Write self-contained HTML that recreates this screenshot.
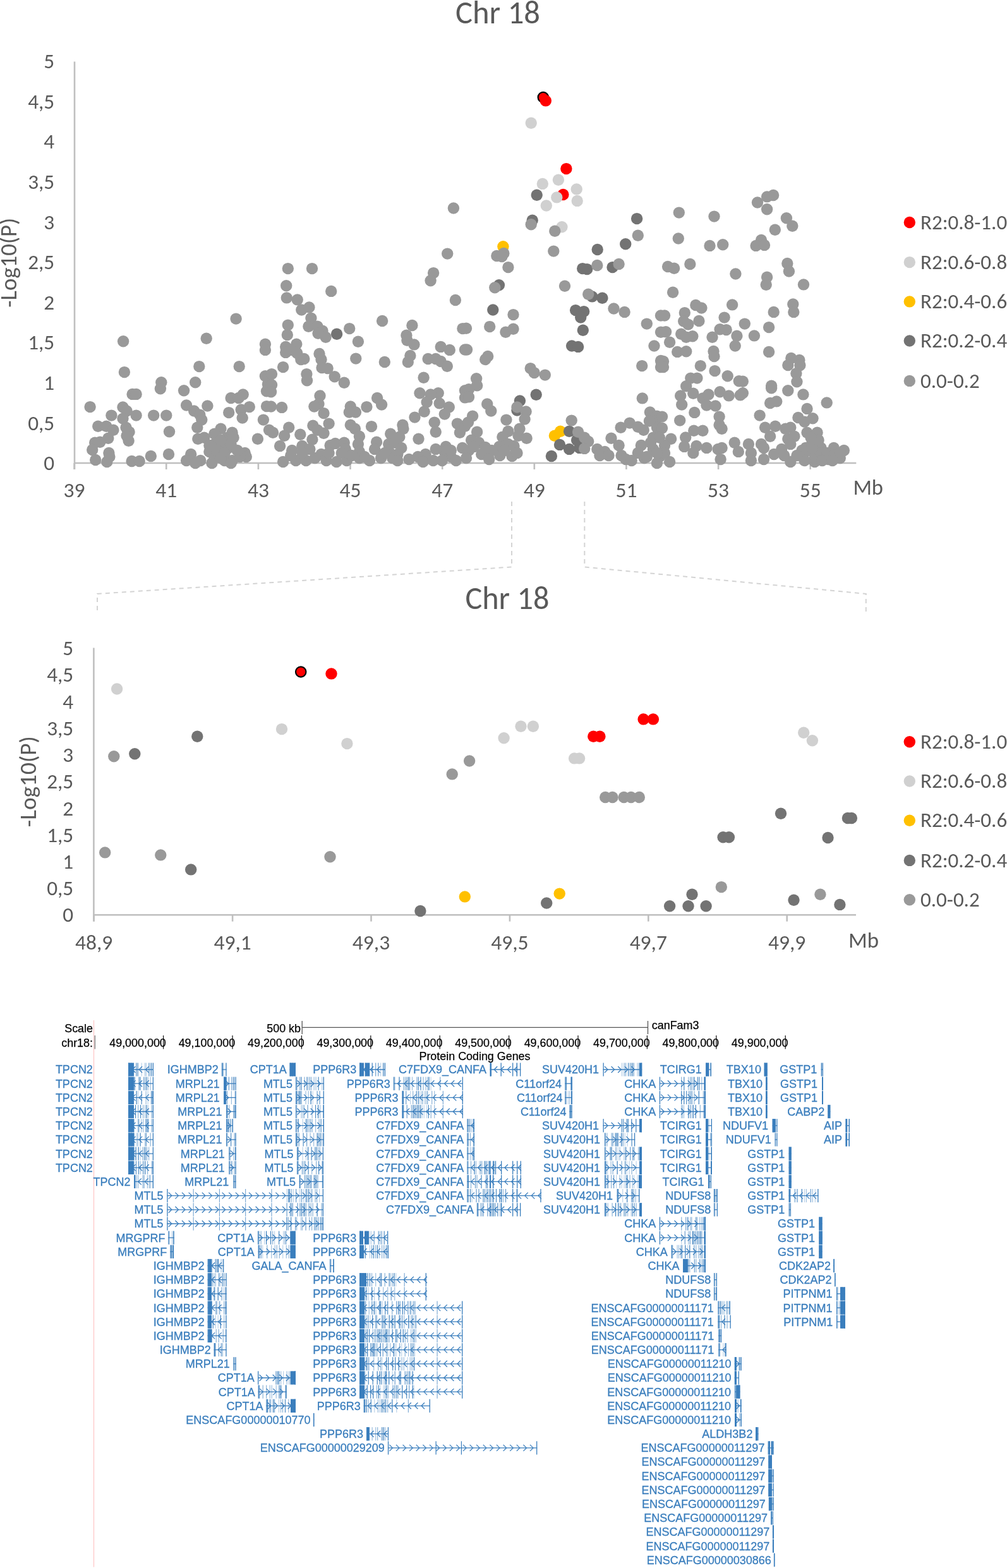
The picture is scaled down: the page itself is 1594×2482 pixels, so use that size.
<!DOCTYPE html>
<html><head><meta charset="utf-8"><title>Chr 18 association plot</title>
<style>html,body{margin:0;padding:0;background:#fff;} body{width:1594px;height:2482px;overflow:hidden;} svg{display:block;}</style>
</head><body>
<svg width="1594" height="2482" viewBox="0 0 1594 2482">
<rect width="1594" height="2482" fill="#fff"/>
<g font-family="Carlito, 'Liberation Sans', sans-serif" fill="#595959">
<text x="721" y="36.8" font-size="50.7" textLength="134" lengthAdjust="spacingAndGlyphs">Chr 18</text>
<text x="736.4" y="963.6" font-size="50.5" textLength="133" lengthAdjust="spacingAndGlyphs">Chr 18</text>
<g stroke="#bfbfbf" stroke-width="2.6" fill="none">
<line x1="118" y1="97.5" x2="118" y2="743"/>
<line x1="118" y1="733" x2="1355.3" y2="733"/>
<line x1="117.6" y1="733" x2="117.6" y2="743"/>
<line x1="263.2" y1="733" x2="263.2" y2="743"/>
<line x1="408.9" y1="733" x2="408.9" y2="743"/>
<line x1="554.5" y1="733" x2="554.5" y2="743"/>
<line x1="700.2" y1="733" x2="700.2" y2="743"/>
<line x1="845.8" y1="733" x2="845.8" y2="743"/>
<line x1="991.4" y1="733" x2="991.4" y2="743"/>
<line x1="1137.1" y1="733" x2="1137.1" y2="743"/>
<line x1="1282.7" y1="733" x2="1282.7" y2="743"/>
</g>
<text x="86.2" y="744.2" text-anchor="end" font-size="33.3" textLength="16.88" lengthAdjust="spacingAndGlyphs">0</text>
<text x="86.2" y="680.6" text-anchor="end" font-size="33.3" textLength="42.07" lengthAdjust="spacingAndGlyphs">0,5</text>
<text x="86.2" y="617" text-anchor="end" font-size="33.3" textLength="16.88" lengthAdjust="spacingAndGlyphs">1</text>
<text x="86.2" y="553.4" text-anchor="end" font-size="33.3" textLength="42.07" lengthAdjust="spacingAndGlyphs">1,5</text>
<text x="86.2" y="489.8" text-anchor="end" font-size="33.3" textLength="16.88" lengthAdjust="spacingAndGlyphs">2</text>
<text x="86.2" y="426.2" text-anchor="end" font-size="33.3" textLength="42.07" lengthAdjust="spacingAndGlyphs">2,5</text>
<text x="86.2" y="362.6" text-anchor="end" font-size="33.3" textLength="16.88" lengthAdjust="spacingAndGlyphs">3</text>
<text x="86.2" y="299" text-anchor="end" font-size="33.3" textLength="42.07" lengthAdjust="spacingAndGlyphs">3,5</text>
<text x="86.2" y="235.4" text-anchor="end" font-size="33.3" textLength="16.88" lengthAdjust="spacingAndGlyphs">4</text>
<text x="86.2" y="171.8" text-anchor="end" font-size="33.3" textLength="42.07" lengthAdjust="spacingAndGlyphs">4,5</text>
<text x="86.2" y="108.2" text-anchor="end" font-size="33.3" textLength="16.88" lengthAdjust="spacingAndGlyphs">5</text>
<text x="117.6" y="787.4" text-anchor="middle" font-size="33.5" textLength="33.96" lengthAdjust="spacingAndGlyphs">39</text>
<text x="263.2" y="787.4" text-anchor="middle" font-size="33.5" textLength="33.96" lengthAdjust="spacingAndGlyphs">41</text>
<text x="408.9" y="787.4" text-anchor="middle" font-size="33.5" textLength="33.96" lengthAdjust="spacingAndGlyphs">43</text>
<text x="554.5" y="787.4" text-anchor="middle" font-size="33.5" textLength="33.96" lengthAdjust="spacingAndGlyphs">45</text>
<text x="700.2" y="787.4" text-anchor="middle" font-size="33.5" textLength="33.96" lengthAdjust="spacingAndGlyphs">47</text>
<text x="845.8" y="787.4" text-anchor="middle" font-size="33.5" textLength="33.96" lengthAdjust="spacingAndGlyphs">49</text>
<text x="991.4" y="787.4" text-anchor="middle" font-size="33.5" textLength="33.96" lengthAdjust="spacingAndGlyphs">51</text>
<text x="1137.1" y="787.4" text-anchor="middle" font-size="33.5" textLength="33.96" lengthAdjust="spacingAndGlyphs">53</text>
<text x="1282.7" y="787.4" text-anchor="middle" font-size="33.5" textLength="33.96" lengthAdjust="spacingAndGlyphs">55</text>
<text x="1350.4" y="783.2" font-size="35.5" textLength="47.6" lengthAdjust="spacingAndGlyphs">Mb</text>
<text transform="translate(25.5,486.8) rotate(-90)" font-size="36.5" textLength="142" lengthAdjust="spacingAndGlyphs">-Log10(P)</text>
<g stroke="#bfbfbf" stroke-width="2.6" fill="none">
<line x1="148.4" y1="1025.4" x2="148.4" y2="1458.6"/>
<line x1="148.4" y1="1448.2" x2="1355" y2="1448.2"/>
<line x1="148.7" y1="1448.2" x2="148.7" y2="1458.6"/>
<line x1="368.1" y1="1448.2" x2="368.1" y2="1458.6"/>
<line x1="587.5" y1="1448.2" x2="587.5" y2="1458.6"/>
<line x1="806.9" y1="1448.2" x2="806.9" y2="1458.6"/>
<line x1="1026.3" y1="1448.2" x2="1026.3" y2="1458.6"/>
<line x1="1245.7" y1="1448.2" x2="1245.7" y2="1458.6"/>
</g>
<text x="116.2" y="1459.4" text-anchor="end" font-size="33.3" textLength="16.88" lengthAdjust="spacingAndGlyphs">0</text>
<text x="116.2" y="1417.1" text-anchor="end" font-size="33.3" textLength="42.07" lengthAdjust="spacingAndGlyphs">0,5</text>
<text x="116.2" y="1374.9" text-anchor="end" font-size="33.3" textLength="16.88" lengthAdjust="spacingAndGlyphs">1</text>
<text x="116.2" y="1332.7" text-anchor="end" font-size="33.3" textLength="42.07" lengthAdjust="spacingAndGlyphs">1,5</text>
<text x="116.2" y="1290.5" text-anchor="end" font-size="33.3" textLength="16.88" lengthAdjust="spacingAndGlyphs">2</text>
<text x="116.2" y="1248.3" text-anchor="end" font-size="33.3" textLength="42.07" lengthAdjust="spacingAndGlyphs">2,5</text>
<text x="116.2" y="1206" text-anchor="end" font-size="33.3" textLength="16.88" lengthAdjust="spacingAndGlyphs">3</text>
<text x="116.2" y="1163.8" text-anchor="end" font-size="33.3" textLength="42.07" lengthAdjust="spacingAndGlyphs">3,5</text>
<text x="116.2" y="1121.6" text-anchor="end" font-size="33.3" textLength="16.88" lengthAdjust="spacingAndGlyphs">4</text>
<text x="116.2" y="1079.4" text-anchor="end" font-size="33.3" textLength="42.07" lengthAdjust="spacingAndGlyphs">4,5</text>
<text x="116.2" y="1037.2" text-anchor="end" font-size="33.3" textLength="16.88" lengthAdjust="spacingAndGlyphs">5</text>
<text x="148.7" y="1503.3" text-anchor="middle" font-size="33.5" textLength="59.30" lengthAdjust="spacingAndGlyphs">48,9</text>
<text x="368.1" y="1503.3" text-anchor="middle" font-size="33.5" textLength="59.30" lengthAdjust="spacingAndGlyphs">49,1</text>
<text x="587.5" y="1503.3" text-anchor="middle" font-size="33.5" textLength="59.30" lengthAdjust="spacingAndGlyphs">49,3</text>
<text x="806.9" y="1503.3" text-anchor="middle" font-size="33.5" textLength="59.30" lengthAdjust="spacingAndGlyphs">49,5</text>
<text x="1026.3" y="1503.3" text-anchor="middle" font-size="33.5" textLength="59.30" lengthAdjust="spacingAndGlyphs">49,7</text>
<text x="1245.7" y="1503.3" text-anchor="middle" font-size="33.5" textLength="59.30" lengthAdjust="spacingAndGlyphs">49,9</text>
<text x="1343" y="1499.5" font-size="35.5" textLength="48" lengthAdjust="spacingAndGlyphs">Mb</text>
<text transform="translate(56.5,1309.2) rotate(-90)" font-size="36.5" textLength="144" lengthAdjust="spacingAndGlyphs">-Log10(P)</text>
<circle cx="1439.8" cy="352.0" r="9.2" fill="#ff0000" stroke="none"/>
<text x="1457" y="362.6" font-size="33" textLength="137.15" lengthAdjust="spacingAndGlyphs">R2:0.8-1.0</text>
<circle cx="1439.8" cy="415.1" r="9.2" fill="#d0d0d0" stroke="none"/>
<text x="1457" y="425.7" font-size="33" textLength="137.15" lengthAdjust="spacingAndGlyphs">R2:0.6-0.8</text>
<circle cx="1439.8" cy="477.4" r="9.2" fill="#ffc000" stroke="none"/>
<text x="1457" y="488" font-size="33" textLength="137.15" lengthAdjust="spacingAndGlyphs">R2:0.4-0.6</text>
<circle cx="1439.8" cy="539.5" r="9.2" fill="#737373" stroke="none"/>
<text x="1457" y="550.1" font-size="33" textLength="137.15" lengthAdjust="spacingAndGlyphs">R2:0.2-0.4</text>
<circle cx="1439.8" cy="602.9" r="9.2" fill="#999999" stroke="none"/>
<text x="1457" y="613.5" font-size="33" textLength="93.67" lengthAdjust="spacingAndGlyphs">0.0-0.2</text>
<circle cx="1439.8" cy="1174.3" r="9.2" fill="#ff0000" stroke="none"/>
<text x="1457" y="1184.9" font-size="33" textLength="137.15" lengthAdjust="spacingAndGlyphs">R2:0.8-1.0</text>
<circle cx="1439.8" cy="1236.5" r="9.2" fill="#d0d0d0" stroke="none"/>
<text x="1457" y="1247.1" font-size="33" textLength="137.15" lengthAdjust="spacingAndGlyphs">R2:0.6-0.8</text>
<circle cx="1439.8" cy="1298.8" r="9.2" fill="#ffc000" stroke="none"/>
<text x="1457" y="1309.4" font-size="33" textLength="137.15" lengthAdjust="spacingAndGlyphs">R2:0.4-0.6</text>
<circle cx="1439.8" cy="1361.9" r="9.2" fill="#737373" stroke="none"/>
<text x="1457" y="1372.5" font-size="33" textLength="137.15" lengthAdjust="spacingAndGlyphs">R2:0.2-0.4</text>
<circle cx="1439.8" cy="1424.2" r="9.2" fill="#999999" stroke="none"/>
<text x="1457" y="1434.8" font-size="33" textLength="93.67" lengthAdjust="spacingAndGlyphs">0.0-0.2</text>
</g>
<g stroke="#d4d4d4" stroke-width="2" fill="none" stroke-dasharray="7 6">
<path d="M810,794 L810,897.5 L154,940 L154,972"/>
<path d="M925.3,794 L925.3,897.5 L1370.8,940 L1370.8,971"/>
</g>
<g>
<circle cx="859.8" cy="154.0" r="8.2" fill="#ff0000" stroke="#000" stroke-width="2.2"/>
<circle cx="863.8" cy="159.4" r="9.2" fill="#ff0000"/>
<circle cx="896.4" cy="267.1" r="9.2" fill="#ff0000"/>
<circle cx="891.4" cy="308.0" r="9.2" fill="#ff0000"/>
<circle cx="840.7" cy="194.7" r="9.2" fill="#d0d0d0"/>
<circle cx="858.8" cy="290.9" r="9.2" fill="#d0d0d0"/>
<circle cx="883.9" cy="284.7" r="9.2" fill="#d0d0d0"/>
<circle cx="912.7" cy="299.4" r="9.2" fill="#d0d0d0"/>
<circle cx="881.3" cy="312.4" r="9.2" fill="#d0d0d0"/>
<circle cx="864.8" cy="325.5" r="9.2" fill="#d0d0d0"/>
<circle cx="913.7" cy="317.9" r="9.2" fill="#d0d0d0"/>
<circle cx="889.4" cy="359.3" r="9.2" fill="#d0d0d0"/>
<circle cx="796.4" cy="390.3" r="9.2" fill="#ffc000"/>
<circle cx="887.0" cy="682.7" r="9.2" fill="#ffc000"/>
<circle cx="877.9" cy="689.8" r="9.2" fill="#ffc000"/>
<circle cx="533.1" cy="528.7" r="9.2" fill="#737373"/>
<circle cx="849.7" cy="308.8" r="9.2" fill="#737373"/>
<circle cx="842.7" cy="348.7" r="9.2" fill="#737373"/>
<circle cx="1008.1" cy="346.1" r="9.2" fill="#737373"/>
<circle cx="990.2" cy="386.3" r="9.2" fill="#737373"/>
<circle cx="945.7" cy="395.0" r="9.2" fill="#737373"/>
<circle cx="789.9" cy="451.2" r="9.2" fill="#737373"/>
<circle cx="780.3" cy="490.5" r="9.2" fill="#737373"/>
<circle cx="929.2" cy="426.1" r="9.2" fill="#737373"/>
<circle cx="969.5" cy="423.1" r="9.2" fill="#737373"/>
<circle cx="937.3" cy="469.4" r="9.2" fill="#737373"/>
<circle cx="953.4" cy="471.8" r="9.2" fill="#737373"/>
<circle cx="911.1" cy="491.1" r="9.2" fill="#737373"/>
<circle cx="924.2" cy="493.1" r="9.2" fill="#737373"/>
<circle cx="919.2" cy="502.6" r="9.2" fill="#737373"/>
<circle cx="922.8" cy="522.7" r="9.2" fill="#737373"/>
<circle cx="905.1" cy="547.5" r="9.2" fill="#737373"/>
<circle cx="915.1" cy="548.9" r="9.2" fill="#737373"/>
<circle cx="848.7" cy="624.8" r="9.2" fill="#737373"/>
<circle cx="822.9" cy="634.4" r="9.2" fill="#737373"/>
<circle cx="818.5" cy="649.5" r="9.2" fill="#737373"/>
<circle cx="901.1" cy="682.7" r="9.2" fill="#737373"/>
<circle cx="886.0" cy="703.9" r="9.2" fill="#737373"/>
<circle cx="901.1" cy="710.9" r="9.2" fill="#737373"/>
<circle cx="913.1" cy="696.8" r="9.2" fill="#737373"/>
<circle cx="917.2" cy="708.9" r="9.2" fill="#737373"/>
<circle cx="872.9" cy="722.0" r="9.2" fill="#737373"/>
<circle cx="922.2" cy="425.1" r="9.2" fill="#737373"/>
<circle cx="195.1" cy="540.2" r="9.2" fill="#999999"/>
<circle cx="196.9" cy="589.1" r="9.2" fill="#999999"/>
<circle cx="326.7" cy="535.8" r="9.2" fill="#999999"/>
<circle cx="373.6" cy="504.6" r="9.2" fill="#999999"/>
<circle cx="315.3" cy="580.1" r="9.2" fill="#999999"/>
<circle cx="378.7" cy="580.1" r="9.2" fill="#999999"/>
<circle cx="419.9" cy="544.8" r="9.2" fill="#999999"/>
<circle cx="419.9" cy="553.9" r="9.2" fill="#999999"/>
<circle cx="255.3" cy="605.2" r="9.2" fill="#999999"/>
<circle cx="253.9" cy="615.3" r="9.2" fill="#999999"/>
<circle cx="309.2" cy="605.2" r="9.2" fill="#999999"/>
<circle cx="291.1" cy="618.3" r="9.2" fill="#999999"/>
<circle cx="209.6" cy="623.9" r="9.2" fill="#999999"/>
<circle cx="215.6" cy="623.9" r="9.2" fill="#999999"/>
<circle cx="142.6" cy="644.1" r="9.2" fill="#999999"/>
<circle cx="194.5" cy="644.5" r="9.2" fill="#999999"/>
<circle cx="200.5" cy="650.5" r="9.2" fill="#999999"/>
<circle cx="176.4" cy="657.6" r="9.2" fill="#999999"/>
<circle cx="215.6" cy="657.6" r="9.2" fill="#999999"/>
<circle cx="194.5" cy="662.6" r="9.2" fill="#999999"/>
<circle cx="243.2" cy="657.6" r="9.2" fill="#999999"/>
<circle cx="263.3" cy="657.6" r="9.2" fill="#999999"/>
<circle cx="295.1" cy="641.5" r="9.2" fill="#999999"/>
<circle cx="307.2" cy="650.5" r="9.2" fill="#999999"/>
<circle cx="316.3" cy="656.6" r="9.2" fill="#999999"/>
<circle cx="319.3" cy="664.6" r="9.2" fill="#999999"/>
<circle cx="312.3" cy="676.7" r="9.2" fill="#999999"/>
<circle cx="328.4" cy="642.5" r="9.2" fill="#999999"/>
<circle cx="365.6" cy="630.0" r="9.2" fill="#999999"/>
<circle cx="377.7" cy="630.0" r="9.2" fill="#999999"/>
<circle cx="384.7" cy="624.4" r="9.2" fill="#999999"/>
<circle cx="362.2" cy="653.1" r="9.2" fill="#999999"/>
<circle cx="381.7" cy="648.5" r="9.2" fill="#999999"/>
<circle cx="394.8" cy="644.1" r="9.2" fill="#999999"/>
<circle cx="383.7" cy="661.6" r="9.2" fill="#999999"/>
<circle cx="419.9" cy="595.2" r="9.2" fill="#999999"/>
<circle cx="424.0" cy="608.2" r="9.2" fill="#999999"/>
<circle cx="422.0" cy="619.3" r="9.2" fill="#999999"/>
<circle cx="422.0" cy="643.1" r="9.2" fill="#999999"/>
<circle cx="416.9" cy="664.6" r="9.2" fill="#999999"/>
<circle cx="426.0" cy="680.7" r="9.2" fill="#999999"/>
<circle cx="155.2" cy="674.7" r="9.2" fill="#999999"/>
<circle cx="168.3" cy="674.7" r="9.2" fill="#999999"/>
<circle cx="179.4" cy="680.7" r="9.2" fill="#999999"/>
<circle cx="199.5" cy="676.7" r="9.2" fill="#999999"/>
<circle cx="204.6" cy="683.7" r="9.2" fill="#999999"/>
<circle cx="200.5" cy="689.8" r="9.2" fill="#999999"/>
<circle cx="203.6" cy="697.8" r="9.2" fill="#999999"/>
<circle cx="171.3" cy="693.8" r="9.2" fill="#999999"/>
<circle cx="158.3" cy="699.8" r="9.2" fill="#999999"/>
<circle cx="150.2" cy="700.8" r="9.2" fill="#999999"/>
<circle cx="146.2" cy="711.9" r="9.2" fill="#999999"/>
<circle cx="172.4" cy="716.9" r="9.2" fill="#999999"/>
<circle cx="173.4" cy="723.0" r="9.2" fill="#999999"/>
<circle cx="151.2" cy="728.0" r="9.2" fill="#999999"/>
<circle cx="169.3" cy="731.0" r="9.2" fill="#999999"/>
<circle cx="268.0" cy="683.3" r="9.2" fill="#999999"/>
<circle cx="238.8" cy="722.0" r="9.2" fill="#999999"/>
<circle cx="267.0" cy="719.0" r="9.2" fill="#999999"/>
<circle cx="208.6" cy="730.0" r="9.2" fill="#999999"/>
<circle cx="220.7" cy="730.0" r="9.2" fill="#999999"/>
<circle cx="407.9" cy="694.8" r="9.2" fill="#999999"/>
<circle cx="313.3" cy="694.8" r="9.2" fill="#999999"/>
<circle cx="323.3" cy="692.8" r="9.2" fill="#999999"/>
<circle cx="349.5" cy="678.7" r="9.2" fill="#999999"/>
<circle cx="367.6" cy="684.7" r="9.2" fill="#999999"/>
<circle cx="359.6" cy="692.8" r="9.2" fill="#999999"/>
<circle cx="339.4" cy="702.9" r="9.2" fill="#999999"/>
<circle cx="359.6" cy="698.8" r="9.2" fill="#999999"/>
<circle cx="331.4" cy="714.9" r="9.2" fill="#999999"/>
<circle cx="349.5" cy="710.9" r="9.2" fill="#999999"/>
<circle cx="361.6" cy="708.9" r="9.2" fill="#999999"/>
<circle cx="339.4" cy="725.0" r="9.2" fill="#999999"/>
<circle cx="355.5" cy="729.0" r="9.2" fill="#999999"/>
<circle cx="367.6" cy="729.0" r="9.2" fill="#999999"/>
<circle cx="387.7" cy="716.9" r="9.2" fill="#999999"/>
<circle cx="389.8" cy="723.0" r="9.2" fill="#999999"/>
<circle cx="379.7" cy="723.0" r="9.2" fill="#999999"/>
<circle cx="302.2" cy="719.0" r="9.2" fill="#999999"/>
<circle cx="295.1" cy="729.0" r="9.2" fill="#999999"/>
<circle cx="317.3" cy="729.0" r="9.2" fill="#999999"/>
<circle cx="309.2" cy="733.1" r="9.2" fill="#999999"/>
<circle cx="335.4" cy="733.1" r="9.2" fill="#999999"/>
<circle cx="365.6" cy="733.1" r="9.2" fill="#999999"/>
<circle cx="455.8" cy="425.1" r="9.2" fill="#999999"/>
<circle cx="494.0" cy="425.1" r="9.2" fill="#999999"/>
<circle cx="453.2" cy="452.2" r="9.2" fill="#999999"/>
<circle cx="524.2" cy="460.9" r="9.2" fill="#999999"/>
<circle cx="453.8" cy="471.4" r="9.2" fill="#999999"/>
<circle cx="470.7" cy="474.4" r="9.2" fill="#999999"/>
<circle cx="477.3" cy="490.5" r="9.2" fill="#999999"/>
<circle cx="489.4" cy="486.5" r="9.2" fill="#999999"/>
<circle cx="492.4" cy="503.6" r="9.2" fill="#999999"/>
<circle cx="488.4" cy="516.7" r="9.2" fill="#999999"/>
<circle cx="502.5" cy="516.7" r="9.2" fill="#999999"/>
<circle cx="510.5" cy="523.7" r="9.2" fill="#999999"/>
<circle cx="503.5" cy="527.7" r="9.2" fill="#999999"/>
<circle cx="515.6" cy="533.8" r="9.2" fill="#999999"/>
<circle cx="455.8" cy="514.6" r="9.2" fill="#999999"/>
<circle cx="454.8" cy="530.1" r="9.2" fill="#999999"/>
<circle cx="553.2" cy="520.1" r="9.2" fill="#999999"/>
<circle cx="566.9" cy="540.8" r="9.2" fill="#999999"/>
<circle cx="605.1" cy="508.0" r="9.2" fill="#999999"/>
<circle cx="652.4" cy="515.0" r="9.2" fill="#999999"/>
<circle cx="643.4" cy="530.7" r="9.2" fill="#999999"/>
<circle cx="644.4" cy="538.8" r="9.2" fill="#999999"/>
<circle cx="655.5" cy="545.4" r="9.2" fill="#999999"/>
<circle cx="649.4" cy="563.0" r="9.2" fill="#999999"/>
<circle cx="645.8" cy="573.0" r="9.2" fill="#999999"/>
<circle cx="686.1" cy="432.1" r="9.2" fill="#999999"/>
<circle cx="681.6" cy="444.2" r="9.2" fill="#999999"/>
<circle cx="720.9" cy="475.0" r="9.2" fill="#999999"/>
<circle cx="732.4" cy="520.1" r="9.2" fill="#999999"/>
<circle cx="736.0" cy="553.5" r="9.2" fill="#999999"/>
<circle cx="469.3" cy="544.8" r="9.2" fill="#999999"/>
<circle cx="452.2" cy="548.9" r="9.2" fill="#999999"/>
<circle cx="460.2" cy="553.9" r="9.2" fill="#999999"/>
<circle cx="452.2" cy="557.9" r="9.2" fill="#999999"/>
<circle cx="470.3" cy="558.9" r="9.2" fill="#999999"/>
<circle cx="476.3" cy="569.0" r="9.2" fill="#999999"/>
<circle cx="481.3" cy="568.0" r="9.2" fill="#999999"/>
<circle cx="505.5" cy="559.9" r="9.2" fill="#999999"/>
<circle cx="508.5" cy="569.0" r="9.2" fill="#999999"/>
<circle cx="509.5" cy="582.1" r="9.2" fill="#999999"/>
<circle cx="518.6" cy="583.1" r="9.2" fill="#999999"/>
<circle cx="529.7" cy="596.2" r="9.2" fill="#999999"/>
<circle cx="544.8" cy="605.8" r="9.2" fill="#999999"/>
<circle cx="563.3" cy="567.6" r="9.2" fill="#999999"/>
<circle cx="608.8" cy="573.0" r="9.2" fill="#999999"/>
<circle cx="697.7" cy="548.9" r="9.2" fill="#999999"/>
<circle cx="711.8" cy="553.9" r="9.2" fill="#999999"/>
<circle cx="677.6" cy="568.0" r="9.2" fill="#999999"/>
<circle cx="689.7" cy="568.0" r="9.2" fill="#999999"/>
<circle cx="697.7" cy="572.0" r="9.2" fill="#999999"/>
<circle cx="707.8" cy="579.7" r="9.2" fill="#999999"/>
<circle cx="670.6" cy="597.8" r="9.2" fill="#999999"/>
<circle cx="448.1" cy="581.1" r="9.2" fill="#999999"/>
<circle cx="430.0" cy="592.1" r="9.2" fill="#999999"/>
<circle cx="485.4" cy="592.1" r="9.2" fill="#999999"/>
<circle cx="486.0" cy="602.2" r="9.2" fill="#999999"/>
<circle cx="430.0" cy="609.3" r="9.2" fill="#999999"/>
<circle cx="429.0" cy="620.3" r="9.2" fill="#999999"/>
<circle cx="429.0" cy="643.5" r="9.2" fill="#999999"/>
<circle cx="446.1" cy="644.9" r="9.2" fill="#999999"/>
<circle cx="506.5" cy="626.4" r="9.2" fill="#999999"/>
<circle cx="504.5" cy="639.4" r="9.2" fill="#999999"/>
<circle cx="497.4" cy="643.5" r="9.2" fill="#999999"/>
<circle cx="512.5" cy="654.1" r="9.2" fill="#999999"/>
<circle cx="554.8" cy="643.5" r="9.2" fill="#999999"/>
<circle cx="562.9" cy="652.5" r="9.2" fill="#999999"/>
<circle cx="552.8" cy="652.5" r="9.2" fill="#999999"/>
<circle cx="580.4" cy="644.1" r="9.2" fill="#999999"/>
<circle cx="597.1" cy="630.0" r="9.2" fill="#999999"/>
<circle cx="604.1" cy="640.5" r="9.2" fill="#999999"/>
<circle cx="664.5" cy="622.3" r="9.2" fill="#999999"/>
<circle cx="693.7" cy="622.3" r="9.2" fill="#999999"/>
<circle cx="681.6" cy="624.4" r="9.2" fill="#999999"/>
<circle cx="675.6" cy="636.4" r="9.2" fill="#999999"/>
<circle cx="695.7" cy="638.4" r="9.2" fill="#999999"/>
<circle cx="710.8" cy="644.5" r="9.2" fill="#999999"/>
<circle cx="703.8" cy="655.6" r="9.2" fill="#999999"/>
<circle cx="671.6" cy="651.5" r="9.2" fill="#999999"/>
<circle cx="656.5" cy="660.6" r="9.2" fill="#999999"/>
<circle cx="637.4" cy="672.7" r="9.2" fill="#999999"/>
<circle cx="638.4" cy="678.7" r="9.2" fill="#999999"/>
<circle cx="687.7" cy="668.6" r="9.2" fill="#999999"/>
<circle cx="689.7" cy="683.7" r="9.2" fill="#999999"/>
<circle cx="662.5" cy="694.8" r="9.2" fill="#999999"/>
<circle cx="736.0" cy="618.3" r="9.2" fill="#999999"/>
<circle cx="736.0" cy="629.4" r="9.2" fill="#999999"/>
<circle cx="723.9" cy="670.6" r="9.2" fill="#999999"/>
<circle cx="727.9" cy="684.7" r="9.2" fill="#999999"/>
<circle cx="736.0" cy="674.7" r="9.2" fill="#999999"/>
<circle cx="457.2" cy="676.7" r="9.2" fill="#999999"/>
<circle cx="432.0" cy="684.7" r="9.2" fill="#999999"/>
<circle cx="450.1" cy="689.8" r="9.2" fill="#999999"/>
<circle cx="475.3" cy="687.8" r="9.2" fill="#999999"/>
<circle cx="495.4" cy="673.7" r="9.2" fill="#999999"/>
<circle cx="502.5" cy="680.7" r="9.2" fill="#999999"/>
<circle cx="512.5" cy="685.7" r="9.2" fill="#999999"/>
<circle cx="520.6" cy="670.6" r="9.2" fill="#999999"/>
<circle cx="554.8" cy="672.7" r="9.2" fill="#999999"/>
<circle cx="561.9" cy="678.7" r="9.2" fill="#999999"/>
<circle cx="568.9" cy="690.8" r="9.2" fill="#999999"/>
<circle cx="588.0" cy="675.1" r="9.2" fill="#999999"/>
<circle cx="618.2" cy="686.8" r="9.2" fill="#999999"/>
<circle cx="632.3" cy="691.8" r="9.2" fill="#999999"/>
<circle cx="443.1" cy="705.9" r="9.2" fill="#999999"/>
<circle cx="462.2" cy="712.9" r="9.2" fill="#999999"/>
<circle cx="478.3" cy="705.9" r="9.2" fill="#999999"/>
<circle cx="494.4" cy="695.8" r="9.2" fill="#999999"/>
<circle cx="490.4" cy="710.9" r="9.2" fill="#999999"/>
<circle cx="522.6" cy="704.9" r="9.2" fill="#999999"/>
<circle cx="530.7" cy="701.9" r="9.2" fill="#999999"/>
<circle cx="544.8" cy="700.8" r="9.2" fill="#999999"/>
<circle cx="546.8" cy="710.9" r="9.2" fill="#999999"/>
<circle cx="566.9" cy="702.9" r="9.2" fill="#999999"/>
<circle cx="568.9" cy="714.9" r="9.2" fill="#999999"/>
<circle cx="596.1" cy="699.8" r="9.2" fill="#999999"/>
<circle cx="593.1" cy="710.9" r="9.2" fill="#999999"/>
<circle cx="615.2" cy="702.9" r="9.2" fill="#999999"/>
<circle cx="625.3" cy="700.8" r="9.2" fill="#999999"/>
<circle cx="635.3" cy="708.9" r="9.2" fill="#999999"/>
<circle cx="615.2" cy="712.9" r="9.2" fill="#999999"/>
<circle cx="705.8" cy="706.9" r="9.2" fill="#999999"/>
<circle cx="703.8" cy="714.9" r="9.2" fill="#999999"/>
<circle cx="713.8" cy="723.0" r="9.2" fill="#999999"/>
<circle cx="732.0" cy="708.9" r="9.2" fill="#999999"/>
<circle cx="673.6" cy="719.0" r="9.2" fill="#999999"/>
<circle cx="661.5" cy="723.0" r="9.2" fill="#999999"/>
<circle cx="647.4" cy="727.0" r="9.2" fill="#999999"/>
<circle cx="448.1" cy="731.0" r="9.2" fill="#999999"/>
<circle cx="468.3" cy="729.0" r="9.2" fill="#999999"/>
<circle cx="484.4" cy="729.0" r="9.2" fill="#999999"/>
<circle cx="508.5" cy="719.0" r="9.2" fill="#999999"/>
<circle cx="516.6" cy="729.0" r="9.2" fill="#999999"/>
<circle cx="532.7" cy="731.0" r="9.2" fill="#999999"/>
<circle cx="548.8" cy="729.0" r="9.2" fill="#999999"/>
<circle cx="568.9" cy="725.0" r="9.2" fill="#999999"/>
<circle cx="585.0" cy="729.0" r="9.2" fill="#999999"/>
<circle cx="603.1" cy="725.0" r="9.2" fill="#999999"/>
<circle cx="621.2" cy="725.0" r="9.2" fill="#999999"/>
<circle cx="629.3" cy="719.0" r="9.2" fill="#999999"/>
<circle cx="699.8" cy="729.0" r="9.2" fill="#999999"/>
<circle cx="721.9" cy="729.0" r="9.2" fill="#999999"/>
<circle cx="669.6" cy="731.0" r="9.2" fill="#999999"/>
<circle cx="717.9" cy="329.5" r="9.2" fill="#999999"/>
<circle cx="708.2" cy="401.6" r="9.2" fill="#999999"/>
<circle cx="840.7" cy="355.3" r="9.2" fill="#999999"/>
<circle cx="878.3" cy="365.8" r="9.2" fill="#999999"/>
<circle cx="1009.8" cy="372.8" r="9.2" fill="#999999"/>
<circle cx="876.3" cy="397.6" r="9.2" fill="#999999"/>
<circle cx="786.3" cy="405.0" r="9.2" fill="#999999"/>
<circle cx="797.4" cy="401.0" r="9.2" fill="#999999"/>
<circle cx="794.4" cy="406.0" r="9.2" fill="#999999"/>
<circle cx="804.4" cy="423.1" r="9.2" fill="#999999"/>
<circle cx="783.3" cy="455.3" r="9.2" fill="#999999"/>
<circle cx="894.0" cy="452.8" r="9.2" fill="#999999"/>
<circle cx="931.2" cy="465.7" r="9.2" fill="#999999"/>
<circle cx="945.3" cy="420.0" r="9.2" fill="#999999"/>
<circle cx="979.6" cy="418.0" r="9.2" fill="#999999"/>
<circle cx="812.5" cy="498.1" r="9.2" fill="#999999"/>
<circle cx="775.2" cy="517.1" r="9.2" fill="#999999"/>
<circle cx="800.4" cy="525.7" r="9.2" fill="#999999"/>
<circle cx="812.5" cy="520.7" r="9.2" fill="#999999"/>
<circle cx="738.0" cy="519.7" r="9.2" fill="#999999"/>
<circle cx="739.0" cy="553.5" r="9.2" fill="#999999"/>
<circle cx="772.2" cy="564.0" r="9.2" fill="#999999"/>
<circle cx="768.2" cy="569.0" r="9.2" fill="#999999"/>
<circle cx="839.7" cy="583.1" r="9.2" fill="#999999"/>
<circle cx="845.7" cy="590.1" r="9.2" fill="#999999"/>
<circle cx="862.8" cy="593.6" r="9.2" fill="#999999"/>
<circle cx="971.5" cy="488.5" r="9.2" fill="#999999"/>
<circle cx="988.6" cy="493.9" r="9.2" fill="#999999"/>
<circle cx="1023.8" cy="512.6" r="9.2" fill="#999999"/>
<circle cx="1046.0" cy="499.5" r="9.2" fill="#999999"/>
<circle cx="1046.0" cy="525.7" r="9.2" fill="#999999"/>
<circle cx="1035.5" cy="547.5" r="9.2" fill="#999999"/>
<circle cx="1016.2" cy="579.1" r="9.2" fill="#999999"/>
<circle cx="1046.0" cy="571.0" r="9.2" fill="#999999"/>
<circle cx="1046.0" cy="581.1" r="9.2" fill="#999999"/>
<circle cx="754.1" cy="599.2" r="9.2" fill="#999999"/>
<circle cx="755.1" cy="610.3" r="9.2" fill="#999999"/>
<circle cx="742.0" cy="616.3" r="9.2" fill="#999999"/>
<circle cx="742.0" cy="628.4" r="9.2" fill="#999999"/>
<circle cx="771.2" cy="639.4" r="9.2" fill="#999999"/>
<circle cx="777.3" cy="650.5" r="9.2" fill="#999999"/>
<circle cx="818.5" cy="644.5" r="9.2" fill="#999999"/>
<circle cx="832.6" cy="651.5" r="9.2" fill="#999999"/>
<circle cx="830.6" cy="663.6" r="9.2" fill="#999999"/>
<circle cx="748.1" cy="658.6" r="9.2" fill="#999999"/>
<circle cx="741.0" cy="668.6" r="9.2" fill="#999999"/>
<circle cx="801.4" cy="664.6" r="9.2" fill="#999999"/>
<circle cx="804.4" cy="682.7" r="9.2" fill="#999999"/>
<circle cx="822.5" cy="678.7" r="9.2" fill="#999999"/>
<circle cx="820.5" cy="689.8" r="9.2" fill="#999999"/>
<circle cx="833.6" cy="693.8" r="9.2" fill="#999999"/>
<circle cx="795.4" cy="691.8" r="9.2" fill="#999999"/>
<circle cx="755.1" cy="683.7" r="9.2" fill="#999999"/>
<circle cx="746.1" cy="696.8" r="9.2" fill="#999999"/>
<circle cx="758.1" cy="700.8" r="9.2" fill="#999999"/>
<circle cx="768.2" cy="707.9" r="9.2" fill="#999999"/>
<circle cx="742.0" cy="712.9" r="9.2" fill="#999999"/>
<circle cx="762.2" cy="719.0" r="9.2" fill="#999999"/>
<circle cx="738.0" cy="725.0" r="9.2" fill="#999999"/>
<circle cx="790.3" cy="706.9" r="9.2" fill="#999999"/>
<circle cx="804.4" cy="702.9" r="9.2" fill="#999999"/>
<circle cx="813.5" cy="705.9" r="9.2" fill="#999999"/>
<circle cx="791.3" cy="721.0" r="9.2" fill="#999999"/>
<circle cx="810.5" cy="722.0" r="9.2" fill="#999999"/>
<circle cx="904.7" cy="665.6" r="9.2" fill="#999999"/>
<circle cx="915.1" cy="683.7" r="9.2" fill="#999999"/>
<circle cx="925.2" cy="692.8" r="9.2" fill="#999999"/>
<circle cx="931.2" cy="698.8" r="9.2" fill="#999999"/>
<circle cx="925.2" cy="709.9" r="9.2" fill="#999999"/>
<circle cx="945.3" cy="710.9" r="9.2" fill="#999999"/>
<circle cx="957.4" cy="714.9" r="9.2" fill="#999999"/>
<circle cx="967.5" cy="693.8" r="9.2" fill="#999999"/>
<circle cx="979.6" cy="704.9" r="9.2" fill="#999999"/>
<circle cx="949.4" cy="721.0" r="9.2" fill="#999999"/>
<circle cx="963.5" cy="721.0" r="9.2" fill="#999999"/>
<circle cx="983.6" cy="721.0" r="9.2" fill="#999999"/>
<circle cx="990.6" cy="727.0" r="9.2" fill="#999999"/>
<circle cx="1016.8" cy="630.4" r="9.2" fill="#999999"/>
<circle cx="982.6" cy="676.7" r="9.2" fill="#999999"/>
<circle cx="996.7" cy="669.6" r="9.2" fill="#999999"/>
<circle cx="1009.8" cy="675.7" r="9.2" fill="#999999"/>
<circle cx="1018.8" cy="680.7" r="9.2" fill="#999999"/>
<circle cx="1028.9" cy="652.5" r="9.2" fill="#999999"/>
<circle cx="1039.9" cy="658.6" r="9.2" fill="#999999"/>
<circle cx="1037.9" cy="666.6" r="9.2" fill="#999999"/>
<circle cx="1039.9" cy="676.7" r="9.2" fill="#999999"/>
<circle cx="1033.9" cy="692.8" r="9.2" fill="#999999"/>
<circle cx="1014.8" cy="704.9" r="9.2" fill="#999999"/>
<circle cx="1019.8" cy="725.0" r="9.2" fill="#999999"/>
<circle cx="1033.9" cy="710.9" r="9.2" fill="#999999"/>
<circle cx="1044.0" cy="723.0" r="9.2" fill="#999999"/>
<circle cx="1039.9" cy="733.1" r="9.2" fill="#999999"/>
<circle cx="1074.8" cy="336.6" r="9.2" fill="#999999"/>
<circle cx="1130.5" cy="342.6" r="9.2" fill="#999999"/>
<circle cx="1073.8" cy="377.5" r="9.2" fill="#999999"/>
<circle cx="1123.5" cy="388.9" r="9.2" fill="#999999"/>
<circle cx="1144.2" cy="387.3" r="9.2" fill="#999999"/>
<circle cx="1199.0" cy="320.5" r="9.2" fill="#999999"/>
<circle cx="1214.1" cy="311.4" r="9.2" fill="#999999"/>
<circle cx="1224.1" cy="309.0" r="9.2" fill="#999999"/>
<circle cx="1214.1" cy="331.2" r="9.2" fill="#999999"/>
<circle cx="1244.9" cy="345.2" r="9.2" fill="#999999"/>
<circle cx="1254.3" cy="357.7" r="9.2" fill="#999999"/>
<circle cx="1226.8" cy="363.8" r="9.2" fill="#999999"/>
<circle cx="1205.0" cy="379.9" r="9.2" fill="#999999"/>
<circle cx="1196.6" cy="388.9" r="9.2" fill="#999999"/>
<circle cx="1210.0" cy="387.9" r="9.2" fill="#999999"/>
<circle cx="1057.1" cy="422.0" r="9.2" fill="#999999"/>
<circle cx="1067.1" cy="424.7" r="9.2" fill="#999999"/>
<circle cx="1092.3" cy="418.0" r="9.2" fill="#999999"/>
<circle cx="1246.3" cy="417.0" r="9.2" fill="#999999"/>
<circle cx="1248.9" cy="429.5" r="9.2" fill="#999999"/>
<circle cx="1164.4" cy="433.5" r="9.2" fill="#999999"/>
<circle cx="1214.1" cy="438.8" r="9.2" fill="#999999"/>
<circle cx="1212.7" cy="450.8" r="9.2" fill="#999999"/>
<circle cx="1272.0" cy="450.4" r="9.2" fill="#999999"/>
<circle cx="1065.1" cy="462.7" r="9.2" fill="#999999"/>
<circle cx="1101.3" cy="483.0" r="9.2" fill="#999999"/>
<circle cx="1110.4" cy="487.5" r="9.2" fill="#999999"/>
<circle cx="1159.1" cy="482.4" r="9.2" fill="#999999"/>
<circle cx="1255.3" cy="481.4" r="9.2" fill="#999999"/>
<circle cx="1256.3" cy="493.9" r="9.2" fill="#999999"/>
<circle cx="1224.7" cy="493.9" r="9.2" fill="#999999"/>
<circle cx="1052.0" cy="499.5" r="9.2" fill="#999999"/>
<circle cx="1083.8" cy="495.1" r="9.2" fill="#999999"/>
<circle cx="1082.2" cy="508.6" r="9.2" fill="#999999"/>
<circle cx="1089.3" cy="513.6" r="9.2" fill="#999999"/>
<circle cx="1106.4" cy="508.0" r="9.2" fill="#999999"/>
<circle cx="1146.6" cy="502.6" r="9.2" fill="#999999"/>
<circle cx="1178.8" cy="512.6" r="9.2" fill="#999999"/>
<circle cx="1217.1" cy="518.1" r="9.2" fill="#999999"/>
<circle cx="1054.0" cy="525.3" r="9.2" fill="#999999"/>
<circle cx="1078.2" cy="528.7" r="9.2" fill="#999999"/>
<circle cx="1086.2" cy="533.8" r="9.2" fill="#999999"/>
<circle cx="1096.3" cy="532.2" r="9.2" fill="#999999"/>
<circle cx="1060.1" cy="541.8" r="9.2" fill="#999999"/>
<circle cx="1072.2" cy="556.9" r="9.2" fill="#999999"/>
<circle cx="1086.2" cy="556.3" r="9.2" fill="#999999"/>
<circle cx="1127.5" cy="533.8" r="9.2" fill="#999999"/>
<circle cx="1139.6" cy="521.3" r="9.2" fill="#999999"/>
<circle cx="1149.7" cy="522.1" r="9.2" fill="#999999"/>
<circle cx="1166.4" cy="531.8" r="9.2" fill="#999999"/>
<circle cx="1163.7" cy="547.5" r="9.2" fill="#999999"/>
<circle cx="1193.9" cy="531.4" r="9.2" fill="#999999"/>
<circle cx="1129.5" cy="555.9" r="9.2" fill="#999999"/>
<circle cx="1130.5" cy="564.0" r="9.2" fill="#999999"/>
<circle cx="1217.1" cy="556.9" r="9.2" fill="#999999"/>
<circle cx="1050.0" cy="572.0" r="9.2" fill="#999999"/>
<circle cx="1050.0" cy="581.1" r="9.2" fill="#999999"/>
<circle cx="1108.8" cy="579.1" r="9.2" fill="#999999"/>
<circle cx="1131.5" cy="587.1" r="9.2" fill="#999999"/>
<circle cx="1151.7" cy="595.2" r="9.2" fill="#999999"/>
<circle cx="1169.8" cy="603.2" r="9.2" fill="#999999"/>
<circle cx="1175.8" cy="603.8" r="9.2" fill="#999999"/>
<circle cx="1093.3" cy="598.6" r="9.2" fill="#999999"/>
<circle cx="1103.4" cy="598.6" r="9.2" fill="#999999"/>
<circle cx="1086.2" cy="611.3" r="9.2" fill="#999999"/>
<circle cx="1252.3" cy="567.0" r="9.2" fill="#999999"/>
<circle cx="1265.4" cy="570.0" r="9.2" fill="#999999"/>
<circle cx="1247.3" cy="578.1" r="9.2" fill="#999999"/>
<circle cx="1266.4" cy="578.1" r="9.2" fill="#999999"/>
<circle cx="1260.4" cy="591.1" r="9.2" fill="#999999"/>
<circle cx="1261.4" cy="604.2" r="9.2" fill="#999999"/>
<circle cx="1221.1" cy="610.7" r="9.2" fill="#999999"/>
<circle cx="1221.1" cy="614.3" r="9.2" fill="#999999"/>
<circle cx="1247.3" cy="618.3" r="9.2" fill="#999999"/>
<circle cx="1271.4" cy="624.4" r="9.2" fill="#999999"/>
<circle cx="1308.7" cy="637.4" r="9.2" fill="#999999"/>
<circle cx="1077.2" cy="626.4" r="9.2" fill="#999999"/>
<circle cx="1079.2" cy="640.5" r="9.2" fill="#999999"/>
<circle cx="1097.3" cy="622.7" r="9.2" fill="#999999"/>
<circle cx="1112.4" cy="630.4" r="9.2" fill="#999999"/>
<circle cx="1121.5" cy="624.4" r="9.2" fill="#999999"/>
<circle cx="1118.5" cy="641.5" r="9.2" fill="#999999"/>
<circle cx="1132.5" cy="642.5" r="9.2" fill="#999999"/>
<circle cx="1139.6" cy="620.3" r="9.2" fill="#999999"/>
<circle cx="1153.7" cy="626.4" r="9.2" fill="#999999"/>
<circle cx="1171.8" cy="625.4" r="9.2" fill="#999999"/>
<circle cx="1175.8" cy="622.3" r="9.2" fill="#999999"/>
<circle cx="1219.1" cy="638.0" r="9.2" fill="#999999"/>
<circle cx="1229.2" cy="635.4" r="9.2" fill="#999999"/>
<circle cx="1277.5" cy="646.9" r="9.2" fill="#999999"/>
<circle cx="1099.3" cy="652.9" r="9.2" fill="#999999"/>
<circle cx="1076.2" cy="665.6" r="9.2" fill="#999999"/>
<circle cx="1138.6" cy="659.6" r="9.2" fill="#999999"/>
<circle cx="1138.6" cy="672.7" r="9.2" fill="#999999"/>
<circle cx="1142.6" cy="678.7" r="9.2" fill="#999999"/>
<circle cx="1202.6" cy="657.6" r="9.2" fill="#999999"/>
<circle cx="1263.4" cy="661.0" r="9.2" fill="#999999"/>
<circle cx="1273.5" cy="667.6" r="9.2" fill="#999999"/>
<circle cx="1286.5" cy="662.2" r="9.2" fill="#999999"/>
<circle cx="1048.0" cy="659.6" r="9.2" fill="#999999"/>
<circle cx="1048.0" cy="677.7" r="9.2" fill="#999999"/>
<circle cx="1098.3" cy="681.7" r="9.2" fill="#999999"/>
<circle cx="1112.4" cy="681.7" r="9.2" fill="#999999"/>
<circle cx="1085.2" cy="692.4" r="9.2" fill="#999999"/>
<circle cx="1062.1" cy="694.8" r="9.2" fill="#999999"/>
<circle cx="1052.0" cy="704.9" r="9.2" fill="#999999"/>
<circle cx="1083.2" cy="706.9" r="9.2" fill="#999999"/>
<circle cx="1102.4" cy="705.9" r="9.2" fill="#999999"/>
<circle cx="1118.5" cy="708.9" r="9.2" fill="#999999"/>
<circle cx="1097.3" cy="716.9" r="9.2" fill="#999999"/>
<circle cx="1136.6" cy="710.9" r="9.2" fill="#999999"/>
<circle cx="1142.6" cy="708.9" r="9.2" fill="#999999"/>
<circle cx="1140.6" cy="727.0" r="9.2" fill="#999999"/>
<circle cx="1162.7" cy="700.8" r="9.2" fill="#999999"/>
<circle cx="1168.8" cy="714.9" r="9.2" fill="#999999"/>
<circle cx="1184.9" cy="702.9" r="9.2" fill="#999999"/>
<circle cx="1188.9" cy="716.9" r="9.2" fill="#999999"/>
<circle cx="1188.9" cy="729.0" r="9.2" fill="#999999"/>
<circle cx="1205.0" cy="702.9" r="9.2" fill="#999999"/>
<circle cx="1209.0" cy="708.9" r="9.2" fill="#999999"/>
<circle cx="1211.1" cy="676.7" r="9.2" fill="#999999"/>
<circle cx="1219.1" cy="690.8" r="9.2" fill="#999999"/>
<circle cx="1227.2" cy="674.7" r="9.2" fill="#999999"/>
<circle cx="1243.3" cy="678.7" r="9.2" fill="#999999"/>
<circle cx="1251.3" cy="676.7" r="9.2" fill="#999999"/>
<circle cx="1247.3" cy="694.8" r="9.2" fill="#999999"/>
<circle cx="1257.4" cy="690.8" r="9.2" fill="#999999"/>
<circle cx="1237.2" cy="710.9" r="9.2" fill="#999999"/>
<circle cx="1251.3" cy="702.9" r="9.2" fill="#999999"/>
<circle cx="1225.1" cy="719.0" r="9.2" fill="#999999"/>
<circle cx="1209.0" cy="727.0" r="9.2" fill="#999999"/>
<circle cx="1251.3" cy="731.0" r="9.2" fill="#999999"/>
<circle cx="1277.5" cy="684.7" r="9.2" fill="#999999"/>
<circle cx="1293.6" cy="684.7" r="9.2" fill="#999999"/>
<circle cx="1285.5" cy="700.8" r="9.2" fill="#999999"/>
<circle cx="1275.5" cy="708.9" r="9.2" fill="#999999"/>
<circle cx="1271.4" cy="723.0" r="9.2" fill="#999999"/>
<circle cx="1289.6" cy="719.0" r="9.2" fill="#999999"/>
<circle cx="1299.6" cy="708.9" r="9.2" fill="#999999"/>
<circle cx="1305.7" cy="721.0" r="9.2" fill="#999999"/>
<circle cx="1319.8" cy="708.9" r="9.2" fill="#999999"/>
<circle cx="1335.9" cy="712.9" r="9.2" fill="#999999"/>
<circle cx="1329.8" cy="725.0" r="9.2" fill="#999999"/>
<circle cx="1311.7" cy="727.0" r="9.2" fill="#999999"/>
<circle cx="1289.6" cy="731.0" r="9.2" fill="#999999"/>
<circle cx="1060.1" cy="731.0" r="9.2" fill="#999999"/>
<circle cx="1052.0" cy="716.9" r="9.2" fill="#999999"/>
<circle cx="339.4" cy="686.8" r="9.2" fill="#999999"/>
<circle cx="349.5" cy="696.8" r="9.2" fill="#999999"/>
<circle cx="343.5" cy="712.9" r="9.2" fill="#999999"/>
<circle cx="331.4" cy="704.9" r="9.2" fill="#999999"/>
<circle cx="355.5" cy="716.9" r="9.2" fill="#999999"/>
<circle cx="349.5" cy="725.0" r="9.2" fill="#999999"/>
<circle cx="365.6" cy="702.9" r="9.2" fill="#999999"/>
<circle cx="369.6" cy="692.8" r="9.2" fill="#999999"/>
<circle cx="375.7" cy="712.9" r="9.2" fill="#999999"/>
<circle cx="478.3" cy="716.9" r="9.2" fill="#999999"/>
<circle cx="498.5" cy="725.0" r="9.2" fill="#999999"/>
<circle cx="520.6" cy="716.9" r="9.2" fill="#999999"/>
<circle cx="540.7" cy="716.9" r="9.2" fill="#999999"/>
<circle cx="556.8" cy="721.0" r="9.2" fill="#999999"/>
<circle cx="609.2" cy="716.9" r="9.2" fill="#999999"/>
<circle cx="629.3" cy="729.0" r="9.2" fill="#999999"/>
<circle cx="685.7" cy="729.0" r="9.2" fill="#999999"/>
<circle cx="713.8" cy="712.9" r="9.2" fill="#999999"/>
<circle cx="689.7" cy="710.9" r="9.2" fill="#999999"/>
<circle cx="460.2" cy="721.0" r="9.2" fill="#999999"/>
<circle cx="577.0" cy="723.0" r="9.2" fill="#999999"/>
<circle cx="1027.9" cy="666.6" r="9.2" fill="#999999"/>
<circle cx="1044.0" cy="692.8" r="9.2" fill="#999999"/>
<circle cx="1029.9" cy="700.8" r="9.2" fill="#999999"/>
<circle cx="1023.8" cy="723.0" r="9.2" fill="#999999"/>
<circle cx="1039.9" cy="716.9" r="9.2" fill="#999999"/>
<circle cx="1009.8" cy="716.9" r="9.2" fill="#999999"/>
<circle cx="999.7" cy="729.0" r="9.2" fill="#999999"/>
<circle cx="750.1" cy="706.9" r="9.2" fill="#999999"/>
<circle cx="778.3" cy="712.9" r="9.2" fill="#999999"/>
<circle cx="798.4" cy="712.9" r="9.2" fill="#999999"/>
<circle cx="818.5" cy="716.9" r="9.2" fill="#999999"/>
<circle cx="774.2" cy="727.0" r="9.2" fill="#999999"/>
<circle cx="1279.5" cy="712.9" r="9.2" fill="#999999"/>
<circle cx="1289.6" cy="725.0" r="9.2" fill="#999999"/>
<circle cx="1299.6" cy="716.9" r="9.2" fill="#999999"/>
<circle cx="1309.7" cy="716.9" r="9.2" fill="#999999"/>
<circle cx="1319.8" cy="721.0" r="9.2" fill="#999999"/>
<circle cx="1285.5" cy="708.9" r="9.2" fill="#999999"/>
<circle cx="1269.4" cy="712.9" r="9.2" fill="#999999"/>
<circle cx="1295.6" cy="696.8" r="9.2" fill="#999999"/>
<circle cx="1283.5" cy="692.8" r="9.2" fill="#999999"/>
<circle cx="1329.8" cy="716.9" r="9.2" fill="#999999"/>
<circle cx="1301.6" cy="729.0" r="9.2" fill="#999999"/>
<circle cx="1317.7" cy="729.0" r="9.2" fill="#999999"/>
<circle cx="1273.5" cy="729.0" r="9.2" fill="#999999"/>
<circle cx="1241.2" cy="721.0" r="9.2" fill="#999999"/>
<circle cx="1261.4" cy="721.0" r="9.2" fill="#999999"/>
<circle cx="476.2" cy="1063.5" r="8.2" fill="#ff0000" stroke="#000" stroke-width="2.2"/>
<circle cx="524.5" cy="1066.4" r="9.2" fill="#ff0000"/>
<circle cx="939.3" cy="1165.8" r="9.2" fill="#ff0000"/>
<circle cx="949.4" cy="1165.8" r="9.2" fill="#ff0000"/>
<circle cx="1018.6" cy="1138.4" r="9.2" fill="#ff0000"/>
<circle cx="1033.9" cy="1138.4" r="9.2" fill="#ff0000"/>
<circle cx="185.1" cy="1090.5" r="9.2" fill="#d0d0d0"/>
<circle cx="446.0" cy="1154.1" r="9.2" fill="#d0d0d0"/>
<circle cx="549.4" cy="1177.1" r="9.2" fill="#d0d0d0"/>
<circle cx="797.6" cy="1168.2" r="9.2" fill="#d0d0d0"/>
<circle cx="824.5" cy="1149.7" r="9.2" fill="#d0d0d0"/>
<circle cx="843.9" cy="1149.7" r="9.2" fill="#d0d0d0"/>
<circle cx="909.1" cy="1200.4" r="9.2" fill="#d0d0d0"/>
<circle cx="917.1" cy="1200.4" r="9.2" fill="#d0d0d0"/>
<circle cx="1272.2" cy="1159.8" r="9.2" fill="#d0d0d0"/>
<circle cx="1285.9" cy="1172.2" r="9.2" fill="#d0d0d0"/>
<circle cx="735.8" cy="1419.4" r="9.2" fill="#ffc000"/>
<circle cx="885.7" cy="1414.6" r="9.2" fill="#ffc000"/>
<circle cx="213.3" cy="1193.2" r="9.2" fill="#737373"/>
<circle cx="312.3" cy="1165.8" r="9.2" fill="#737373"/>
<circle cx="302.2" cy="1376.4" r="9.2" fill="#737373"/>
<circle cx="665.4" cy="1442.0" r="9.2" fill="#737373"/>
<circle cx="1236.0" cy="1287.8" r="9.2" fill="#737373"/>
<circle cx="1144.6" cy="1325.2" r="9.2" fill="#737373"/>
<circle cx="1153.9" cy="1325.2" r="9.2" fill="#737373"/>
<circle cx="1310.5" cy="1326.0" r="9.2" fill="#737373"/>
<circle cx="1341.9" cy="1295.0" r="9.2" fill="#737373"/>
<circle cx="1347.9" cy="1295.0" r="9.2" fill="#737373"/>
<circle cx="1095.5" cy="1415.8" r="9.2" fill="#737373"/>
<circle cx="1060.1" cy="1434.3" r="9.2" fill="#737373"/>
<circle cx="1089.5" cy="1434.3" r="9.2" fill="#737373"/>
<circle cx="1117.6" cy="1434.3" r="9.2" fill="#737373"/>
<circle cx="1256.5" cy="1424.7" r="9.2" fill="#737373"/>
<circle cx="1329.4" cy="1431.9" r="9.2" fill="#737373"/>
<circle cx="865.2" cy="1429.5" r="9.2" fill="#737373"/>
<circle cx="180.3" cy="1197.2" r="9.2" fill="#999999"/>
<circle cx="166.2" cy="1349.4" r="9.2" fill="#999999"/>
<circle cx="254.3" cy="1353.4" r="9.2" fill="#999999"/>
<circle cx="522.5" cy="1356.2" r="9.2" fill="#999999"/>
<circle cx="715.7" cy="1225.4" r="9.2" fill="#999999"/>
<circle cx="743.1" cy="1204.5" r="9.2" fill="#999999"/>
<circle cx="958.2" cy="1262.0" r="9.2" fill="#999999"/>
<circle cx="969.5" cy="1262.0" r="9.2" fill="#999999"/>
<circle cx="987.6" cy="1262.0" r="9.2" fill="#999999"/>
<circle cx="998.9" cy="1262.0" r="9.2" fill="#999999"/>
<circle cx="1011.8" cy="1262.0" r="9.2" fill="#999999"/>
<circle cx="1141.8" cy="1404.1" r="9.2" fill="#999999"/>
<circle cx="1298.4" cy="1415.8" r="9.2" fill="#999999"/>
</g>
<g font-family="'Liberation Sans', Arial, Helvetica, sans-serif" font-size="17.9" fill="#000" stroke="#000" stroke-width="0.25">
<line x1="148.5" y1="1615" x2="148.5" y2="2480.5" stroke="#ffc4c4" stroke-width="1.2"/>
<text x="147" y="1634" text-anchor="end">Scale</text>
<text x="147" y="1656.6" text-anchor="end">chr18:</text>
<line x1="150.3" y1="1639" x2="150.3" y2="1660.5" stroke="#777" stroke-width="1.3"/>
<text x="476" y="1634" text-anchor="end">500 kb</text>
<g stroke="#555" stroke-width="1.3"><line x1="478.2" y1="1626.4" x2="1025.5" y2="1626.4"/><line x1="478.2" y1="1616" x2="478.2" y2="1637"/><line x1="1025.5" y1="1616" x2="1025.5" y2="1637"/></g>
<text x="1031.8" y="1629.3">canFam3</text>
<line x1="258.6" y1="1639" x2="258.6" y2="1660.5" stroke="#222" stroke-width="1.3"/>
<text x="262.8" y="1656.6" text-anchor="end">49,000,000</text>
<line x1="368" y1="1639" x2="368" y2="1660.5" stroke="#222" stroke-width="1.3"/>
<text x="372.2" y="1656.6" text-anchor="end">49,100,000</text>
<line x1="477.4" y1="1639" x2="477.4" y2="1660.5" stroke="#222" stroke-width="1.3"/>
<text x="481.6" y="1656.6" text-anchor="end">49,200,000</text>
<line x1="586.8" y1="1639" x2="586.8" y2="1660.5" stroke="#222" stroke-width="1.3"/>
<text x="591" y="1656.6" text-anchor="end">49,300,000</text>
<line x1="696.2" y1="1639" x2="696.2" y2="1660.5" stroke="#222" stroke-width="1.3"/>
<text x="700.4" y="1656.6" text-anchor="end">49,400,000</text>
<line x1="805.6" y1="1639" x2="805.6" y2="1660.5" stroke="#222" stroke-width="1.3"/>
<text x="809.8" y="1656.6" text-anchor="end">49,500,000</text>
<line x1="915" y1="1639" x2="915" y2="1660.5" stroke="#222" stroke-width="1.3"/>
<text x="919.2" y="1656.6" text-anchor="end">49,600,000</text>
<line x1="1024.4" y1="1639" x2="1024.4" y2="1660.5" stroke="#222" stroke-width="1.3"/>
<text x="1028.6" y="1656.6" text-anchor="end">49,700,000</text>
<line x1="1133.8" y1="1639" x2="1133.8" y2="1660.5" stroke="#222" stroke-width="1.3"/>
<text x="1138" y="1656.6" text-anchor="end">49,800,000</text>
<line x1="1243.2" y1="1639" x2="1243.2" y2="1660.5" stroke="#222" stroke-width="1.3"/>
<text x="1247.4" y="1656.6" text-anchor="end">49,900,000</text>
<text x="751.5" y="1678" text-anchor="middle">Protein Coding Genes</text>
</g>
<g font-family="'Liberation Sans', Arial, Helvetica, sans-serif" font-size="18.0" fill="#3a7ebd">
<text x="146.9" y="1699.4" text-anchor="end" stroke="#3a7ebd" stroke-width="0.3">TPCN2</text>
<line x1="203" y1="1693" x2="243" y2="1693" stroke="#3a7ebd" stroke-width="1.3"/><rect x="203" y="1682.4" width="1.3" height="21.2" fill="#3a7ebd"/><rect x="241.7" y="1682.4" width="1.3" height="21.2" fill="#3a7ebd"/><rect x="204.5" y="1682.4" width="1.2" height="21.2" fill="#3a7ebd" fill-opacity="0.6"/><rect x="207" y="1682.4" width="1.2" height="21.2" fill="#3a7ebd" fill-opacity="0.75"/><rect x="214" y="1682.4" width="1.2" height="21.2" fill="#3a7ebd" fill-opacity="0.35"/><rect x="216" y="1682.4" width="1.2" height="21.2" fill="#3a7ebd" fill-opacity="0.9"/><rect x="218" y="1682.4" width="1.2" height="21.2" fill="#3a7ebd" fill-opacity="0.6"/><rect x="223.5" y="1682.4" width="1.2" height="21.2" fill="#3a7ebd" fill-opacity="0.35"/><rect x="229" y="1682.4" width="1.2" height="21.2" fill="#3a7ebd" fill-opacity="0.5"/><rect x="231" y="1682.4" width="1.2" height="21.2" fill="#3a7ebd" fill-opacity="0.35"/><rect x="235" y="1682.4" width="1.2" height="21.2" fill="#3a7ebd" fill-opacity="0.75"/><rect x="237" y="1682.4" width="1.2" height="21.2" fill="#3a7ebd" fill-opacity="0.5"/><rect x="239" y="1682.4" width="1.2" height="21.2" fill="#3a7ebd" fill-opacity="0.9"/><rect x="203" y="1682.4" width="9" height="21.2" fill="#3a7ebd"/><path d="M214.5,1688 L209.5,1693 L214.5,1698" stroke="#3a7ebd" stroke-width="1.3" fill="none"/><path d="M225.1,1688 L220.1,1693 L225.1,1698" stroke="#3a7ebd" stroke-width="1.3" fill="none"/><path d="M235.7,1688 L230.7,1693 L235.7,1698" stroke="#3a7ebd" stroke-width="1.3" fill="none"/>
<text x="146.9" y="1721.6" text-anchor="end" stroke="#3a7ebd" stroke-width="0.3">TPCN2</text>
<line x1="203" y1="1715.2" x2="243" y2="1715.2" stroke="#3a7ebd" stroke-width="1.3"/><rect x="203" y="1704.6" width="1.3" height="21.2" fill="#3a7ebd"/><rect x="241.7" y="1704.6" width="1.3" height="21.2" fill="#3a7ebd"/><rect x="204.5" y="1704.6" width="1.2" height="21.2" fill="#3a7ebd" fill-opacity="0.35"/><rect x="210" y="1704.6" width="1.2" height="21.2" fill="#3a7ebd" fill-opacity="0.35"/><rect x="212.5" y="1704.6" width="1.2" height="21.2" fill="#3a7ebd" fill-opacity="1.0"/><rect x="219.5" y="1704.6" width="1.2" height="21.2" fill="#3a7ebd" fill-opacity="0.9"/><rect x="221.5" y="1704.6" width="1.2" height="21.2" fill="#3a7ebd" fill-opacity="0.9"/><rect x="227" y="1704.6" width="1.2" height="21.2" fill="#3a7ebd" fill-opacity="0.75"/><rect x="229" y="1704.6" width="1.2" height="21.2" fill="#3a7ebd" fill-opacity="0.5"/><rect x="231" y="1704.6" width="1.2" height="21.2" fill="#3a7ebd" fill-opacity="0.9"/><rect x="233.5" y="1704.6" width="1.2" height="21.2" fill="#3a7ebd" fill-opacity="0.6"/><rect x="237.5" y="1704.6" width="1.2" height="21.2" fill="#3a7ebd" fill-opacity="0.5"/><rect x="203" y="1704.6" width="9" height="21.2" fill="#3a7ebd"/><path d="M214.5,1710.2 L209.5,1715.2 L214.5,1720.2" stroke="#3a7ebd" stroke-width="1.3" fill="none"/><path d="M225.1,1710.2 L220.1,1715.2 L225.1,1720.2" stroke="#3a7ebd" stroke-width="1.3" fill="none"/><path d="M235.7,1710.2 L230.7,1715.2 L235.7,1720.2" stroke="#3a7ebd" stroke-width="1.3" fill="none"/>
<text x="146.9" y="1743.8" text-anchor="end" stroke="#3a7ebd" stroke-width="0.3">TPCN2</text>
<line x1="203" y1="1737.4" x2="243" y2="1737.4" stroke="#3a7ebd" stroke-width="1.3"/><rect x="203" y="1726.8" width="1.3" height="21.2" fill="#3a7ebd"/><rect x="241.7" y="1726.8" width="1.3" height="21.2" fill="#3a7ebd"/><rect x="204.5" y="1726.8" width="1.2" height="21.2" fill="#3a7ebd" fill-opacity="0.35"/><rect x="210" y="1726.8" width="1.2" height="21.2" fill="#3a7ebd" fill-opacity="0.6"/><rect x="215.5" y="1726.8" width="1.2" height="21.2" fill="#3a7ebd" fill-opacity="1.0"/><rect x="218" y="1726.8" width="1.2" height="21.2" fill="#3a7ebd" fill-opacity="0.35"/><rect x="223.5" y="1726.8" width="1.2" height="21.2" fill="#3a7ebd" fill-opacity="0.9"/><rect x="230.5" y="1726.8" width="1.2" height="21.2" fill="#3a7ebd" fill-opacity="0.5"/><rect x="233.5" y="1726.8" width="1.2" height="21.2" fill="#3a7ebd" fill-opacity="0.35"/><rect x="239" y="1726.8" width="1.2" height="21.2" fill="#3a7ebd" fill-opacity="1.0"/><rect x="241" y="1726.8" width="1.2" height="21.2" fill="#3a7ebd" fill-opacity="0.9"/><rect x="203" y="1726.8" width="9" height="21.2" fill="#3a7ebd"/><path d="M214.5,1732.4 L209.5,1737.4 L214.5,1742.4" stroke="#3a7ebd" stroke-width="1.3" fill="none"/><path d="M225.1,1732.4 L220.1,1737.4 L225.1,1742.4" stroke="#3a7ebd" stroke-width="1.3" fill="none"/><path d="M235.7,1732.4 L230.7,1737.4 L235.7,1742.4" stroke="#3a7ebd" stroke-width="1.3" fill="none"/>
<text x="146.9" y="1765.9" text-anchor="end" stroke="#3a7ebd" stroke-width="0.3">TPCN2</text>
<line x1="203" y1="1759.5" x2="243" y2="1759.5" stroke="#3a7ebd" stroke-width="1.3"/><rect x="203" y="1748.9" width="1.3" height="21.2" fill="#3a7ebd"/><rect x="241.7" y="1748.9" width="1.3" height="21.2" fill="#3a7ebd"/><rect x="204.5" y="1748.9" width="1.2" height="21.2" fill="#3a7ebd" fill-opacity="0.9"/><rect x="207" y="1748.9" width="1.2" height="21.2" fill="#3a7ebd" fill-opacity="0.75"/><rect x="214" y="1748.9" width="1.2" height="21.2" fill="#3a7ebd" fill-opacity="0.9"/><rect x="218" y="1748.9" width="1.2" height="21.2" fill="#3a7ebd" fill-opacity="0.6"/><rect x="222" y="1748.9" width="1.2" height="21.2" fill="#3a7ebd" fill-opacity="0.9"/><rect x="226" y="1748.9" width="1.2" height="21.2" fill="#3a7ebd" fill-opacity="0.6"/><rect x="229" y="1748.9" width="1.2" height="21.2" fill="#3a7ebd" fill-opacity="0.5"/><rect x="231.5" y="1748.9" width="1.2" height="21.2" fill="#3a7ebd" fill-opacity="1.0"/><rect x="234" y="1748.9" width="1.2" height="21.2" fill="#3a7ebd" fill-opacity="0.35"/><rect x="239.5" y="1748.9" width="1.2" height="21.2" fill="#3a7ebd" fill-opacity="0.6"/><rect x="203" y="1748.9" width="9" height="21.2" fill="#3a7ebd"/><path d="M214.5,1754.5 L209.5,1759.5 L214.5,1764.5" stroke="#3a7ebd" stroke-width="1.3" fill="none"/><path d="M225.1,1754.5 L220.1,1759.5 L225.1,1764.5" stroke="#3a7ebd" stroke-width="1.3" fill="none"/><path d="M235.7,1754.5 L230.7,1759.5 L235.7,1764.5" stroke="#3a7ebd" stroke-width="1.3" fill="none"/>
<text x="146.9" y="1788.1" text-anchor="end" stroke="#3a7ebd" stroke-width="0.3">TPCN2</text>
<line x1="203" y1="1781.7" x2="243" y2="1781.7" stroke="#3a7ebd" stroke-width="1.3"/><rect x="203" y="1771.1" width="1.3" height="21.2" fill="#3a7ebd"/><rect x="241.7" y="1771.1" width="1.3" height="21.2" fill="#3a7ebd"/><rect x="204.5" y="1771.1" width="1.2" height="21.2" fill="#3a7ebd" fill-opacity="0.75"/><rect x="207.5" y="1771.1" width="1.2" height="21.2" fill="#3a7ebd" fill-opacity="1.0"/><rect x="211.5" y="1771.1" width="1.2" height="21.2" fill="#3a7ebd" fill-opacity="0.6"/><rect x="217" y="1771.1" width="1.2" height="21.2" fill="#3a7ebd" fill-opacity="0.35"/><rect x="219" y="1771.1" width="1.2" height="21.2" fill="#3a7ebd" fill-opacity="0.9"/><rect x="223" y="1771.1" width="1.2" height="21.2" fill="#3a7ebd" fill-opacity="0.5"/><rect x="226" y="1771.1" width="1.2" height="21.2" fill="#3a7ebd" fill-opacity="0.5"/><rect x="230" y="1771.1" width="1.2" height="21.2" fill="#3a7ebd" fill-opacity="0.75"/><rect x="232" y="1771.1" width="1.2" height="21.2" fill="#3a7ebd" fill-opacity="1.0"/><rect x="234" y="1771.1" width="1.2" height="21.2" fill="#3a7ebd" fill-opacity="0.9"/><rect x="239.5" y="1771.1" width="1.2" height="21.2" fill="#3a7ebd" fill-opacity="0.6"/><rect x="203" y="1771.1" width="9" height="21.2" fill="#3a7ebd"/><path d="M214.5,1776.7 L209.5,1781.7 L214.5,1786.7" stroke="#3a7ebd" stroke-width="1.3" fill="none"/><path d="M225.1,1776.7 L220.1,1781.7 L225.1,1786.7" stroke="#3a7ebd" stroke-width="1.3" fill="none"/><path d="M235.7,1776.7 L230.7,1781.7 L235.7,1786.7" stroke="#3a7ebd" stroke-width="1.3" fill="none"/>
<text x="146.9" y="1810.3" text-anchor="end" stroke="#3a7ebd" stroke-width="0.3">TPCN2</text>
<line x1="203" y1="1803.9" x2="243" y2="1803.9" stroke="#3a7ebd" stroke-width="1.3"/><rect x="203" y="1793.3" width="1.3" height="21.2" fill="#3a7ebd"/><rect x="241.7" y="1793.3" width="1.3" height="21.2" fill="#3a7ebd"/><rect x="204.5" y="1793.3" width="1.2" height="21.2" fill="#3a7ebd" fill-opacity="1.0"/><rect x="207.5" y="1793.3" width="1.2" height="21.2" fill="#3a7ebd" fill-opacity="0.9"/><rect x="211.5" y="1793.3" width="1.2" height="21.2" fill="#3a7ebd" fill-opacity="0.9"/><rect x="215.5" y="1793.3" width="1.2" height="21.2" fill="#3a7ebd" fill-opacity="0.35"/><rect x="217.5" y="1793.3" width="1.2" height="21.2" fill="#3a7ebd" fill-opacity="0.6"/><rect x="221.5" y="1793.3" width="1.2" height="21.2" fill="#3a7ebd" fill-opacity="1.0"/><rect x="228.5" y="1793.3" width="1.2" height="21.2" fill="#3a7ebd" fill-opacity="0.35"/><rect x="230.5" y="1793.3" width="1.2" height="21.2" fill="#3a7ebd" fill-opacity="1.0"/><rect x="237.5" y="1793.3" width="1.2" height="21.2" fill="#3a7ebd" fill-opacity="0.6"/><rect x="203" y="1793.3" width="9" height="21.2" fill="#3a7ebd"/><path d="M214.5,1798.9 L209.5,1803.9 L214.5,1808.9" stroke="#3a7ebd" stroke-width="1.3" fill="none"/><path d="M225.1,1798.9 L220.1,1803.9 L225.1,1808.9" stroke="#3a7ebd" stroke-width="1.3" fill="none"/><path d="M235.7,1798.9 L230.7,1803.9 L235.7,1808.9" stroke="#3a7ebd" stroke-width="1.3" fill="none"/>
<text x="146.9" y="1832.5" text-anchor="end" stroke="#3a7ebd" stroke-width="0.3">TPCN2</text>
<line x1="203" y1="1826.1" x2="243" y2="1826.1" stroke="#3a7ebd" stroke-width="1.3"/><rect x="203" y="1815.5" width="1.3" height="21.2" fill="#3a7ebd"/><rect x="241.7" y="1815.5" width="1.3" height="21.2" fill="#3a7ebd"/><rect x="204.5" y="1815.5" width="1.2" height="21.2" fill="#3a7ebd" fill-opacity="0.9"/><rect x="211.5" y="1815.5" width="1.2" height="21.2" fill="#3a7ebd" fill-opacity="0.75"/><rect x="214.5" y="1815.5" width="1.2" height="21.2" fill="#3a7ebd" fill-opacity="1.0"/><rect x="218.5" y="1815.5" width="1.2" height="21.2" fill="#3a7ebd" fill-opacity="1.0"/><rect x="221.5" y="1815.5" width="1.2" height="21.2" fill="#3a7ebd" fill-opacity="0.35"/><rect x="225.5" y="1815.5" width="1.2" height="21.2" fill="#3a7ebd" fill-opacity="0.6"/><rect x="228" y="1815.5" width="1.2" height="21.2" fill="#3a7ebd" fill-opacity="0.9"/><rect x="230" y="1815.5" width="1.2" height="21.2" fill="#3a7ebd" fill-opacity="0.75"/><rect x="232" y="1815.5" width="1.2" height="21.2" fill="#3a7ebd" fill-opacity="0.5"/><rect x="235" y="1815.5" width="1.2" height="21.2" fill="#3a7ebd" fill-opacity="0.5"/><rect x="203" y="1815.5" width="9" height="21.2" fill="#3a7ebd"/><path d="M214.5,1821.1 L209.5,1826.1 L214.5,1831.1" stroke="#3a7ebd" stroke-width="1.3" fill="none"/><path d="M225.1,1821.1 L220.1,1826.1 L225.1,1831.1" stroke="#3a7ebd" stroke-width="1.3" fill="none"/><path d="M235.7,1821.1 L230.7,1826.1 L235.7,1831.1" stroke="#3a7ebd" stroke-width="1.3" fill="none"/>
<text x="146.9" y="1854.7" text-anchor="end" stroke="#3a7ebd" stroke-width="0.3">TPCN2</text>
<line x1="203" y1="1848.3" x2="243" y2="1848.3" stroke="#3a7ebd" stroke-width="1.3"/><rect x="203" y="1837.7" width="1.3" height="21.2" fill="#3a7ebd"/><rect x="241.7" y="1837.7" width="1.3" height="21.2" fill="#3a7ebd"/><rect x="204.5" y="1837.7" width="1.2" height="21.2" fill="#3a7ebd" fill-opacity="0.5"/><rect x="208.5" y="1837.7" width="1.2" height="21.2" fill="#3a7ebd" fill-opacity="0.75"/><rect x="212.5" y="1837.7" width="1.2" height="21.2" fill="#3a7ebd" fill-opacity="0.35"/><rect x="215" y="1837.7" width="1.2" height="21.2" fill="#3a7ebd" fill-opacity="0.75"/><rect x="219" y="1837.7" width="1.2" height="21.2" fill="#3a7ebd" fill-opacity="0.9"/><rect x="222" y="1837.7" width="1.2" height="21.2" fill="#3a7ebd" fill-opacity="0.5"/><rect x="226" y="1837.7" width="1.2" height="21.2" fill="#3a7ebd" fill-opacity="0.9"/><rect x="229" y="1837.7" width="1.2" height="21.2" fill="#3a7ebd" fill-opacity="1.0"/><rect x="233" y="1837.7" width="1.2" height="21.2" fill="#3a7ebd" fill-opacity="0.6"/><rect x="240" y="1837.7" width="1.2" height="21.2" fill="#3a7ebd" fill-opacity="0.75"/><rect x="203" y="1837.7" width="9" height="21.2" fill="#3a7ebd"/><path d="M214.5,1843.3 L209.5,1848.3 L214.5,1853.3" stroke="#3a7ebd" stroke-width="1.3" fill="none"/><path d="M225.1,1843.3 L220.1,1848.3 L225.1,1853.3" stroke="#3a7ebd" stroke-width="1.3" fill="none"/><path d="M235.7,1843.3 L230.7,1848.3 L235.7,1853.3" stroke="#3a7ebd" stroke-width="1.3" fill="none"/>
<text x="206.6" y="1876.8" text-anchor="end" stroke="#3a7ebd" stroke-width="0.3">TPCN2</text>
<line x1="212.3" y1="1870.4" x2="243" y2="1870.4" stroke="#3a7ebd" stroke-width="1.3"/><rect x="212.3" y="1859.8" width="1.3" height="21.2" fill="#3a7ebd"/><rect x="241.7" y="1859.8" width="1.3" height="21.2" fill="#3a7ebd"/><rect x="213.8" y="1859.8" width="1.2" height="21.2" fill="#3a7ebd" fill-opacity="0.5"/><rect x="215.8" y="1859.8" width="1.2" height="21.2" fill="#3a7ebd" fill-opacity="0.5"/><rect x="218.3" y="1859.8" width="1.2" height="21.2" fill="#3a7ebd" fill-opacity="0.5"/><rect x="225.3" y="1859.8" width="1.2" height="21.2" fill="#3a7ebd" fill-opacity="0.5"/><rect x="227.3" y="1859.8" width="1.2" height="21.2" fill="#3a7ebd" fill-opacity="0.75"/><rect x="232.8" y="1859.8" width="1.2" height="21.2" fill="#3a7ebd" fill-opacity="0.5"/><rect x="235.8" y="1859.8" width="1.2" height="21.2" fill="#3a7ebd" fill-opacity="0.6"/><rect x="237.8" y="1859.8" width="1.2" height="21.2" fill="#3a7ebd" fill-opacity="0.5"/><rect x="241.8" y="1859.8" width="1.2" height="21.2" fill="#3a7ebd" fill-opacity="0.9"/><rect x="212.3" y="1859.8" width="1.7" height="21.2" fill="#3a7ebd"/><path d="M223.8,1865.4 L218.8,1870.4 L223.8,1875.4" stroke="#3a7ebd" stroke-width="1.3" fill="none"/><path d="M234.4,1865.4 L229.4,1870.4 L234.4,1875.4" stroke="#3a7ebd" stroke-width="1.3" fill="none"/>
<text x="345.7" y="1699.4" text-anchor="end" stroke="#3a7ebd" stroke-width="0.3">IGHMBP2</text>
<line x1="350.9" y1="1693" x2="358.6" y2="1693" stroke="#3a7ebd" stroke-width="1.3"/><rect x="350.9" y="1682.4" width="1.3" height="21.2" fill="#3a7ebd"/><rect x="357.3" y="1682.4" width="1.3" height="21.2" fill="#3a7ebd"/><rect x="352.4" y="1682.4" width="1.2" height="21.2" fill="#3a7ebd" fill-opacity="0.9"/>
<text x="453.7" y="1699.4" text-anchor="end" stroke="#3a7ebd" stroke-width="0.3">CPT1A</text>
<line x1="458.6" y1="1693" x2="468" y2="1693" stroke="#3a7ebd" stroke-width="1.3"/><rect x="458.6" y="1682.4" width="1.3" height="21.2" fill="#3a7ebd"/><rect x="466.7" y="1682.4" width="1.3" height="21.2" fill="#3a7ebd"/><rect x="460.1" y="1682.4" width="1.2" height="21.2" fill="#3a7ebd" fill-opacity="0.6"/><rect x="462.6" y="1682.4" width="1.2" height="21.2" fill="#3a7ebd" fill-opacity="1.0"/><rect x="458.6" y="1682.4" width="9.4" height="21.2" fill="#3a7ebd"/>
<text x="564.3" y="1699.4" text-anchor="end" stroke="#3a7ebd" stroke-width="0.3">PPP6R3</text>
<line x1="569.1" y1="1693" x2="610" y2="1693" stroke="#3a7ebd" stroke-width="1.3"/><rect x="569.1" y="1682.4" width="1.3" height="21.2" fill="#3a7ebd"/><rect x="608.7" y="1682.4" width="1.3" height="21.2" fill="#3a7ebd"/><rect x="570.6" y="1682.4" width="1.2" height="21.2" fill="#3a7ebd" fill-opacity="0.9"/><rect x="577.6" y="1682.4" width="1.2" height="21.2" fill="#3a7ebd" fill-opacity="1.0"/><rect x="584.6" y="1682.4" width="1.2" height="21.2" fill="#3a7ebd" fill-opacity="0.35"/><rect x="588.6" y="1682.4" width="1.2" height="21.2" fill="#3a7ebd" fill-opacity="1.0"/><rect x="594.1" y="1682.4" width="1.2" height="21.2" fill="#3a7ebd" fill-opacity="0.75"/><rect x="598.1" y="1682.4" width="1.2" height="21.2" fill="#3a7ebd" fill-opacity="0.75"/><rect x="602.1" y="1682.4" width="1.2" height="21.2" fill="#3a7ebd" fill-opacity="0.35"/><rect x="606.1" y="1682.4" width="1.2" height="21.2" fill="#3a7ebd" fill-opacity="1.0"/><rect x="569.1" y="1682.4" width="6.9" height="21.2" fill="#3a7ebd"/><rect x="578" y="1682.4" width="7" height="21.2" fill="#3a7ebd"/><path d="M580.6,1688 L575.6,1693 L580.6,1698" stroke="#3a7ebd" stroke-width="1.3" fill="none"/><path d="M591.2,1688 L586.2,1693 L591.2,1698" stroke="#3a7ebd" stroke-width="1.3" fill="none"/><path d="M601.8,1688 L596.8,1693 L601.8,1698" stroke="#3a7ebd" stroke-width="1.3" fill="none"/>
<text x="770" y="1699.4" text-anchor="end" stroke="#3a7ebd" stroke-width="0.3">C7FDX9_CANFA</text>
<line x1="775.7" y1="1693" x2="824.3" y2="1693" stroke="#3a7ebd" stroke-width="1.3"/><rect x="775.7" y="1682.4" width="1.3" height="21.2" fill="#3a7ebd"/><rect x="823" y="1682.4" width="1.3" height="21.2" fill="#3a7ebd"/><rect x="775.7" y="1682.4" width="2.3" height="21.2" fill="#3a7ebd"/><rect x="792.5" y="1682.4" width="1.3" height="21.2" fill="#3a7ebd"/><rect x="811" y="1682.4" width="1.3" height="21.2" fill="#3a7ebd"/><rect x="817.5" y="1682.4" width="1.5" height="21.2" fill="#3a7ebd"/><path d="M787.2,1688 L782.2,1693 L787.2,1698" stroke="#3a7ebd" stroke-width="1.3" fill="none"/><path d="M797.8,1688 L792.8,1693 L797.8,1698" stroke="#3a7ebd" stroke-width="1.3" fill="none"/><path d="M808.4,1688 L803.4,1693 L808.4,1698" stroke="#3a7ebd" stroke-width="1.3" fill="none"/><path d="M819,1688 L814,1693 L819,1698" stroke="#3a7ebd" stroke-width="1.3" fill="none"/>
<text x="948" y="1699.4" text-anchor="end" stroke="#3a7ebd" stroke-width="0.3">SUV420H1</text>
<line x1="954.5" y1="1693" x2="1016.2" y2="1693" stroke="#3a7ebd" stroke-width="1.3"/><rect x="954.5" y="1682.4" width="1.3" height="21.2" fill="#3a7ebd"/><rect x="1014.9" y="1682.4" width="1.3" height="21.2" fill="#3a7ebd"/><rect x="983.8" y="1682.4" width="1.2" height="21.2" fill="#3a7ebd" fill-opacity="0.35"/><rect x="986.3" y="1682.4" width="1.2" height="21.2" fill="#3a7ebd" fill-opacity="0.35"/><rect x="988.8" y="1682.4" width="1.2" height="21.2" fill="#3a7ebd" fill-opacity="0.75"/><rect x="991.3" y="1682.4" width="1.2" height="21.2" fill="#3a7ebd" fill-opacity="0.35"/><rect x="994.3" y="1682.4" width="1.2" height="21.2" fill="#3a7ebd" fill-opacity="0.9"/><rect x="996.3" y="1682.4" width="1.2" height="21.2" fill="#3a7ebd" fill-opacity="0.35"/><rect x="998.3" y="1682.4" width="1.2" height="21.2" fill="#3a7ebd" fill-opacity="0.9"/><rect x="1000.8" y="1682.4" width="1.2" height="21.2" fill="#3a7ebd" fill-opacity="0.9"/><rect x="1002.8" y="1682.4" width="1.2" height="21.2" fill="#3a7ebd" fill-opacity="0.6"/><rect x="1008.3" y="1682.4" width="1.2" height="21.2" fill="#3a7ebd" fill-opacity="0.35"/><rect x="1010.3" y="1682.4" width="1.2" height="21.2" fill="#3a7ebd" fill-opacity="0.5"/><rect x="1012" y="1682.4" width="4.2" height="21.2" fill="#3a7ebd"/><path d="M957,1688 L962,1693 L957,1698" stroke="#3a7ebd" stroke-width="1.3" fill="none"/><path d="M967.6,1688 L972.6,1693 L967.6,1698" stroke="#3a7ebd" stroke-width="1.3" fill="none"/><path d="M978.2,1688 L983.2,1693 L978.2,1698" stroke="#3a7ebd" stroke-width="1.3" fill="none"/><path d="M988.8,1688 L993.8,1693 L988.8,1698" stroke="#3a7ebd" stroke-width="1.3" fill="none"/><path d="M999.4,1688 L1004.4,1693 L999.4,1698" stroke="#3a7ebd" stroke-width="1.3" fill="none"/>
<text x="1110.7" y="1699.4" text-anchor="end" stroke="#3a7ebd" stroke-width="0.3">TCIRG1</text>
<line x1="1117.2" y1="1693" x2="1126" y2="1693" stroke="#3a7ebd" stroke-width="1.3"/><rect x="1117.2" y="1682.4" width="1.3" height="21.2" fill="#3a7ebd"/><rect x="1124.7" y="1682.4" width="1.3" height="21.2" fill="#3a7ebd"/><rect x="1118.7" y="1682.4" width="1.2" height="21.2" fill="#3a7ebd" fill-opacity="0.75"/><rect x="1121.2" y="1682.4" width="1.2" height="21.2" fill="#3a7ebd" fill-opacity="1.0"/><rect x="1124.2" y="1682.4" width="1.2" height="21.2" fill="#3a7ebd" fill-opacity="0.6"/><rect x="1117.2" y="1682.4" width="4.8" height="21.2" fill="#3a7ebd"/>
<text x="1204.9" y="1699.4" text-anchor="end" stroke="#3a7ebd" stroke-width="0.3">TBX10</text>
<line x1="1209.7" y1="1693" x2="1214.6" y2="1693" stroke="#3a7ebd" stroke-width="1.3"/><rect x="1209.7" y="1682.4" width="1.3" height="21.2" fill="#3a7ebd"/><rect x="1213.3" y="1682.4" width="1.3" height="21.2" fill="#3a7ebd"/><rect x="1211.2" y="1682.4" width="1.2" height="21.2" fill="#3a7ebd" fill-opacity="0.6"/><rect x="1209.7" y="1682.4" width="4.9" height="21.2" fill="#3a7ebd"/>
<text x="1293.2" y="1699.4" text-anchor="end" stroke="#3a7ebd" stroke-width="0.3">GSTP1</text>
<line x1="1299.7" y1="1693" x2="1303" y2="1693" stroke="#3a7ebd" stroke-width="1.3"/><rect x="1299.7" y="1682.4" width="1.3" height="21.2" fill="#3a7ebd"/><rect x="1301.7" y="1682.4" width="1.3" height="21.2" fill="#3a7ebd"/>
<text x="347.7" y="1721.6" text-anchor="end" stroke="#3a7ebd" stroke-width="0.3">MRPL21</text>
<line x1="354.3" y1="1715.2" x2="373.7" y2="1715.2" stroke="#3a7ebd" stroke-width="1.3"/><rect x="354.3" y="1704.6" width="1.3" height="21.2" fill="#3a7ebd"/><rect x="372.4" y="1704.6" width="1.3" height="21.2" fill="#3a7ebd"/><rect x="355.8" y="1704.6" width="1.2" height="21.2" fill="#3a7ebd" fill-opacity="0.35"/><rect x="357.8" y="1704.6" width="1.2" height="21.2" fill="#3a7ebd" fill-opacity="0.75"/><rect x="361.8" y="1704.6" width="1.2" height="21.2" fill="#3a7ebd" fill-opacity="0.75"/><rect x="365.8" y="1704.6" width="1.2" height="21.2" fill="#3a7ebd" fill-opacity="0.6"/><rect x="367.8" y="1704.6" width="1.2" height="21.2" fill="#3a7ebd" fill-opacity="0.5"/><rect x="369.8" y="1704.6" width="1.2" height="21.2" fill="#3a7ebd" fill-opacity="1.0"/><rect x="354.3" y="1704.6" width="3.7" height="21.2" fill="#3a7ebd"/><path d="M356.8,1710.2 L361.8,1715.2 L356.8,1720.2" stroke="#3a7ebd" stroke-width="1.3" fill="none"/>
<text x="347.7" y="1743.8" text-anchor="end" stroke="#3a7ebd" stroke-width="0.3">MRPL21</text>
<line x1="354.3" y1="1737.4" x2="373.7" y2="1737.4" stroke="#3a7ebd" stroke-width="1.3"/><rect x="354.3" y="1726.8" width="1.3" height="21.2" fill="#3a7ebd"/><rect x="372.4" y="1726.8" width="1.3" height="21.2" fill="#3a7ebd"/><rect x="355.8" y="1726.8" width="1.2" height="21.2" fill="#3a7ebd" fill-opacity="1.0"/><rect x="358.8" y="1726.8" width="1.2" height="21.2" fill="#3a7ebd" fill-opacity="0.75"/><rect x="365.8" y="1726.8" width="1.2" height="21.2" fill="#3a7ebd" fill-opacity="0.5"/><rect x="371.3" y="1726.8" width="1.2" height="21.2" fill="#3a7ebd" fill-opacity="0.35"/><rect x="354.3" y="1726.8" width="3.7" height="21.2" fill="#3a7ebd"/><path d="M356.8,1732.4 L361.8,1737.4 L356.8,1742.4" stroke="#3a7ebd" stroke-width="1.3" fill="none"/>
<text x="351.4" y="1765.9" text-anchor="end" stroke="#3a7ebd" stroke-width="0.3">MRPL21</text>
<line x1="358" y1="1759.5" x2="373.7" y2="1759.5" stroke="#3a7ebd" stroke-width="1.3"/><rect x="358" y="1748.9" width="1.3" height="21.2" fill="#3a7ebd"/><rect x="372.4" y="1748.9" width="1.3" height="21.2" fill="#3a7ebd"/><rect x="359.5" y="1748.9" width="1.2" height="21.2" fill="#3a7ebd" fill-opacity="0.9"/><rect x="362.5" y="1748.9" width="1.2" height="21.2" fill="#3a7ebd" fill-opacity="0.5"/><rect x="369.5" y="1748.9" width="1.2" height="21.2" fill="#3a7ebd" fill-opacity="0.9"/><rect x="371.5" y="1748.9" width="1.2" height="21.2" fill="#3a7ebd" fill-opacity="0.9"/><path d="M360.5,1754.5 L365.5,1759.5 L360.5,1764.5" stroke="#3a7ebd" stroke-width="1.3" fill="none"/>
<text x="351.4" y="1788.1" text-anchor="end" stroke="#3a7ebd" stroke-width="0.3">MRPL21</text>
<line x1="358" y1="1781.7" x2="369" y2="1781.7" stroke="#3a7ebd" stroke-width="1.3"/><rect x="358" y="1771.1" width="1.3" height="21.2" fill="#3a7ebd"/><rect x="367.7" y="1771.1" width="1.3" height="21.2" fill="#3a7ebd"/><rect x="359.5" y="1771.1" width="1.2" height="21.2" fill="#3a7ebd" fill-opacity="1.0"/><rect x="361.5" y="1771.1" width="1.2" height="21.2" fill="#3a7ebd" fill-opacity="1.0"/><rect x="364.5" y="1771.1" width="1.2" height="21.2" fill="#3a7ebd" fill-opacity="0.9"/><rect x="367.5" y="1771.1" width="1.2" height="21.2" fill="#3a7ebd" fill-opacity="0.5"/><path d="M360.5,1776.7 L365.5,1781.7 L360.5,1786.7" stroke="#3a7ebd" stroke-width="1.3" fill="none"/>
<text x="351.4" y="1810.3" text-anchor="end" stroke="#3a7ebd" stroke-width="0.3">MRPL21</text>
<line x1="358" y1="1803.9" x2="373.7" y2="1803.9" stroke="#3a7ebd" stroke-width="1.3"/><rect x="358" y="1793.3" width="1.3" height="21.2" fill="#3a7ebd"/><rect x="372.4" y="1793.3" width="1.3" height="21.2" fill="#3a7ebd"/><rect x="359.5" y="1793.3" width="1.2" height="21.2" fill="#3a7ebd" fill-opacity="0.5"/><rect x="365" y="1793.3" width="1.2" height="21.2" fill="#3a7ebd" fill-opacity="0.9"/><rect x="370.5" y="1793.3" width="1.2" height="21.2" fill="#3a7ebd" fill-opacity="0.6"/><path d="M360.5,1798.9 L365.5,1803.9 L360.5,1808.9" stroke="#3a7ebd" stroke-width="1.3" fill="none"/>
<text x="355.7" y="1832.5" text-anchor="end" stroke="#3a7ebd" stroke-width="0.3">MRPL21</text>
<line x1="362.3" y1="1826.1" x2="373.7" y2="1826.1" stroke="#3a7ebd" stroke-width="1.3"/><rect x="362.3" y="1815.5" width="1.3" height="21.2" fill="#3a7ebd"/><rect x="372.4" y="1815.5" width="1.3" height="21.2" fill="#3a7ebd"/><rect x="363.8" y="1815.5" width="1.2" height="21.2" fill="#3a7ebd" fill-opacity="0.5"/><rect x="369.3" y="1815.5" width="1.2" height="21.2" fill="#3a7ebd" fill-opacity="0.5"/><rect x="371.8" y="1815.5" width="1.2" height="21.2" fill="#3a7ebd" fill-opacity="0.75"/><path d="M364.8,1821.1 L369.8,1826.1 L364.8,1831.1" stroke="#3a7ebd" stroke-width="1.3" fill="none"/>
<text x="355.7" y="1854.7" text-anchor="end" stroke="#3a7ebd" stroke-width="0.3">MRPL21</text>
<line x1="362.3" y1="1848.3" x2="373.7" y2="1848.3" stroke="#3a7ebd" stroke-width="1.3"/><rect x="362.3" y="1837.7" width="1.3" height="21.2" fill="#3a7ebd"/><rect x="372.4" y="1837.7" width="1.3" height="21.2" fill="#3a7ebd"/><rect x="363.8" y="1837.7" width="1.2" height="21.2" fill="#3a7ebd" fill-opacity="0.5"/><rect x="366.3" y="1837.7" width="1.2" height="21.2" fill="#3a7ebd" fill-opacity="0.9"/><rect x="370.3" y="1837.7" width="1.2" height="21.2" fill="#3a7ebd" fill-opacity="0.6"/><path d="M364.8,1843.3 L369.8,1848.3 L364.8,1853.3" stroke="#3a7ebd" stroke-width="1.3" fill="none"/>
<text x="362.3" y="1876.8" text-anchor="end" stroke="#3a7ebd" stroke-width="0.3">MRPL21</text>
<line x1="369.4" y1="1870.4" x2="373.5" y2="1870.4" stroke="#3a7ebd" stroke-width="1.3"/><rect x="369.4" y="1859.8" width="1.3" height="21.2" fill="#3a7ebd"/><rect x="372.2" y="1859.8" width="1.3" height="21.2" fill="#3a7ebd"/><rect x="370.9" y="1859.8" width="1.2" height="21.2" fill="#3a7ebd" fill-opacity="0.35"/>
<text x="462.9" y="1721.6" text-anchor="end" stroke="#3a7ebd" stroke-width="0.3">MTL5</text>
<line x1="468" y1="1715.2" x2="512.9" y2="1715.2" stroke="#3a7ebd" stroke-width="1.3"/><rect x="468" y="1704.6" width="1.3" height="21.2" fill="#3a7ebd"/><rect x="511.6" y="1704.6" width="1.3" height="21.2" fill="#3a7ebd"/><rect x="469.5" y="1704.6" width="1.2" height="21.2" fill="#3a7ebd" fill-opacity="0.6"/><rect x="473.5" y="1704.6" width="1.2" height="21.2" fill="#3a7ebd" fill-opacity="0.6"/><rect x="476" y="1704.6" width="1.2" height="21.2" fill="#3a7ebd" fill-opacity="1.0"/><rect x="481.5" y="1704.6" width="1.2" height="21.2" fill="#3a7ebd" fill-opacity="0.6"/><rect x="485.5" y="1704.6" width="1.2" height="21.2" fill="#3a7ebd" fill-opacity="1.0"/><rect x="488.5" y="1704.6" width="1.2" height="21.2" fill="#3a7ebd" fill-opacity="0.6"/><rect x="490.5" y="1704.6" width="1.2" height="21.2" fill="#3a7ebd" fill-opacity="0.5"/><rect x="492.5" y="1704.6" width="1.2" height="21.2" fill="#3a7ebd" fill-opacity="0.5"/><rect x="496.5" y="1704.6" width="1.2" height="21.2" fill="#3a7ebd" fill-opacity="0.5"/><rect x="499.5" y="1704.6" width="1.2" height="21.2" fill="#3a7ebd" fill-opacity="0.5"/><rect x="503.5" y="1704.6" width="1.2" height="21.2" fill="#3a7ebd" fill-opacity="0.9"/><rect x="509" y="1704.6" width="1.2" height="21.2" fill="#3a7ebd" fill-opacity="0.35"/><path d="M470.5,1710.2 L475.5,1715.2 L470.5,1720.2" stroke="#3a7ebd" stroke-width="1.3" fill="none"/><path d="M481.1,1710.2 L486.1,1715.2 L481.1,1720.2" stroke="#3a7ebd" stroke-width="1.3" fill="none"/><path d="M491.7,1710.2 L496.7,1715.2 L491.7,1720.2" stroke="#3a7ebd" stroke-width="1.3" fill="none"/><path d="M502.3,1710.2 L507.3,1715.2 L502.3,1720.2" stroke="#3a7ebd" stroke-width="1.3" fill="none"/>
<text x="462.9" y="1743.8" text-anchor="end" stroke="#3a7ebd" stroke-width="0.3">MTL5</text>
<line x1="468" y1="1737.4" x2="512.9" y2="1737.4" stroke="#3a7ebd" stroke-width="1.3"/><rect x="468" y="1726.8" width="1.3" height="21.2" fill="#3a7ebd"/><rect x="511.6" y="1726.8" width="1.3" height="21.2" fill="#3a7ebd"/><rect x="469.5" y="1726.8" width="1.2" height="21.2" fill="#3a7ebd" fill-opacity="1.0"/><rect x="472.5" y="1726.8" width="1.2" height="21.2" fill="#3a7ebd" fill-opacity="1.0"/><rect x="474.5" y="1726.8" width="1.2" height="21.2" fill="#3a7ebd" fill-opacity="1.0"/><rect x="476.5" y="1726.8" width="1.2" height="21.2" fill="#3a7ebd" fill-opacity="0.75"/><rect x="483.5" y="1726.8" width="1.2" height="21.2" fill="#3a7ebd" fill-opacity="0.5"/><rect x="487.5" y="1726.8" width="1.2" height="21.2" fill="#3a7ebd" fill-opacity="0.5"/><rect x="491.5" y="1726.8" width="1.2" height="21.2" fill="#3a7ebd" fill-opacity="1.0"/><rect x="494.5" y="1726.8" width="1.2" height="21.2" fill="#3a7ebd" fill-opacity="0.35"/><rect x="501.5" y="1726.8" width="1.2" height="21.2" fill="#3a7ebd" fill-opacity="0.75"/><rect x="505.5" y="1726.8" width="1.2" height="21.2" fill="#3a7ebd" fill-opacity="0.75"/><path d="M470.5,1732.4 L475.5,1737.4 L470.5,1742.4" stroke="#3a7ebd" stroke-width="1.3" fill="none"/><path d="M481.1,1732.4 L486.1,1737.4 L481.1,1742.4" stroke="#3a7ebd" stroke-width="1.3" fill="none"/><path d="M491.7,1732.4 L496.7,1737.4 L491.7,1742.4" stroke="#3a7ebd" stroke-width="1.3" fill="none"/><path d="M502.3,1732.4 L507.3,1737.4 L502.3,1742.4" stroke="#3a7ebd" stroke-width="1.3" fill="none"/>
<text x="462.9" y="1765.9" text-anchor="end" stroke="#3a7ebd" stroke-width="0.3">MTL5</text>
<line x1="468" y1="1759.5" x2="512.9" y2="1759.5" stroke="#3a7ebd" stroke-width="1.3"/><rect x="468" y="1748.9" width="1.3" height="21.2" fill="#3a7ebd"/><rect x="511.6" y="1748.9" width="1.3" height="21.2" fill="#3a7ebd"/><rect x="469.5" y="1748.9" width="1.2" height="21.2" fill="#3a7ebd" fill-opacity="0.35"/><rect x="476.5" y="1748.9" width="1.2" height="21.2" fill="#3a7ebd" fill-opacity="0.5"/><rect x="479" y="1748.9" width="1.2" height="21.2" fill="#3a7ebd" fill-opacity="0.5"/><rect x="481" y="1748.9" width="1.2" height="21.2" fill="#3a7ebd" fill-opacity="0.5"/><rect x="486.5" y="1748.9" width="1.2" height="21.2" fill="#3a7ebd" fill-opacity="0.75"/><rect x="493.5" y="1748.9" width="1.2" height="21.2" fill="#3a7ebd" fill-opacity="0.5"/><rect x="499" y="1748.9" width="1.2" height="21.2" fill="#3a7ebd" fill-opacity="0.9"/><rect x="503" y="1748.9" width="1.2" height="21.2" fill="#3a7ebd" fill-opacity="1.0"/><rect x="506" y="1748.9" width="1.2" height="21.2" fill="#3a7ebd" fill-opacity="0.5"/><rect x="511.5" y="1748.9" width="1.2" height="21.2" fill="#3a7ebd" fill-opacity="0.9"/><path d="M470.5,1754.5 L475.5,1759.5 L470.5,1764.5" stroke="#3a7ebd" stroke-width="1.3" fill="none"/><path d="M481.1,1754.5 L486.1,1759.5 L481.1,1764.5" stroke="#3a7ebd" stroke-width="1.3" fill="none"/><path d="M491.7,1754.5 L496.7,1759.5 L491.7,1764.5" stroke="#3a7ebd" stroke-width="1.3" fill="none"/><path d="M502.3,1754.5 L507.3,1759.5 L502.3,1764.5" stroke="#3a7ebd" stroke-width="1.3" fill="none"/>
<text x="462.9" y="1788.1" text-anchor="end" stroke="#3a7ebd" stroke-width="0.3">MTL5</text>
<line x1="468" y1="1781.7" x2="512.9" y2="1781.7" stroke="#3a7ebd" stroke-width="1.3"/><rect x="468" y="1771.1" width="1.3" height="21.2" fill="#3a7ebd"/><rect x="511.6" y="1771.1" width="1.3" height="21.2" fill="#3a7ebd"/><rect x="469.5" y="1771.1" width="1.2" height="21.2" fill="#3a7ebd" fill-opacity="0.35"/><rect x="471.5" y="1771.1" width="1.2" height="21.2" fill="#3a7ebd" fill-opacity="1.0"/><rect x="478.5" y="1771.1" width="1.2" height="21.2" fill="#3a7ebd" fill-opacity="0.35"/><rect x="484" y="1771.1" width="1.2" height="21.2" fill="#3a7ebd" fill-opacity="1.0"/><rect x="486.5" y="1771.1" width="1.2" height="21.2" fill="#3a7ebd" fill-opacity="0.75"/><rect x="489" y="1771.1" width="1.2" height="21.2" fill="#3a7ebd" fill-opacity="0.5"/><rect x="491" y="1771.1" width="1.2" height="21.2" fill="#3a7ebd" fill-opacity="0.6"/><rect x="493.5" y="1771.1" width="1.2" height="21.2" fill="#3a7ebd" fill-opacity="0.6"/><rect x="499" y="1771.1" width="1.2" height="21.2" fill="#3a7ebd" fill-opacity="0.5"/><rect x="504.5" y="1771.1" width="1.2" height="21.2" fill="#3a7ebd" fill-opacity="0.6"/><rect x="507.5" y="1771.1" width="1.2" height="21.2" fill="#3a7ebd" fill-opacity="0.9"/><rect x="511.5" y="1771.1" width="1.2" height="21.2" fill="#3a7ebd" fill-opacity="0.5"/><path d="M470.5,1776.7 L475.5,1781.7 L470.5,1786.7" stroke="#3a7ebd" stroke-width="1.3" fill="none"/><path d="M481.1,1776.7 L486.1,1781.7 L481.1,1786.7" stroke="#3a7ebd" stroke-width="1.3" fill="none"/><path d="M491.7,1776.7 L496.7,1781.7 L491.7,1786.7" stroke="#3a7ebd" stroke-width="1.3" fill="none"/><path d="M502.3,1776.7 L507.3,1781.7 L502.3,1786.7" stroke="#3a7ebd" stroke-width="1.3" fill="none"/>
<text x="462.9" y="1810.3" text-anchor="end" stroke="#3a7ebd" stroke-width="0.3">MTL5</text>
<line x1="468" y1="1803.9" x2="512.9" y2="1803.9" stroke="#3a7ebd" stroke-width="1.3"/><rect x="468" y="1793.3" width="1.3" height="21.2" fill="#3a7ebd"/><rect x="511.6" y="1793.3" width="1.3" height="21.2" fill="#3a7ebd"/><rect x="469.5" y="1793.3" width="1.2" height="21.2" fill="#3a7ebd" fill-opacity="1.0"/><rect x="472.5" y="1793.3" width="1.2" height="21.2" fill="#3a7ebd" fill-opacity="0.75"/><rect x="479.5" y="1793.3" width="1.2" height="21.2" fill="#3a7ebd" fill-opacity="0.9"/><rect x="485" y="1793.3" width="1.2" height="21.2" fill="#3a7ebd" fill-opacity="0.75"/><rect x="490.5" y="1793.3" width="1.2" height="21.2" fill="#3a7ebd" fill-opacity="0.5"/><rect x="496" y="1793.3" width="1.2" height="21.2" fill="#3a7ebd" fill-opacity="0.5"/><rect x="501.5" y="1793.3" width="1.2" height="21.2" fill="#3a7ebd" fill-opacity="0.9"/><rect x="503.5" y="1793.3" width="1.2" height="21.2" fill="#3a7ebd" fill-opacity="0.75"/><rect x="506" y="1793.3" width="1.2" height="21.2" fill="#3a7ebd" fill-opacity="0.9"/><rect x="508" y="1793.3" width="1.2" height="21.2" fill="#3a7ebd" fill-opacity="0.5"/><rect x="510.5" y="1793.3" width="1.2" height="21.2" fill="#3a7ebd" fill-opacity="0.5"/><path d="M470.5,1798.9 L475.5,1803.9 L470.5,1808.9" stroke="#3a7ebd" stroke-width="1.3" fill="none"/><path d="M481.1,1798.9 L486.1,1803.9 L481.1,1808.9" stroke="#3a7ebd" stroke-width="1.3" fill="none"/><path d="M491.7,1798.9 L496.7,1803.9 L491.7,1808.9" stroke="#3a7ebd" stroke-width="1.3" fill="none"/><path d="M502.3,1798.9 L507.3,1803.9 L502.3,1808.9" stroke="#3a7ebd" stroke-width="1.3" fill="none"/>
<text x="464.5" y="1832.5" text-anchor="end" stroke="#3a7ebd" stroke-width="0.3">MTL5</text>
<line x1="470" y1="1826.1" x2="512" y2="1826.1" stroke="#3a7ebd" stroke-width="1.3"/><rect x="470" y="1815.5" width="1.3" height="21.2" fill="#3a7ebd"/><rect x="510.7" y="1815.5" width="1.3" height="21.2" fill="#3a7ebd"/><rect x="471.5" y="1815.5" width="1.2" height="21.2" fill="#3a7ebd" fill-opacity="0.9"/><rect x="478.5" y="1815.5" width="1.2" height="21.2" fill="#3a7ebd" fill-opacity="0.35"/><rect x="484" y="1815.5" width="1.2" height="21.2" fill="#3a7ebd" fill-opacity="0.35"/><rect x="487" y="1815.5" width="1.2" height="21.2" fill="#3a7ebd" fill-opacity="1.0"/><rect x="492.5" y="1815.5" width="1.2" height="21.2" fill="#3a7ebd" fill-opacity="0.9"/><rect x="498" y="1815.5" width="1.2" height="21.2" fill="#3a7ebd" fill-opacity="0.75"/><rect x="500" y="1815.5" width="1.2" height="21.2" fill="#3a7ebd" fill-opacity="0.9"/><rect x="502" y="1815.5" width="1.2" height="21.2" fill="#3a7ebd" fill-opacity="0.5"/><rect x="504.5" y="1815.5" width="1.2" height="21.2" fill="#3a7ebd" fill-opacity="0.6"/><rect x="506.5" y="1815.5" width="1.2" height="21.2" fill="#3a7ebd" fill-opacity="0.35"/><path d="M472.5,1821.1 L477.5,1826.1 L472.5,1831.1" stroke="#3a7ebd" stroke-width="1.3" fill="none"/><path d="M483.1,1821.1 L488.1,1826.1 L483.1,1831.1" stroke="#3a7ebd" stroke-width="1.3" fill="none"/><path d="M493.7,1821.1 L498.7,1826.1 L493.7,1831.1" stroke="#3a7ebd" stroke-width="1.3" fill="none"/><path d="M504.3,1821.1 L509.3,1826.1 L504.3,1831.1" stroke="#3a7ebd" stroke-width="1.3" fill="none"/>
<text x="464.5" y="1854.7" text-anchor="end" stroke="#3a7ebd" stroke-width="0.3">MTL5</text>
<line x1="470" y1="1848.3" x2="512" y2="1848.3" stroke="#3a7ebd" stroke-width="1.3"/><rect x="470" y="1837.7" width="1.3" height="21.2" fill="#3a7ebd"/><rect x="510.7" y="1837.7" width="1.3" height="21.2" fill="#3a7ebd"/><rect x="471.5" y="1837.7" width="1.2" height="21.2" fill="#3a7ebd" fill-opacity="0.75"/><rect x="477" y="1837.7" width="1.2" height="21.2" fill="#3a7ebd" fill-opacity="0.35"/><rect x="479" y="1837.7" width="1.2" height="21.2" fill="#3a7ebd" fill-opacity="0.75"/><rect x="482" y="1837.7" width="1.2" height="21.2" fill="#3a7ebd" fill-opacity="0.9"/><rect x="487.5" y="1837.7" width="1.2" height="21.2" fill="#3a7ebd" fill-opacity="0.9"/><rect x="493" y="1837.7" width="1.2" height="21.2" fill="#3a7ebd" fill-opacity="0.5"/><rect x="500" y="1837.7" width="1.2" height="21.2" fill="#3a7ebd" fill-opacity="0.6"/><rect x="504" y="1837.7" width="1.2" height="21.2" fill="#3a7ebd" fill-opacity="0.9"/><rect x="509.5" y="1837.7" width="1.2" height="21.2" fill="#3a7ebd" fill-opacity="0.75"/><path d="M472.5,1843.3 L477.5,1848.3 L472.5,1853.3" stroke="#3a7ebd" stroke-width="1.3" fill="none"/><path d="M483.1,1843.3 L488.1,1848.3 L483.1,1853.3" stroke="#3a7ebd" stroke-width="1.3" fill="none"/><path d="M493.7,1843.3 L498.7,1848.3 L493.7,1853.3" stroke="#3a7ebd" stroke-width="1.3" fill="none"/><path d="M504.3,1843.3 L509.3,1848.3 L504.3,1853.3" stroke="#3a7ebd" stroke-width="1.3" fill="none"/>
<text x="468" y="1876.8" text-anchor="end" stroke="#3a7ebd" stroke-width="0.3">MTL5</text>
<line x1="473.7" y1="1870.4" x2="512" y2="1870.4" stroke="#3a7ebd" stroke-width="1.3"/><rect x="473.7" y="1859.8" width="1.3" height="21.2" fill="#3a7ebd"/><rect x="510.7" y="1859.8" width="1.3" height="21.2" fill="#3a7ebd"/><rect x="475.2" y="1859.8" width="1.2" height="21.2" fill="#3a7ebd" fill-opacity="0.5"/><rect x="482.2" y="1859.8" width="1.2" height="21.2" fill="#3a7ebd" fill-opacity="0.9"/><rect x="485.2" y="1859.8" width="1.2" height="21.2" fill="#3a7ebd" fill-opacity="0.9"/><rect x="487.7" y="1859.8" width="1.2" height="21.2" fill="#3a7ebd" fill-opacity="0.75"/><rect x="490.2" y="1859.8" width="1.2" height="21.2" fill="#3a7ebd" fill-opacity="0.75"/><rect x="492.2" y="1859.8" width="1.2" height="21.2" fill="#3a7ebd" fill-opacity="0.75"/><rect x="496.2" y="1859.8" width="1.2" height="21.2" fill="#3a7ebd" fill-opacity="0.6"/><rect x="498.2" y="1859.8" width="1.2" height="21.2" fill="#3a7ebd" fill-opacity="1.0"/><rect x="500.7" y="1859.8" width="1.2" height="21.2" fill="#3a7ebd" fill-opacity="0.75"/><rect x="502.7" y="1859.8" width="1.2" height="21.2" fill="#3a7ebd" fill-opacity="0.5"/><rect x="509.7" y="1859.8" width="1.2" height="21.2" fill="#3a7ebd" fill-opacity="0.6"/><path d="M476.2,1865.4 L481.2,1870.4 L476.2,1875.4" stroke="#3a7ebd" stroke-width="1.3" fill="none"/><path d="M486.8,1865.4 L491.8,1870.4 L486.8,1875.4" stroke="#3a7ebd" stroke-width="1.3" fill="none"/><path d="M497.4,1865.4 L502.4,1870.4 L497.4,1875.4" stroke="#3a7ebd" stroke-width="1.3" fill="none"/>
<text x="617.7" y="1721.6" text-anchor="end" stroke="#3a7ebd" stroke-width="0.3">PPP6R3</text>
<line x1="622.9" y1="1715.2" x2="732.9" y2="1715.2" stroke="#3a7ebd" stroke-width="1.3"/><rect x="622.9" y="1704.6" width="1.3" height="21.2" fill="#3a7ebd"/><rect x="731.6" y="1704.6" width="1.3" height="21.2" fill="#3a7ebd"/><rect x="624.4" y="1704.6" width="1.2" height="21.2" fill="#3a7ebd" fill-opacity="0.5"/><rect x="631.4" y="1704.6" width="1.2" height="21.2" fill="#3a7ebd" fill-opacity="1.0"/><rect x="638.4" y="1704.6" width="1.2" height="21.2" fill="#3a7ebd" fill-opacity="0.6"/><rect x="640.9" y="1704.6" width="1.2" height="21.2" fill="#3a7ebd" fill-opacity="0.6"/><rect x="643.4" y="1704.6" width="1.2" height="21.2" fill="#3a7ebd" fill-opacity="0.75"/><rect x="645.9" y="1704.6" width="1.2" height="21.2" fill="#3a7ebd" fill-opacity="1.0"/><rect x="647.9" y="1704.6" width="1.2" height="21.2" fill="#3a7ebd" fill-opacity="0.75"/><rect x="651.9" y="1704.6" width="1.2" height="21.2" fill="#3a7ebd" fill-opacity="0.5"/><rect x="658.9" y="1704.6" width="1.2" height="21.2" fill="#3a7ebd" fill-opacity="0.5"/><rect x="661.4" y="1704.6" width="1.2" height="21.2" fill="#3a7ebd" fill-opacity="1.0"/><rect x="665.4" y="1704.6" width="1.2" height="21.2" fill="#3a7ebd" fill-opacity="0.9"/><rect x="669.4" y="1704.6" width="1.2" height="21.2" fill="#3a7ebd" fill-opacity="0.6"/><rect x="673.4" y="1704.6" width="1.2" height="21.2" fill="#3a7ebd" fill-opacity="0.5"/><rect x="676.4" y="1704.6" width="1.2" height="21.2" fill="#3a7ebd" fill-opacity="0.6"/><rect x="678.4" y="1704.6" width="1.2" height="21.2" fill="#3a7ebd" fill-opacity="1.0"/><rect x="681.4" y="1704.6" width="1.2" height="21.2" fill="#3a7ebd" fill-opacity="0.35"/><rect x="696.2" y="1704.6" width="1.1" height="21.2" fill="#3a7ebd" fill-opacity="0.7"/><path d="M634.4,1710.2 L629.4,1715.2 L634.4,1720.2" stroke="#3a7ebd" stroke-width="1.3" fill="none"/><path d="M645,1710.2 L640,1715.2 L645,1720.2" stroke="#3a7ebd" stroke-width="1.3" fill="none"/><path d="M655.6,1710.2 L650.6,1715.2 L655.6,1720.2" stroke="#3a7ebd" stroke-width="1.3" fill="none"/><path d="M666.2,1710.2 L661.2,1715.2 L666.2,1720.2" stroke="#3a7ebd" stroke-width="1.3" fill="none"/><path d="M676.8,1710.2 L671.8,1715.2 L676.8,1720.2" stroke="#3a7ebd" stroke-width="1.3" fill="none"/><path d="M687.4,1710.2 L682.4,1715.2 L687.4,1720.2" stroke="#3a7ebd" stroke-width="1.3" fill="none"/><path d="M698,1710.2 L693,1715.2 L698,1720.2" stroke="#3a7ebd" stroke-width="1.3" fill="none"/><path d="M708.6,1710.2 L703.6,1715.2 L708.6,1720.2" stroke="#3a7ebd" stroke-width="1.3" fill="none"/><path d="M719.2,1710.2 L714.2,1715.2 L719.2,1720.2" stroke="#3a7ebd" stroke-width="1.3" fill="none"/><path d="M729.8,1710.2 L724.8,1715.2 L729.8,1720.2" stroke="#3a7ebd" stroke-width="1.3" fill="none"/>
<text x="630.6" y="1743.8" text-anchor="end" stroke="#3a7ebd" stroke-width="0.3">PPP6R3</text>
<line x1="636.6" y1="1737.4" x2="732.9" y2="1737.4" stroke="#3a7ebd" stroke-width="1.3"/><rect x="636.6" y="1726.8" width="1.3" height="21.2" fill="#3a7ebd"/><rect x="731.6" y="1726.8" width="1.3" height="21.2" fill="#3a7ebd"/><rect x="638.1" y="1726.8" width="1.2" height="21.2" fill="#3a7ebd" fill-opacity="0.9"/><rect x="642.1" y="1726.8" width="1.2" height="21.2" fill="#3a7ebd" fill-opacity="0.75"/><rect x="649.1" y="1726.8" width="1.2" height="21.2" fill="#3a7ebd" fill-opacity="0.35"/><rect x="653.1" y="1726.8" width="1.2" height="21.2" fill="#3a7ebd" fill-opacity="0.6"/><rect x="658.6" y="1726.8" width="1.2" height="21.2" fill="#3a7ebd" fill-opacity="0.9"/><rect x="661.6" y="1726.8" width="1.2" height="21.2" fill="#3a7ebd" fill-opacity="0.9"/><rect x="663.6" y="1726.8" width="1.2" height="21.2" fill="#3a7ebd" fill-opacity="0.35"/><rect x="666.1" y="1726.8" width="1.2" height="21.2" fill="#3a7ebd" fill-opacity="0.35"/><rect x="668.1" y="1726.8" width="1.2" height="21.2" fill="#3a7ebd" fill-opacity="0.6"/><rect x="671.1" y="1726.8" width="1.2" height="21.2" fill="#3a7ebd" fill-opacity="0.35"/><rect x="673.6" y="1726.8" width="1.2" height="21.2" fill="#3a7ebd" fill-opacity="0.6"/><rect x="676.1" y="1726.8" width="1.2" height="21.2" fill="#3a7ebd" fill-opacity="0.75"/><rect x="683.1" y="1726.8" width="1.2" height="21.2" fill="#3a7ebd" fill-opacity="0.6"/><rect x="687.1" y="1726.8" width="1.2" height="21.2" fill="#3a7ebd" fill-opacity="0.5"/><rect x="700.8" y="1726.8" width="1.1" height="21.2" fill="#3a7ebd" fill-opacity="0.7"/><rect x="636.6" y="1726.8" width="1.4" height="21.2" fill="#3a7ebd"/><path d="M648.1,1732.4 L643.1,1737.4 L648.1,1742.4" stroke="#3a7ebd" stroke-width="1.3" fill="none"/><path d="M658.7,1732.4 L653.7,1737.4 L658.7,1742.4" stroke="#3a7ebd" stroke-width="1.3" fill="none"/><path d="M669.3,1732.4 L664.3,1737.4 L669.3,1742.4" stroke="#3a7ebd" stroke-width="1.3" fill="none"/><path d="M679.9,1732.4 L674.9,1737.4 L679.9,1742.4" stroke="#3a7ebd" stroke-width="1.3" fill="none"/><path d="M690.5,1732.4 L685.5,1737.4 L690.5,1742.4" stroke="#3a7ebd" stroke-width="1.3" fill="none"/><path d="M701.1,1732.4 L696.1,1737.4 L701.1,1742.4" stroke="#3a7ebd" stroke-width="1.3" fill="none"/><path d="M711.7,1732.4 L706.7,1737.4 L711.7,1742.4" stroke="#3a7ebd" stroke-width="1.3" fill="none"/><path d="M722.3,1732.4 L717.3,1737.4 L722.3,1742.4" stroke="#3a7ebd" stroke-width="1.3" fill="none"/><path d="M732.9,1732.4 L727.9,1737.4 L732.9,1742.4" stroke="#3a7ebd" stroke-width="1.3" fill="none"/>
<text x="630.6" y="1765.9" text-anchor="end" stroke="#3a7ebd" stroke-width="0.3">PPP6R3</text>
<line x1="636.6" y1="1759.5" x2="732.9" y2="1759.5" stroke="#3a7ebd" stroke-width="1.3"/><rect x="636.6" y="1748.9" width="1.3" height="21.2" fill="#3a7ebd"/><rect x="731.6" y="1748.9" width="1.3" height="21.2" fill="#3a7ebd"/><rect x="638.1" y="1748.9" width="1.2" height="21.2" fill="#3a7ebd" fill-opacity="0.9"/><rect x="643.6" y="1748.9" width="1.2" height="21.2" fill="#3a7ebd" fill-opacity="0.75"/><rect x="650.6" y="1748.9" width="1.2" height="21.2" fill="#3a7ebd" fill-opacity="0.6"/><rect x="652.6" y="1748.9" width="1.2" height="21.2" fill="#3a7ebd" fill-opacity="0.6"/><rect x="654.6" y="1748.9" width="1.2" height="21.2" fill="#3a7ebd" fill-opacity="1.0"/><rect x="657.1" y="1748.9" width="1.2" height="21.2" fill="#3a7ebd" fill-opacity="0.75"/><rect x="659.1" y="1748.9" width="1.2" height="21.2" fill="#3a7ebd" fill-opacity="0.6"/><rect x="661.1" y="1748.9" width="1.2" height="21.2" fill="#3a7ebd" fill-opacity="1.0"/><rect x="663.1" y="1748.9" width="1.2" height="21.2" fill="#3a7ebd" fill-opacity="0.6"/><rect x="665.1" y="1748.9" width="1.2" height="21.2" fill="#3a7ebd" fill-opacity="0.9"/><rect x="667.6" y="1748.9" width="1.2" height="21.2" fill="#3a7ebd" fill-opacity="0.35"/><rect x="670.6" y="1748.9" width="1.2" height="21.2" fill="#3a7ebd" fill-opacity="0.35"/><rect x="674.6" y="1748.9" width="1.2" height="21.2" fill="#3a7ebd" fill-opacity="0.35"/><rect x="677.6" y="1748.9" width="1.2" height="21.2" fill="#3a7ebd" fill-opacity="0.9"/><rect x="681.6" y="1748.9" width="1.2" height="21.2" fill="#3a7ebd" fill-opacity="0.6"/><rect x="687.1" y="1748.9" width="1.2" height="21.2" fill="#3a7ebd" fill-opacity="0.5"/><rect x="700.8" y="1748.9" width="1.1" height="21.2" fill="#3a7ebd" fill-opacity="0.7"/><rect x="636.6" y="1748.9" width="1.4" height="21.2" fill="#3a7ebd"/><path d="M648.1,1754.5 L643.1,1759.5 L648.1,1764.5" stroke="#3a7ebd" stroke-width="1.3" fill="none"/><path d="M658.7,1754.5 L653.7,1759.5 L658.7,1764.5" stroke="#3a7ebd" stroke-width="1.3" fill="none"/><path d="M669.3,1754.5 L664.3,1759.5 L669.3,1764.5" stroke="#3a7ebd" stroke-width="1.3" fill="none"/><path d="M679.9,1754.5 L674.9,1759.5 L679.9,1764.5" stroke="#3a7ebd" stroke-width="1.3" fill="none"/><path d="M690.5,1754.5 L685.5,1759.5 L690.5,1764.5" stroke="#3a7ebd" stroke-width="1.3" fill="none"/><path d="M701.1,1754.5 L696.1,1759.5 L701.1,1764.5" stroke="#3a7ebd" stroke-width="1.3" fill="none"/><path d="M711.7,1754.5 L706.7,1759.5 L711.7,1764.5" stroke="#3a7ebd" stroke-width="1.3" fill="none"/><path d="M722.3,1754.5 L717.3,1759.5 L722.3,1764.5" stroke="#3a7ebd" stroke-width="1.3" fill="none"/><path d="M732.9,1754.5 L727.9,1759.5 L732.9,1764.5" stroke="#3a7ebd" stroke-width="1.3" fill="none"/>
<text x="889" y="1721.6" text-anchor="end" stroke="#3a7ebd" stroke-width="0.3">C11orf24</text>
<line x1="894.3" y1="1715.2" x2="905.7" y2="1715.2" stroke="#3a7ebd" stroke-width="1.3"/><rect x="894.3" y="1704.6" width="1.3" height="21.2" fill="#3a7ebd"/><rect x="904.4" y="1704.6" width="1.3" height="21.2" fill="#3a7ebd"/><rect x="895.8" y="1704.6" width="1.2" height="21.2" fill="#3a7ebd" fill-opacity="0.9"/><rect x="902.8" y="1704.6" width="1.2" height="21.2" fill="#3a7ebd" fill-opacity="0.5"/><rect x="904" y="1704.6" width="1.7" height="21.2" fill="#3a7ebd"/>
<text x="890.6" y="1743.8" text-anchor="end" stroke="#3a7ebd" stroke-width="0.3">C11orf24</text>
<line x1="894.3" y1="1737.4" x2="905.7" y2="1737.4" stroke="#3a7ebd" stroke-width="1.3"/><rect x="894.3" y="1726.8" width="1.3" height="21.2" fill="#3a7ebd"/><rect x="904.4" y="1726.8" width="1.3" height="21.2" fill="#3a7ebd"/><rect x="895.8" y="1726.8" width="1.2" height="21.2" fill="#3a7ebd" fill-opacity="0.5"/><rect x="898.8" y="1726.8" width="1.2" height="21.2" fill="#3a7ebd" fill-opacity="0.35"/><rect x="901.3" y="1726.8" width="1.2" height="21.2" fill="#3a7ebd" fill-opacity="0.5"/><rect x="904.3" y="1726.8" width="1.2" height="21.2" fill="#3a7ebd" fill-opacity="1.0"/><rect x="904" y="1726.8" width="1.7" height="21.2" fill="#3a7ebd"/>
<text x="896.6" y="1765.9" text-anchor="end" stroke="#3a7ebd" stroke-width="0.3">C11orf24</text>
<line x1="901.4" y1="1759.5" x2="905.7" y2="1759.5" stroke="#3a7ebd" stroke-width="1.3"/><rect x="901.4" y="1748.9" width="1.3" height="21.2" fill="#3a7ebd"/><rect x="904.4" y="1748.9" width="1.3" height="21.2" fill="#3a7ebd"/><rect x="902.9" y="1748.9" width="1.2" height="21.2" fill="#3a7ebd" fill-opacity="0.9"/>
<text x="1038.3" y="1721.6" text-anchor="end" stroke="#3a7ebd" stroke-width="0.3">CHKA</text>
<line x1="1043.8" y1="1715.2" x2="1116.9" y2="1715.2" stroke="#3a7ebd" stroke-width="1.3"/><rect x="1043.8" y="1704.6" width="1.3" height="21.2" fill="#3a7ebd"/><rect x="1115.6" y="1704.6" width="1.3" height="21.2" fill="#3a7ebd"/><rect x="1078.2" y="1704.6" width="1.2" height="21.2" fill="#3a7ebd" fill-opacity="0.6"/><rect x="1082.2" y="1704.6" width="1.2" height="21.2" fill="#3a7ebd" fill-opacity="0.9"/><rect x="1089.2" y="1704.6" width="1.2" height="21.2" fill="#3a7ebd" fill-opacity="0.5"/><rect x="1092.2" y="1704.6" width="1.2" height="21.2" fill="#3a7ebd" fill-opacity="0.6"/><rect x="1094.2" y="1704.6" width="1.2" height="21.2" fill="#3a7ebd" fill-opacity="0.6"/><rect x="1096.2" y="1704.6" width="1.2" height="21.2" fill="#3a7ebd" fill-opacity="0.35"/><rect x="1098.2" y="1704.6" width="1.2" height="21.2" fill="#3a7ebd" fill-opacity="1.0"/><rect x="1103.7" y="1704.6" width="1.2" height="21.2" fill="#3a7ebd" fill-opacity="0.9"/><rect x="1106.2" y="1704.6" width="1.2" height="21.2" fill="#3a7ebd" fill-opacity="0.9"/><rect x="1110.2" y="1704.6" width="1.2" height="21.2" fill="#3a7ebd" fill-opacity="0.5"/><rect x="1114.2" y="1704.6" width="1.2" height="21.2" fill="#3a7ebd" fill-opacity="0.35"/><rect x="1114.5" y="1704.6" width="2.4" height="21.2" fill="#3a7ebd"/><path d="M1046.3,1710.2 L1051.3,1715.2 L1046.3,1720.2" stroke="#3a7ebd" stroke-width="1.3" fill="none"/><path d="M1056.9,1710.2 L1061.9,1715.2 L1056.9,1720.2" stroke="#3a7ebd" stroke-width="1.3" fill="none"/><path d="M1067.5,1710.2 L1072.5,1715.2 L1067.5,1720.2" stroke="#3a7ebd" stroke-width="1.3" fill="none"/><path d="M1078.1,1710.2 L1083.1,1715.2 L1078.1,1720.2" stroke="#3a7ebd" stroke-width="1.3" fill="none"/><path d="M1088.7,1710.2 L1093.7,1715.2 L1088.7,1720.2" stroke="#3a7ebd" stroke-width="1.3" fill="none"/><path d="M1099.3,1710.2 L1104.3,1715.2 L1099.3,1720.2" stroke="#3a7ebd" stroke-width="1.3" fill="none"/>
<text x="1207" y="1721.6" text-anchor="end" stroke="#3a7ebd" stroke-width="0.3">TBX10</text>
<line x1="1212" y1="1715.2" x2="1214.5" y2="1715.2" stroke="#3a7ebd" stroke-width="1.3"/><rect x="1212" y="1704.6" width="1.3" height="21.2" fill="#3a7ebd"/><rect x="1213.2" y="1704.6" width="1.3" height="21.2" fill="#3a7ebd"/><rect x="1212" y="1704.6" width="2.5" height="21.2" fill="#3a7ebd"/>
<text x="1038.3" y="1743.8" text-anchor="end" stroke="#3a7ebd" stroke-width="0.3">CHKA</text>
<line x1="1043.8" y1="1737.4" x2="1116.9" y2="1737.4" stroke="#3a7ebd" stroke-width="1.3"/><rect x="1043.8" y="1726.8" width="1.3" height="21.2" fill="#3a7ebd"/><rect x="1115.6" y="1726.8" width="1.3" height="21.2" fill="#3a7ebd"/><rect x="1078.2" y="1726.8" width="1.2" height="21.2" fill="#3a7ebd" fill-opacity="1.0"/><rect x="1082.2" y="1726.8" width="1.2" height="21.2" fill="#3a7ebd" fill-opacity="1.0"/><rect x="1086.2" y="1726.8" width="1.2" height="21.2" fill="#3a7ebd" fill-opacity="0.9"/><rect x="1090.2" y="1726.8" width="1.2" height="21.2" fill="#3a7ebd" fill-opacity="0.9"/><rect x="1093.2" y="1726.8" width="1.2" height="21.2" fill="#3a7ebd" fill-opacity="1.0"/><rect x="1095.7" y="1726.8" width="1.2" height="21.2" fill="#3a7ebd" fill-opacity="0.5"/><rect x="1098.7" y="1726.8" width="1.2" height="21.2" fill="#3a7ebd" fill-opacity="0.5"/><rect x="1105.7" y="1726.8" width="1.2" height="21.2" fill="#3a7ebd" fill-opacity="1.0"/><rect x="1112.7" y="1726.8" width="1.2" height="21.2" fill="#3a7ebd" fill-opacity="0.5"/><rect x="1114.5" y="1726.8" width="2.4" height="21.2" fill="#3a7ebd"/><path d="M1046.3,1732.4 L1051.3,1737.4 L1046.3,1742.4" stroke="#3a7ebd" stroke-width="1.3" fill="none"/><path d="M1056.9,1732.4 L1061.9,1737.4 L1056.9,1742.4" stroke="#3a7ebd" stroke-width="1.3" fill="none"/><path d="M1067.5,1732.4 L1072.5,1737.4 L1067.5,1742.4" stroke="#3a7ebd" stroke-width="1.3" fill="none"/><path d="M1078.1,1732.4 L1083.1,1737.4 L1078.1,1742.4" stroke="#3a7ebd" stroke-width="1.3" fill="none"/><path d="M1088.7,1732.4 L1093.7,1737.4 L1088.7,1742.4" stroke="#3a7ebd" stroke-width="1.3" fill="none"/><path d="M1099.3,1732.4 L1104.3,1737.4 L1099.3,1742.4" stroke="#3a7ebd" stroke-width="1.3" fill="none"/>
<text x="1207" y="1743.8" text-anchor="end" stroke="#3a7ebd" stroke-width="0.3">TBX10</text>
<line x1="1212" y1="1737.4" x2="1214.5" y2="1737.4" stroke="#3a7ebd" stroke-width="1.3"/><rect x="1212" y="1726.8" width="1.3" height="21.2" fill="#3a7ebd"/><rect x="1213.2" y="1726.8" width="1.3" height="21.2" fill="#3a7ebd"/><rect x="1212" y="1726.8" width="2.5" height="21.2" fill="#3a7ebd"/>
<text x="1038.3" y="1765.9" text-anchor="end" stroke="#3a7ebd" stroke-width="0.3">CHKA</text>
<line x1="1043.8" y1="1759.5" x2="1116.9" y2="1759.5" stroke="#3a7ebd" stroke-width="1.3"/><rect x="1043.8" y="1748.9" width="1.3" height="21.2" fill="#3a7ebd"/><rect x="1115.6" y="1748.9" width="1.3" height="21.2" fill="#3a7ebd"/><rect x="1078.2" y="1748.9" width="1.2" height="21.2" fill="#3a7ebd" fill-opacity="0.6"/><rect x="1080.2" y="1748.9" width="1.2" height="21.2" fill="#3a7ebd" fill-opacity="0.5"/><rect x="1082.2" y="1748.9" width="1.2" height="21.2" fill="#3a7ebd" fill-opacity="0.35"/><rect x="1089.2" y="1748.9" width="1.2" height="21.2" fill="#3a7ebd" fill-opacity="1.0"/><rect x="1092.2" y="1748.9" width="1.2" height="21.2" fill="#3a7ebd" fill-opacity="0.75"/><rect x="1094.7" y="1748.9" width="1.2" height="21.2" fill="#3a7ebd" fill-opacity="0.35"/><rect x="1096.7" y="1748.9" width="1.2" height="21.2" fill="#3a7ebd" fill-opacity="1.0"/><rect x="1100.7" y="1748.9" width="1.2" height="21.2" fill="#3a7ebd" fill-opacity="0.9"/><rect x="1107.7" y="1748.9" width="1.2" height="21.2" fill="#3a7ebd" fill-opacity="0.6"/><rect x="1113.2" y="1748.9" width="1.2" height="21.2" fill="#3a7ebd" fill-opacity="0.5"/><rect x="1114.5" y="1748.9" width="2.4" height="21.2" fill="#3a7ebd"/><path d="M1046.3,1754.5 L1051.3,1759.5 L1046.3,1764.5" stroke="#3a7ebd" stroke-width="1.3" fill="none"/><path d="M1056.9,1754.5 L1061.9,1759.5 L1056.9,1764.5" stroke="#3a7ebd" stroke-width="1.3" fill="none"/><path d="M1067.5,1754.5 L1072.5,1759.5 L1067.5,1764.5" stroke="#3a7ebd" stroke-width="1.3" fill="none"/><path d="M1078.1,1754.5 L1083.1,1759.5 L1078.1,1764.5" stroke="#3a7ebd" stroke-width="1.3" fill="none"/><path d="M1088.7,1754.5 L1093.7,1759.5 L1088.7,1764.5" stroke="#3a7ebd" stroke-width="1.3" fill="none"/><path d="M1099.3,1754.5 L1104.3,1759.5 L1099.3,1764.5" stroke="#3a7ebd" stroke-width="1.3" fill="none"/>
<text x="1207" y="1765.9" text-anchor="end" stroke="#3a7ebd" stroke-width="0.3">TBX10</text>
<line x1="1212" y1="1759.5" x2="1214.5" y2="1759.5" stroke="#3a7ebd" stroke-width="1.3"/><rect x="1212" y="1748.9" width="1.3" height="21.2" fill="#3a7ebd"/><rect x="1213.2" y="1748.9" width="1.3" height="21.2" fill="#3a7ebd"/><rect x="1212" y="1748.9" width="2.5" height="21.2" fill="#3a7ebd"/>
<text x="1294" y="1721.6" text-anchor="end" stroke="#3a7ebd" stroke-width="0.3">GSTP1</text>
<line x1="1301" y1="1715.2" x2="1303" y2="1715.2" stroke="#3a7ebd" stroke-width="1.3"/><rect x="1301" y="1704.6" width="1.3" height="21.2" fill="#3a7ebd"/><rect x="1301.7" y="1704.6" width="1.3" height="21.2" fill="#3a7ebd"/>
<text x="1294" y="1743.8" text-anchor="end" stroke="#3a7ebd" stroke-width="0.3">GSTP1</text>
<line x1="1301" y1="1737.4" x2="1303" y2="1737.4" stroke="#3a7ebd" stroke-width="1.3"/><rect x="1301" y="1726.8" width="1.3" height="21.2" fill="#3a7ebd"/><rect x="1301.7" y="1726.8" width="1.3" height="21.2" fill="#3a7ebd"/>
<text x="1305.2" y="1765.9" text-anchor="end" stroke="#3a7ebd" stroke-width="0.3">CABP2</text>
<line x1="1310.4" y1="1759.5" x2="1314.3" y2="1759.5" stroke="#3a7ebd" stroke-width="1.3"/><rect x="1310.4" y="1748.9" width="1.3" height="21.2" fill="#3a7ebd"/><rect x="1313" y="1748.9" width="1.3" height="21.2" fill="#3a7ebd"/><rect x="1310.4" y="1748.9" width="3.9" height="21.2" fill="#3a7ebd"/>
<text x="734.3" y="1788.1" text-anchor="end" stroke="#3a7ebd" stroke-width="0.3">C7FDX9_CANFA</text>
<line x1="739.4" y1="1781.7" x2="750.9" y2="1781.7" stroke="#3a7ebd" stroke-width="1.3"/><rect x="739.4" y="1771.1" width="1.3" height="21.2" fill="#3a7ebd"/><rect x="749.6" y="1771.1" width="1.3" height="21.2" fill="#3a7ebd"/><rect x="740.9" y="1771.1" width="1.2" height="21.2" fill="#3a7ebd" fill-opacity="0.6"/><rect x="742.9" y="1771.1" width="1.2" height="21.2" fill="#3a7ebd" fill-opacity="0.75"/><rect x="745.4" y="1771.1" width="1.2" height="21.2" fill="#3a7ebd" fill-opacity="0.5"/><rect x="748.4" y="1771.1" width="1.2" height="21.2" fill="#3a7ebd" fill-opacity="0.75"/><path d="M750.9,1776.7 L745.9,1781.7 L750.9,1786.7" stroke="#3a7ebd" stroke-width="1.3" fill="none"/>
<text x="734.3" y="1810.3" text-anchor="end" stroke="#3a7ebd" stroke-width="0.3">C7FDX9_CANFA</text>
<line x1="739.4" y1="1803.9" x2="750.9" y2="1803.9" stroke="#3a7ebd" stroke-width="1.3"/><rect x="739.4" y="1793.3" width="1.3" height="21.2" fill="#3a7ebd"/><rect x="749.6" y="1793.3" width="1.3" height="21.2" fill="#3a7ebd"/><rect x="740.9" y="1793.3" width="1.2" height="21.2" fill="#3a7ebd" fill-opacity="0.6"/><rect x="743.9" y="1793.3" width="1.2" height="21.2" fill="#3a7ebd" fill-opacity="0.6"/><rect x="749.4" y="1793.3" width="1.2" height="21.2" fill="#3a7ebd" fill-opacity="0.6"/><path d="M750.9,1798.9 L745.9,1803.9 L750.9,1808.9" stroke="#3a7ebd" stroke-width="1.3" fill="none"/>
<text x="734.3" y="1832.5" text-anchor="end" stroke="#3a7ebd" stroke-width="0.3">C7FDX9_CANFA</text>
<line x1="739.4" y1="1826.1" x2="750.9" y2="1826.1" stroke="#3a7ebd" stroke-width="1.3"/><rect x="739.4" y="1815.5" width="1.3" height="21.2" fill="#3a7ebd"/><rect x="749.6" y="1815.5" width="1.3" height="21.2" fill="#3a7ebd"/><rect x="740.9" y="1815.5" width="1.2" height="21.2" fill="#3a7ebd" fill-opacity="0.35"/><rect x="743.9" y="1815.5" width="1.2" height="21.2" fill="#3a7ebd" fill-opacity="0.5"/><rect x="746.9" y="1815.5" width="1.2" height="21.2" fill="#3a7ebd" fill-opacity="0.5"/><rect x="748.9" y="1815.5" width="1.2" height="21.2" fill="#3a7ebd" fill-opacity="0.6"/><path d="M750.9,1821.1 L745.9,1826.1 L750.9,1831.1" stroke="#3a7ebd" stroke-width="1.3" fill="none"/>
<text x="734.3" y="1854.7" text-anchor="end" stroke="#3a7ebd" stroke-width="0.3">C7FDX9_CANFA</text>
<line x1="739.4" y1="1848.3" x2="824.9" y2="1848.3" stroke="#3a7ebd" stroke-width="1.3"/><rect x="739.4" y="1837.7" width="1.3" height="21.2" fill="#3a7ebd"/><rect x="823.6" y="1837.7" width="1.3" height="21.2" fill="#3a7ebd"/><rect x="740.9" y="1837.7" width="1.2" height="21.2" fill="#3a7ebd" fill-opacity="0.35"/><rect x="744.9" y="1837.7" width="1.2" height="21.2" fill="#3a7ebd" fill-opacity="0.6"/><rect x="750.4" y="1837.7" width="1.2" height="21.2" fill="#3a7ebd" fill-opacity="1.0"/><rect x="752.9" y="1837.7" width="1.2" height="21.2" fill="#3a7ebd" fill-opacity="0.5"/><rect x="758.4" y="1837.7" width="1.2" height="21.2" fill="#3a7ebd" fill-opacity="0.35"/><rect x="760.4" y="1837.7" width="1.2" height="21.2" fill="#3a7ebd" fill-opacity="0.6"/><rect x="762.4" y="1837.7" width="1.2" height="21.2" fill="#3a7ebd" fill-opacity="0.5"/><rect x="766.4" y="1837.7" width="1.2" height="21.2" fill="#3a7ebd" fill-opacity="0.9"/><rect x="768.4" y="1837.7" width="1.2" height="21.2" fill="#3a7ebd" fill-opacity="0.75"/><rect x="770.4" y="1837.7" width="1.2" height="21.2" fill="#3a7ebd" fill-opacity="0.6"/><rect x="773.4" y="1837.7" width="1.2" height="21.2" fill="#3a7ebd" fill-opacity="1.0"/><rect x="775.9" y="1837.7" width="1.2" height="21.2" fill="#3a7ebd" fill-opacity="0.35"/><rect x="781.4" y="1837.7" width="1.2" height="21.2" fill="#3a7ebd" fill-opacity="0.9"/><rect x="783.9" y="1837.7" width="1.2" height="21.2" fill="#3a7ebd" fill-opacity="1.0"/><rect x="775" y="1837.7" width="1.3" height="21.2" fill="#3a7ebd"/><rect x="780" y="1837.7" width="1.3" height="21.2" fill="#3a7ebd"/><rect x="793" y="1837.7" width="1.3" height="21.2" fill="#3a7ebd"/><rect x="811" y="1837.7" width="1.3" height="21.2" fill="#3a7ebd"/><rect x="818" y="1837.7" width="1.3" height="21.2" fill="#3a7ebd"/><path d="M750.9,1843.3 L745.9,1848.3 L750.9,1853.3" stroke="#3a7ebd" stroke-width="1.3" fill="none"/><path d="M761.5,1843.3 L756.5,1848.3 L761.5,1853.3" stroke="#3a7ebd" stroke-width="1.3" fill="none"/><path d="M772.1,1843.3 L767.1,1848.3 L772.1,1853.3" stroke="#3a7ebd" stroke-width="1.3" fill="none"/><path d="M782.7,1843.3 L777.7,1848.3 L782.7,1853.3" stroke="#3a7ebd" stroke-width="1.3" fill="none"/><path d="M793.3,1843.3 L788.3,1848.3 L793.3,1853.3" stroke="#3a7ebd" stroke-width="1.3" fill="none"/><path d="M803.9,1843.3 L798.9,1848.3 L803.9,1853.3" stroke="#3a7ebd" stroke-width="1.3" fill="none"/><path d="M814.5,1843.3 L809.5,1848.3 L814.5,1853.3" stroke="#3a7ebd" stroke-width="1.3" fill="none"/><path d="M825.1,1843.3 L820.1,1848.3 L825.1,1853.3" stroke="#3a7ebd" stroke-width="1.3" fill="none"/>
<text x="734.3" y="1876.8" text-anchor="end" stroke="#3a7ebd" stroke-width="0.3">C7FDX9_CANFA</text>
<line x1="739.4" y1="1870.4" x2="824.9" y2="1870.4" stroke="#3a7ebd" stroke-width="1.3"/><rect x="739.4" y="1859.8" width="1.3" height="21.2" fill="#3a7ebd"/><rect x="823.6" y="1859.8" width="1.3" height="21.2" fill="#3a7ebd"/><rect x="740.9" y="1859.8" width="1.2" height="21.2" fill="#3a7ebd" fill-opacity="0.9"/><rect x="744.9" y="1859.8" width="1.2" height="21.2" fill="#3a7ebd" fill-opacity="0.6"/><rect x="751.9" y="1859.8" width="1.2" height="21.2" fill="#3a7ebd" fill-opacity="0.75"/><rect x="754.4" y="1859.8" width="1.2" height="21.2" fill="#3a7ebd" fill-opacity="0.6"/><rect x="761.4" y="1859.8" width="1.2" height="21.2" fill="#3a7ebd" fill-opacity="0.9"/><rect x="768.4" y="1859.8" width="1.2" height="21.2" fill="#3a7ebd" fill-opacity="0.5"/><rect x="770.4" y="1859.8" width="1.2" height="21.2" fill="#3a7ebd" fill-opacity="1.0"/><rect x="775.9" y="1859.8" width="1.2" height="21.2" fill="#3a7ebd" fill-opacity="1.0"/><rect x="779.9" y="1859.8" width="1.2" height="21.2" fill="#3a7ebd" fill-opacity="1.0"/><rect x="775" y="1859.8" width="1.3" height="21.2" fill="#3a7ebd"/><rect x="780" y="1859.8" width="1.3" height="21.2" fill="#3a7ebd"/><rect x="793" y="1859.8" width="1.3" height="21.2" fill="#3a7ebd"/><rect x="811" y="1859.8" width="1.3" height="21.2" fill="#3a7ebd"/><rect x="818" y="1859.8" width="1.3" height="21.2" fill="#3a7ebd"/><path d="M750.9,1865.4 L745.9,1870.4 L750.9,1875.4" stroke="#3a7ebd" stroke-width="1.3" fill="none"/><path d="M761.5,1865.4 L756.5,1870.4 L761.5,1875.4" stroke="#3a7ebd" stroke-width="1.3" fill="none"/><path d="M772.1,1865.4 L767.1,1870.4 L772.1,1875.4" stroke="#3a7ebd" stroke-width="1.3" fill="none"/><path d="M782.7,1865.4 L777.7,1870.4 L782.7,1875.4" stroke="#3a7ebd" stroke-width="1.3" fill="none"/><path d="M793.3,1865.4 L788.3,1870.4 L793.3,1875.4" stroke="#3a7ebd" stroke-width="1.3" fill="none"/><path d="M803.9,1865.4 L798.9,1870.4 L803.9,1875.4" stroke="#3a7ebd" stroke-width="1.3" fill="none"/><path d="M814.5,1865.4 L809.5,1870.4 L814.5,1875.4" stroke="#3a7ebd" stroke-width="1.3" fill="none"/><path d="M825.1,1865.4 L820.1,1870.4 L825.1,1875.4" stroke="#3a7ebd" stroke-width="1.3" fill="none"/>
<text x="948" y="1788.1" text-anchor="end" stroke="#3a7ebd" stroke-width="0.3">SUV420H1</text>
<line x1="954.5" y1="1781.7" x2="1016" y2="1781.7" stroke="#3a7ebd" stroke-width="1.3"/><rect x="954.5" y="1771.1" width="1.3" height="21.2" fill="#3a7ebd"/><rect x="1014.7" y="1771.1" width="1.3" height="21.2" fill="#3a7ebd"/><rect x="983.7" y="1771.1" width="1.2" height="21.2" fill="#3a7ebd" fill-opacity="0.9"/><rect x="986.2" y="1771.1" width="1.2" height="21.2" fill="#3a7ebd" fill-opacity="0.9"/><rect x="991.7" y="1771.1" width="1.2" height="21.2" fill="#3a7ebd" fill-opacity="0.9"/><rect x="993.7" y="1771.1" width="1.2" height="21.2" fill="#3a7ebd" fill-opacity="1.0"/><rect x="999.2" y="1771.1" width="1.2" height="21.2" fill="#3a7ebd" fill-opacity="1.0"/><rect x="1006.2" y="1771.1" width="1.2" height="21.2" fill="#3a7ebd" fill-opacity="1.0"/><rect x="1013.2" y="1771.1" width="1.2" height="21.2" fill="#3a7ebd" fill-opacity="0.5"/><rect x="1012" y="1771.1" width="4" height="21.2" fill="#3a7ebd"/><path d="M957,1776.7 L962,1781.7 L957,1786.7" stroke="#3a7ebd" stroke-width="1.3" fill="none"/><path d="M967.6,1776.7 L972.6,1781.7 L967.6,1786.7" stroke="#3a7ebd" stroke-width="1.3" fill="none"/><path d="M978.2,1776.7 L983.2,1781.7 L978.2,1786.7" stroke="#3a7ebd" stroke-width="1.3" fill="none"/><path d="M988.8,1776.7 L993.8,1781.7 L988.8,1786.7" stroke="#3a7ebd" stroke-width="1.3" fill="none"/><path d="M999.4,1776.7 L1004.4,1781.7 L999.4,1786.7" stroke="#3a7ebd" stroke-width="1.3" fill="none"/>
<text x="950" y="1810.3" text-anchor="end" stroke="#3a7ebd" stroke-width="0.3">SUV420H1</text>
<line x1="957" y1="1803.9" x2="1005.2" y2="1803.9" stroke="#3a7ebd" stroke-width="1.3"/><rect x="957" y="1793.3" width="1.3" height="21.2" fill="#3a7ebd"/><rect x="1003.9" y="1793.3" width="1.3" height="21.2" fill="#3a7ebd"/><rect x="958.5" y="1793.3" width="1.2" height="21.2" fill="#3a7ebd" fill-opacity="0.35"/><rect x="960.5" y="1793.3" width="1.2" height="21.2" fill="#3a7ebd" fill-opacity="0.5"/><rect x="967.5" y="1793.3" width="1.2" height="21.2" fill="#3a7ebd" fill-opacity="0.6"/><rect x="969.5" y="1793.3" width="1.2" height="21.2" fill="#3a7ebd" fill-opacity="0.75"/><rect x="973.5" y="1793.3" width="1.2" height="21.2" fill="#3a7ebd" fill-opacity="0.9"/><rect x="975.5" y="1793.3" width="1.2" height="21.2" fill="#3a7ebd" fill-opacity="1.0"/><rect x="977.5" y="1793.3" width="1.2" height="21.2" fill="#3a7ebd" fill-opacity="1.0"/><rect x="983" y="1793.3" width="1.2" height="21.2" fill="#3a7ebd" fill-opacity="1.0"/><rect x="985.5" y="1793.3" width="1.2" height="21.2" fill="#3a7ebd" fill-opacity="0.75"/><rect x="988.5" y="1793.3" width="1.2" height="21.2" fill="#3a7ebd" fill-opacity="0.35"/><rect x="992.5" y="1793.3" width="1.2" height="21.2" fill="#3a7ebd" fill-opacity="0.35"/><rect x="999.5" y="1793.3" width="1.2" height="21.2" fill="#3a7ebd" fill-opacity="0.9"/><path d="M959.5,1798.9 L964.5,1803.9 L959.5,1808.9" stroke="#3a7ebd" stroke-width="1.3" fill="none"/><path d="M970.1,1798.9 L975.1,1803.9 L970.1,1808.9" stroke="#3a7ebd" stroke-width="1.3" fill="none"/><path d="M980.7,1798.9 L985.7,1803.9 L980.7,1808.9" stroke="#3a7ebd" stroke-width="1.3" fill="none"/><path d="M991.3,1798.9 L996.3,1803.9 L991.3,1808.9" stroke="#3a7ebd" stroke-width="1.3" fill="none"/>
<text x="950" y="1832.5" text-anchor="end" stroke="#3a7ebd" stroke-width="0.3">SUV420H1</text>
<line x1="957" y1="1826.1" x2="1016" y2="1826.1" stroke="#3a7ebd" stroke-width="1.3"/><rect x="957" y="1815.5" width="1.3" height="21.2" fill="#3a7ebd"/><rect x="1014.7" y="1815.5" width="1.3" height="21.2" fill="#3a7ebd"/><rect x="958.5" y="1815.5" width="1.2" height="21.2" fill="#3a7ebd" fill-opacity="0.35"/><rect x="965.5" y="1815.5" width="1.2" height="21.2" fill="#3a7ebd" fill-opacity="0.9"/><rect x="967.5" y="1815.5" width="1.2" height="21.2" fill="#3a7ebd" fill-opacity="1.0"/><rect x="974.5" y="1815.5" width="1.2" height="21.2" fill="#3a7ebd" fill-opacity="0.75"/><rect x="977.5" y="1815.5" width="1.2" height="21.2" fill="#3a7ebd" fill-opacity="0.35"/><rect x="980.5" y="1815.5" width="1.2" height="21.2" fill="#3a7ebd" fill-opacity="0.5"/><rect x="987.5" y="1815.5" width="1.2" height="21.2" fill="#3a7ebd" fill-opacity="0.5"/><rect x="990" y="1815.5" width="1.2" height="21.2" fill="#3a7ebd" fill-opacity="1.0"/><rect x="997" y="1815.5" width="1.2" height="21.2" fill="#3a7ebd" fill-opacity="0.75"/><rect x="1001" y="1815.5" width="1.2" height="21.2" fill="#3a7ebd" fill-opacity="0.75"/><rect x="1003" y="1815.5" width="1.2" height="21.2" fill="#3a7ebd" fill-opacity="0.75"/><rect x="1010" y="1815.5" width="1.2" height="21.2" fill="#3a7ebd" fill-opacity="0.6"/><rect x="1012" y="1815.5" width="1.2" height="21.2" fill="#3a7ebd" fill-opacity="0.9"/><rect x="1012" y="1815.5" width="4" height="21.2" fill="#3a7ebd"/><path d="M959.5,1821.1 L964.5,1826.1 L959.5,1831.1" stroke="#3a7ebd" stroke-width="1.3" fill="none"/><path d="M970.1,1821.1 L975.1,1826.1 L970.1,1831.1" stroke="#3a7ebd" stroke-width="1.3" fill="none"/><path d="M980.7,1821.1 L985.7,1826.1 L980.7,1831.1" stroke="#3a7ebd" stroke-width="1.3" fill="none"/><path d="M991.3,1821.1 L996.3,1826.1 L991.3,1831.1" stroke="#3a7ebd" stroke-width="1.3" fill="none"/><path d="M1001.9,1821.1 L1006.9,1826.1 L1001.9,1831.1" stroke="#3a7ebd" stroke-width="1.3" fill="none"/>
<text x="950" y="1854.7" text-anchor="end" stroke="#3a7ebd" stroke-width="0.3">SUV420H1</text>
<line x1="957" y1="1848.3" x2="1016" y2="1848.3" stroke="#3a7ebd" stroke-width="1.3"/><rect x="957" y="1837.7" width="1.3" height="21.2" fill="#3a7ebd"/><rect x="1014.7" y="1837.7" width="1.3" height="21.2" fill="#3a7ebd"/><rect x="958.5" y="1837.7" width="1.2" height="21.2" fill="#3a7ebd" fill-opacity="1.0"/><rect x="961" y="1837.7" width="1.2" height="21.2" fill="#3a7ebd" fill-opacity="0.35"/><rect x="966.5" y="1837.7" width="1.2" height="21.2" fill="#3a7ebd" fill-opacity="0.5"/><rect x="969.5" y="1837.7" width="1.2" height="21.2" fill="#3a7ebd" fill-opacity="0.6"/><rect x="976.5" y="1837.7" width="1.2" height="21.2" fill="#3a7ebd" fill-opacity="1.0"/><rect x="983.5" y="1837.7" width="1.2" height="21.2" fill="#3a7ebd" fill-opacity="0.6"/><rect x="989" y="1837.7" width="1.2" height="21.2" fill="#3a7ebd" fill-opacity="0.9"/><rect x="991.5" y="1837.7" width="1.2" height="21.2" fill="#3a7ebd" fill-opacity="0.35"/><rect x="995.5" y="1837.7" width="1.2" height="21.2" fill="#3a7ebd" fill-opacity="0.35"/><rect x="999.5" y="1837.7" width="1.2" height="21.2" fill="#3a7ebd" fill-opacity="0.6"/><rect x="1006.5" y="1837.7" width="1.2" height="21.2" fill="#3a7ebd" fill-opacity="0.35"/><rect x="1013.5" y="1837.7" width="1.2" height="21.2" fill="#3a7ebd" fill-opacity="0.5"/><rect x="1012" y="1837.7" width="4" height="21.2" fill="#3a7ebd"/><path d="M959.5,1843.3 L964.5,1848.3 L959.5,1853.3" stroke="#3a7ebd" stroke-width="1.3" fill="none"/><path d="M970.1,1843.3 L975.1,1848.3 L970.1,1853.3" stroke="#3a7ebd" stroke-width="1.3" fill="none"/><path d="M980.7,1843.3 L985.7,1848.3 L980.7,1853.3" stroke="#3a7ebd" stroke-width="1.3" fill="none"/><path d="M991.3,1843.3 L996.3,1848.3 L991.3,1853.3" stroke="#3a7ebd" stroke-width="1.3" fill="none"/><path d="M1001.9,1843.3 L1006.9,1848.3 L1001.9,1853.3" stroke="#3a7ebd" stroke-width="1.3" fill="none"/>
<text x="950" y="1876.8" text-anchor="end" stroke="#3a7ebd" stroke-width="0.3">SUV420H1</text>
<line x1="957" y1="1870.4" x2="1016" y2="1870.4" stroke="#3a7ebd" stroke-width="1.3"/><rect x="957" y="1859.8" width="1.3" height="21.2" fill="#3a7ebd"/><rect x="1014.7" y="1859.8" width="1.3" height="21.2" fill="#3a7ebd"/><rect x="958.5" y="1859.8" width="1.2" height="21.2" fill="#3a7ebd" fill-opacity="0.75"/><rect x="961.5" y="1859.8" width="1.2" height="21.2" fill="#3a7ebd" fill-opacity="1.0"/><rect x="967" y="1859.8" width="1.2" height="21.2" fill="#3a7ebd" fill-opacity="0.6"/><rect x="971" y="1859.8" width="1.2" height="21.2" fill="#3a7ebd" fill-opacity="0.75"/><rect x="975" y="1859.8" width="1.2" height="21.2" fill="#3a7ebd" fill-opacity="0.35"/><rect x="980.5" y="1859.8" width="1.2" height="21.2" fill="#3a7ebd" fill-opacity="0.5"/><rect x="983.5" y="1859.8" width="1.2" height="21.2" fill="#3a7ebd" fill-opacity="0.35"/><rect x="987.5" y="1859.8" width="1.2" height="21.2" fill="#3a7ebd" fill-opacity="0.35"/><rect x="990.5" y="1859.8" width="1.2" height="21.2" fill="#3a7ebd" fill-opacity="0.75"/><rect x="992.5" y="1859.8" width="1.2" height="21.2" fill="#3a7ebd" fill-opacity="0.9"/><rect x="996.5" y="1859.8" width="1.2" height="21.2" fill="#3a7ebd" fill-opacity="0.6"/><rect x="1000.5" y="1859.8" width="1.2" height="21.2" fill="#3a7ebd" fill-opacity="0.5"/><rect x="1003" y="1859.8" width="1.2" height="21.2" fill="#3a7ebd" fill-opacity="0.35"/><rect x="1008.5" y="1859.8" width="1.2" height="21.2" fill="#3a7ebd" fill-opacity="0.35"/><rect x="1011" y="1859.8" width="1.2" height="21.2" fill="#3a7ebd" fill-opacity="1.0"/><rect x="1012" y="1859.8" width="4" height="21.2" fill="#3a7ebd"/><path d="M959.5,1865.4 L964.5,1870.4 L959.5,1875.4" stroke="#3a7ebd" stroke-width="1.3" fill="none"/><path d="M970.1,1865.4 L975.1,1870.4 L970.1,1875.4" stroke="#3a7ebd" stroke-width="1.3" fill="none"/><path d="M980.7,1865.4 L985.7,1870.4 L980.7,1875.4" stroke="#3a7ebd" stroke-width="1.3" fill="none"/><path d="M991.3,1865.4 L996.3,1870.4 L991.3,1875.4" stroke="#3a7ebd" stroke-width="1.3" fill="none"/><path d="M1001.9,1865.4 L1006.9,1870.4 L1001.9,1875.4" stroke="#3a7ebd" stroke-width="1.3" fill="none"/>
<text x="1110.7" y="1788.1" text-anchor="end" stroke="#3a7ebd" stroke-width="0.3">TCIRG1</text>
<line x1="1117" y1="1781.7" x2="1127" y2="1781.7" stroke="#3a7ebd" stroke-width="1.3"/><rect x="1117" y="1771.1" width="1.3" height="21.2" fill="#3a7ebd"/><rect x="1125.7" y="1771.1" width="1.3" height="21.2" fill="#3a7ebd"/><rect x="1118.5" y="1771.1" width="1.2" height="21.2" fill="#3a7ebd" fill-opacity="0.6"/><rect x="1121.5" y="1771.1" width="1.2" height="21.2" fill="#3a7ebd" fill-opacity="0.5"/><rect x="1117" y="1771.1" width="4" height="21.2" fill="#3a7ebd"/>
<text x="1110.7" y="1810.3" text-anchor="end" stroke="#3a7ebd" stroke-width="0.3">TCIRG1</text>
<line x1="1117" y1="1803.9" x2="1127" y2="1803.9" stroke="#3a7ebd" stroke-width="1.3"/><rect x="1117" y="1793.3" width="1.3" height="21.2" fill="#3a7ebd"/><rect x="1125.7" y="1793.3" width="1.3" height="21.2" fill="#3a7ebd"/><rect x="1118.5" y="1793.3" width="1.2" height="21.2" fill="#3a7ebd" fill-opacity="1.0"/><rect x="1124" y="1793.3" width="1.2" height="21.2" fill="#3a7ebd" fill-opacity="0.6"/><rect x="1117" y="1793.3" width="4" height="21.2" fill="#3a7ebd"/>
<text x="1110.7" y="1832.5" text-anchor="end" stroke="#3a7ebd" stroke-width="0.3">TCIRG1</text>
<line x1="1117" y1="1826.1" x2="1127" y2="1826.1" stroke="#3a7ebd" stroke-width="1.3"/><rect x="1117" y="1815.5" width="1.3" height="21.2" fill="#3a7ebd"/><rect x="1125.7" y="1815.5" width="1.3" height="21.2" fill="#3a7ebd"/><rect x="1118.5" y="1815.5" width="1.2" height="21.2" fill="#3a7ebd" fill-opacity="1.0"/><rect x="1121.5" y="1815.5" width="1.2" height="21.2" fill="#3a7ebd" fill-opacity="0.5"/><rect x="1125.5" y="1815.5" width="1.2" height="21.2" fill="#3a7ebd" fill-opacity="0.75"/><rect x="1117" y="1815.5" width="4" height="21.2" fill="#3a7ebd"/>
<text x="1110.7" y="1854.7" text-anchor="end" stroke="#3a7ebd" stroke-width="0.3">TCIRG1</text>
<line x1="1117" y1="1848.3" x2="1127" y2="1848.3" stroke="#3a7ebd" stroke-width="1.3"/><rect x="1117" y="1837.7" width="1.3" height="21.2" fill="#3a7ebd"/><rect x="1125.7" y="1837.7" width="1.3" height="21.2" fill="#3a7ebd"/><rect x="1118.5" y="1837.7" width="1.2" height="21.2" fill="#3a7ebd" fill-opacity="0.35"/><rect x="1121" y="1837.7" width="1.2" height="21.2" fill="#3a7ebd" fill-opacity="0.35"/><rect x="1125" y="1837.7" width="1.2" height="21.2" fill="#3a7ebd" fill-opacity="1.0"/><rect x="1117" y="1837.7" width="4" height="21.2" fill="#3a7ebd"/>
<text x="1114.6" y="1876.8" text-anchor="end" stroke="#3a7ebd" stroke-width="0.3">TCIRG1</text>
<line x1="1121" y1="1870.4" x2="1126" y2="1870.4" stroke="#3a7ebd" stroke-width="1.3"/><rect x="1121" y="1859.8" width="1.3" height="21.2" fill="#3a7ebd"/><rect x="1124.7" y="1859.8" width="1.3" height="21.2" fill="#3a7ebd"/><rect x="1122.5" y="1859.8" width="1.2" height="21.2" fill="#3a7ebd" fill-opacity="0.75"/><rect x="1121" y="1859.8" width="2" height="21.2" fill="#3a7ebd"/>
<text x="1216" y="1788.1" text-anchor="end" stroke="#3a7ebd" stroke-width="0.3">NDUFV1</text>
<line x1="1222.7" y1="1781.7" x2="1230.5" y2="1781.7" stroke="#3a7ebd" stroke-width="1.3"/><rect x="1222.7" y="1771.1" width="1.3" height="21.2" fill="#3a7ebd"/><rect x="1229.2" y="1771.1" width="1.3" height="21.2" fill="#3a7ebd"/><rect x="1224.2" y="1771.1" width="1.2" height="21.2" fill="#3a7ebd" fill-opacity="1.0"/><rect x="1226.7" y="1771.1" width="1.2" height="21.2" fill="#3a7ebd" fill-opacity="0.75"/><rect x="1222.7" y="1771.1" width="5.3" height="21.2" fill="#3a7ebd"/>
<text x="1220.8" y="1810.3" text-anchor="end" stroke="#3a7ebd" stroke-width="0.3">NDUFV1</text>
<line x1="1226.6" y1="1803.9" x2="1230.5" y2="1803.9" stroke="#3a7ebd" stroke-width="1.3"/><rect x="1226.6" y="1793.3" width="1.3" height="21.2" fill="#3a7ebd"/><rect x="1229.2" y="1793.3" width="1.3" height="21.2" fill="#3a7ebd"/>
<text x="1333" y="1788.1" text-anchor="end" stroke="#3a7ebd" stroke-width="0.3">AIP</text>
<line x1="1338.6" y1="1781.7" x2="1345" y2="1781.7" stroke="#3a7ebd" stroke-width="1.3"/><rect x="1338.6" y="1771.1" width="1.3" height="21.2" fill="#3a7ebd"/><rect x="1343.7" y="1771.1" width="1.3" height="21.2" fill="#3a7ebd"/><rect x="1340.1" y="1771.1" width="1.2" height="21.2" fill="#3a7ebd" fill-opacity="0.75"/><rect x="1343.1" y="1771.1" width="1.2" height="21.2" fill="#3a7ebd" fill-opacity="0.35"/><rect x="1338.6" y="1771.1" width="2.4" height="21.2" fill="#3a7ebd"/>
<text x="1333" y="1810.3" text-anchor="end" stroke="#3a7ebd" stroke-width="0.3">AIP</text>
<line x1="1338.6" y1="1803.9" x2="1345" y2="1803.9" stroke="#3a7ebd" stroke-width="1.3"/><rect x="1338.6" y="1793.3" width="1.3" height="21.2" fill="#3a7ebd"/><rect x="1343.7" y="1793.3" width="1.3" height="21.2" fill="#3a7ebd"/><rect x="1340.1" y="1793.3" width="1.2" height="21.2" fill="#3a7ebd" fill-opacity="0.35"/><rect x="1343.1" y="1793.3" width="1.2" height="21.2" fill="#3a7ebd" fill-opacity="0.6"/><rect x="1338.6" y="1793.3" width="2.4" height="21.2" fill="#3a7ebd"/>
<text x="1242.2" y="1832.5" text-anchor="end" stroke="#3a7ebd" stroke-width="0.3">GSTP1</text>
<line x1="1248.7" y1="1826.1" x2="1252.6" y2="1826.1" stroke="#3a7ebd" stroke-width="1.3"/><rect x="1248.7" y="1815.5" width="1.3" height="21.2" fill="#3a7ebd"/><rect x="1251.3" y="1815.5" width="1.3" height="21.2" fill="#3a7ebd"/><rect x="1248.7" y="1815.5" width="3.9" height="21.2" fill="#3a7ebd"/>
<text x="1242.2" y="1854.7" text-anchor="end" stroke="#3a7ebd" stroke-width="0.3">GSTP1</text>
<line x1="1248.7" y1="1848.3" x2="1252.6" y2="1848.3" stroke="#3a7ebd" stroke-width="1.3"/><rect x="1248.7" y="1837.7" width="1.3" height="21.2" fill="#3a7ebd"/><rect x="1251.3" y="1837.7" width="1.3" height="21.2" fill="#3a7ebd"/><rect x="1248.7" y="1837.7" width="3.9" height="21.2" fill="#3a7ebd"/>
<text x="1242.2" y="1876.8" text-anchor="end" stroke="#3a7ebd" stroke-width="0.3">GSTP1</text>
<line x1="1248.7" y1="1870.4" x2="1252.6" y2="1870.4" stroke="#3a7ebd" stroke-width="1.3"/><rect x="1248.7" y="1859.8" width="1.3" height="21.2" fill="#3a7ebd"/><rect x="1251.3" y="1859.8" width="1.3" height="21.2" fill="#3a7ebd"/><rect x="1248.7" y="1859.8" width="3.9" height="21.2" fill="#3a7ebd"/>
<text x="258.6" y="1899" text-anchor="end" stroke="#3a7ebd" stroke-width="0.3">MTL5</text>
<line x1="264.3" y1="1892.6" x2="512" y2="1892.6" stroke="#3a7ebd" stroke-width="1.3"/><rect x="264.3" y="1882" width="1.3" height="21.2" fill="#3a7ebd"/><rect x="510.7" y="1882" width="1.3" height="21.2" fill="#3a7ebd"/><rect x="453.5" y="1882" width="1.2" height="21.2" fill="#3a7ebd" fill-opacity="0.35"/><rect x="456" y="1882" width="1.2" height="21.2" fill="#3a7ebd" fill-opacity="1.0"/><rect x="458" y="1882" width="1.2" height="21.2" fill="#3a7ebd" fill-opacity="1.0"/><rect x="461" y="1882" width="1.2" height="21.2" fill="#3a7ebd" fill-opacity="0.6"/><rect x="464" y="1882" width="1.2" height="21.2" fill="#3a7ebd" fill-opacity="0.35"/><rect x="468" y="1882" width="1.2" height="21.2" fill="#3a7ebd" fill-opacity="0.75"/><rect x="473.5" y="1882" width="1.2" height="21.2" fill="#3a7ebd" fill-opacity="0.35"/><rect x="476.5" y="1882" width="1.2" height="21.2" fill="#3a7ebd" fill-opacity="0.75"/><rect x="479.5" y="1882" width="1.2" height="21.2" fill="#3a7ebd" fill-opacity="0.35"/><rect x="482.5" y="1882" width="1.2" height="21.2" fill="#3a7ebd" fill-opacity="0.35"/><rect x="484.5" y="1882" width="1.2" height="21.2" fill="#3a7ebd" fill-opacity="1.0"/><rect x="487.5" y="1882" width="1.2" height="21.2" fill="#3a7ebd" fill-opacity="1.0"/><rect x="490" y="1882" width="1.2" height="21.2" fill="#3a7ebd" fill-opacity="0.5"/><rect x="493" y="1882" width="1.2" height="21.2" fill="#3a7ebd" fill-opacity="0.75"/><rect x="498.5" y="1882" width="1.2" height="21.2" fill="#3a7ebd" fill-opacity="0.6"/><rect x="501" y="1882" width="1.2" height="21.2" fill="#3a7ebd" fill-opacity="0.6"/><rect x="505" y="1882" width="1.2" height="21.2" fill="#3a7ebd" fill-opacity="0.35"/><rect x="305.6" y="1882" width="1.1" height="21.2" fill="#3a7ebd" fill-opacity="0.7"/><rect x="346.9" y="1882" width="1.1" height="21.2" fill="#3a7ebd" fill-opacity="0.7"/><rect x="388.1" y="1882" width="1.1" height="21.2" fill="#3a7ebd" fill-opacity="0.7"/><rect x="429.4" y="1882" width="1.1" height="21.2" fill="#3a7ebd" fill-opacity="0.7"/><path d="M266.8,1887.6 L271.8,1892.6 L266.8,1897.6" stroke="#3a7ebd" stroke-width="1.3" fill="none"/><path d="M277.4,1887.6 L282.4,1892.6 L277.4,1897.6" stroke="#3a7ebd" stroke-width="1.3" fill="none"/><path d="M288,1887.6 L293,1892.6 L288,1897.6" stroke="#3a7ebd" stroke-width="1.3" fill="none"/><path d="M298.6,1887.6 L303.6,1892.6 L298.6,1897.6" stroke="#3a7ebd" stroke-width="1.3" fill="none"/><path d="M309.2,1887.6 L314.2,1892.6 L309.2,1897.6" stroke="#3a7ebd" stroke-width="1.3" fill="none"/><path d="M319.8,1887.6 L324.8,1892.6 L319.8,1897.6" stroke="#3a7ebd" stroke-width="1.3" fill="none"/><path d="M330.4,1887.6 L335.4,1892.6 L330.4,1897.6" stroke="#3a7ebd" stroke-width="1.3" fill="none"/><path d="M341,1887.6 L346,1892.6 L341,1897.6" stroke="#3a7ebd" stroke-width="1.3" fill="none"/><path d="M351.6,1887.6 L356.6,1892.6 L351.6,1897.6" stroke="#3a7ebd" stroke-width="1.3" fill="none"/><path d="M362.2,1887.6 L367.2,1892.6 L362.2,1897.6" stroke="#3a7ebd" stroke-width="1.3" fill="none"/><path d="M372.8,1887.6 L377.8,1892.6 L372.8,1897.6" stroke="#3a7ebd" stroke-width="1.3" fill="none"/><path d="M383.4,1887.6 L388.4,1892.6 L383.4,1897.6" stroke="#3a7ebd" stroke-width="1.3" fill="none"/><path d="M394,1887.6 L399,1892.6 L394,1897.6" stroke="#3a7ebd" stroke-width="1.3" fill="none"/><path d="M404.6,1887.6 L409.6,1892.6 L404.6,1897.6" stroke="#3a7ebd" stroke-width="1.3" fill="none"/><path d="M415.2,1887.6 L420.2,1892.6 L415.2,1897.6" stroke="#3a7ebd" stroke-width="1.3" fill="none"/><path d="M425.8,1887.6 L430.8,1892.6 L425.8,1897.6" stroke="#3a7ebd" stroke-width="1.3" fill="none"/><path d="M436.4,1887.6 L441.4,1892.6 L436.4,1897.6" stroke="#3a7ebd" stroke-width="1.3" fill="none"/><path d="M447,1887.6 L452,1892.6 L447,1897.6" stroke="#3a7ebd" stroke-width="1.3" fill="none"/><path d="M457.6,1887.6 L462.6,1892.6 L457.6,1897.6" stroke="#3a7ebd" stroke-width="1.3" fill="none"/><path d="M468.2,1887.6 L473.2,1892.6 L468.2,1897.6" stroke="#3a7ebd" stroke-width="1.3" fill="none"/><path d="M478.8,1887.6 L483.8,1892.6 L478.8,1897.6" stroke="#3a7ebd" stroke-width="1.3" fill="none"/><path d="M489.4,1887.6 L494.4,1892.6 L489.4,1897.6" stroke="#3a7ebd" stroke-width="1.3" fill="none"/><path d="M500,1887.6 L505,1892.6 L500,1897.6" stroke="#3a7ebd" stroke-width="1.3" fill="none"/>
<text x="258.6" y="1921.2" text-anchor="end" stroke="#3a7ebd" stroke-width="0.3">MTL5</text>
<line x1="264.3" y1="1914.8" x2="512" y2="1914.8" stroke="#3a7ebd" stroke-width="1.3"/><rect x="264.3" y="1904.2" width="1.3" height="21.2" fill="#3a7ebd"/><rect x="510.7" y="1904.2" width="1.3" height="21.2" fill="#3a7ebd"/><rect x="453.5" y="1904.2" width="1.2" height="21.2" fill="#3a7ebd" fill-opacity="0.75"/><rect x="459" y="1904.2" width="1.2" height="21.2" fill="#3a7ebd" fill-opacity="0.9"/><rect x="461.5" y="1904.2" width="1.2" height="21.2" fill="#3a7ebd" fill-opacity="1.0"/><rect x="463.5" y="1904.2" width="1.2" height="21.2" fill="#3a7ebd" fill-opacity="0.35"/><rect x="470.5" y="1904.2" width="1.2" height="21.2" fill="#3a7ebd" fill-opacity="0.75"/><rect x="474.5" y="1904.2" width="1.2" height="21.2" fill="#3a7ebd" fill-opacity="0.9"/><rect x="477" y="1904.2" width="1.2" height="21.2" fill="#3a7ebd" fill-opacity="1.0"/><rect x="480" y="1904.2" width="1.2" height="21.2" fill="#3a7ebd" fill-opacity="0.75"/><rect x="482" y="1904.2" width="1.2" height="21.2" fill="#3a7ebd" fill-opacity="0.9"/><rect x="484.5" y="1904.2" width="1.2" height="21.2" fill="#3a7ebd" fill-opacity="0.5"/><rect x="488.5" y="1904.2" width="1.2" height="21.2" fill="#3a7ebd" fill-opacity="0.75"/><rect x="491.5" y="1904.2" width="1.2" height="21.2" fill="#3a7ebd" fill-opacity="0.6"/><rect x="494.5" y="1904.2" width="1.2" height="21.2" fill="#3a7ebd" fill-opacity="0.6"/><rect x="501.5" y="1904.2" width="1.2" height="21.2" fill="#3a7ebd" fill-opacity="1.0"/><rect x="508.5" y="1904.2" width="1.2" height="21.2" fill="#3a7ebd" fill-opacity="0.6"/><rect x="305.6" y="1904.2" width="1.1" height="21.2" fill="#3a7ebd" fill-opacity="0.7"/><rect x="346.9" y="1904.2" width="1.1" height="21.2" fill="#3a7ebd" fill-opacity="0.7"/><rect x="388.1" y="1904.2" width="1.1" height="21.2" fill="#3a7ebd" fill-opacity="0.7"/><rect x="429.4" y="1904.2" width="1.1" height="21.2" fill="#3a7ebd" fill-opacity="0.7"/><path d="M266.8,1909.8 L271.8,1914.8 L266.8,1919.8" stroke="#3a7ebd" stroke-width="1.3" fill="none"/><path d="M277.4,1909.8 L282.4,1914.8 L277.4,1919.8" stroke="#3a7ebd" stroke-width="1.3" fill="none"/><path d="M288,1909.8 L293,1914.8 L288,1919.8" stroke="#3a7ebd" stroke-width="1.3" fill="none"/><path d="M298.6,1909.8 L303.6,1914.8 L298.6,1919.8" stroke="#3a7ebd" stroke-width="1.3" fill="none"/><path d="M309.2,1909.8 L314.2,1914.8 L309.2,1919.8" stroke="#3a7ebd" stroke-width="1.3" fill="none"/><path d="M319.8,1909.8 L324.8,1914.8 L319.8,1919.8" stroke="#3a7ebd" stroke-width="1.3" fill="none"/><path d="M330.4,1909.8 L335.4,1914.8 L330.4,1919.8" stroke="#3a7ebd" stroke-width="1.3" fill="none"/><path d="M341,1909.8 L346,1914.8 L341,1919.8" stroke="#3a7ebd" stroke-width="1.3" fill="none"/><path d="M351.6,1909.8 L356.6,1914.8 L351.6,1919.8" stroke="#3a7ebd" stroke-width="1.3" fill="none"/><path d="M362.2,1909.8 L367.2,1914.8 L362.2,1919.8" stroke="#3a7ebd" stroke-width="1.3" fill="none"/><path d="M372.8,1909.8 L377.8,1914.8 L372.8,1919.8" stroke="#3a7ebd" stroke-width="1.3" fill="none"/><path d="M383.4,1909.8 L388.4,1914.8 L383.4,1919.8" stroke="#3a7ebd" stroke-width="1.3" fill="none"/><path d="M394,1909.8 L399,1914.8 L394,1919.8" stroke="#3a7ebd" stroke-width="1.3" fill="none"/><path d="M404.6,1909.8 L409.6,1914.8 L404.6,1919.8" stroke="#3a7ebd" stroke-width="1.3" fill="none"/><path d="M415.2,1909.8 L420.2,1914.8 L415.2,1919.8" stroke="#3a7ebd" stroke-width="1.3" fill="none"/><path d="M425.8,1909.8 L430.8,1914.8 L425.8,1919.8" stroke="#3a7ebd" stroke-width="1.3" fill="none"/><path d="M436.4,1909.8 L441.4,1914.8 L436.4,1919.8" stroke="#3a7ebd" stroke-width="1.3" fill="none"/><path d="M447,1909.8 L452,1914.8 L447,1919.8" stroke="#3a7ebd" stroke-width="1.3" fill="none"/><path d="M457.6,1909.8 L462.6,1914.8 L457.6,1919.8" stroke="#3a7ebd" stroke-width="1.3" fill="none"/><path d="M468.2,1909.8 L473.2,1914.8 L468.2,1919.8" stroke="#3a7ebd" stroke-width="1.3" fill="none"/><path d="M478.8,1909.8 L483.8,1914.8 L478.8,1919.8" stroke="#3a7ebd" stroke-width="1.3" fill="none"/><path d="M489.4,1909.8 L494.4,1914.8 L489.4,1919.8" stroke="#3a7ebd" stroke-width="1.3" fill="none"/><path d="M500,1909.8 L505,1914.8 L500,1919.8" stroke="#3a7ebd" stroke-width="1.3" fill="none"/>
<text x="258.6" y="1943.4" text-anchor="end" stroke="#3a7ebd" stroke-width="0.3">MTL5</text>
<line x1="264.3" y1="1937" x2="512" y2="1937" stroke="#3a7ebd" stroke-width="1.3"/><rect x="264.3" y="1926.4" width="1.3" height="21.2" fill="#3a7ebd"/><rect x="510.7" y="1926.4" width="1.3" height="21.2" fill="#3a7ebd"/><rect x="453.5" y="1926.4" width="1.2" height="21.2" fill="#3a7ebd" fill-opacity="1.0"/><rect x="456" y="1926.4" width="1.2" height="21.2" fill="#3a7ebd" fill-opacity="0.6"/><rect x="460" y="1926.4" width="1.2" height="21.2" fill="#3a7ebd" fill-opacity="0.9"/><rect x="467" y="1926.4" width="1.2" height="21.2" fill="#3a7ebd" fill-opacity="0.75"/><rect x="469" y="1926.4" width="1.2" height="21.2" fill="#3a7ebd" fill-opacity="0.5"/><rect x="476" y="1926.4" width="1.2" height="21.2" fill="#3a7ebd" fill-opacity="0.5"/><rect x="478" y="1926.4" width="1.2" height="21.2" fill="#3a7ebd" fill-opacity="0.5"/><rect x="483.5" y="1926.4" width="1.2" height="21.2" fill="#3a7ebd" fill-opacity="0.75"/><rect x="489" y="1926.4" width="1.2" height="21.2" fill="#3a7ebd" fill-opacity="0.5"/><rect x="493" y="1926.4" width="1.2" height="21.2" fill="#3a7ebd" fill-opacity="0.6"/><rect x="497" y="1926.4" width="1.2" height="21.2" fill="#3a7ebd" fill-opacity="0.75"/><rect x="499.5" y="1926.4" width="1.2" height="21.2" fill="#3a7ebd" fill-opacity="0.9"/><rect x="502" y="1926.4" width="1.2" height="21.2" fill="#3a7ebd" fill-opacity="0.5"/><rect x="504" y="1926.4" width="1.2" height="21.2" fill="#3a7ebd" fill-opacity="0.5"/><rect x="507" y="1926.4" width="1.2" height="21.2" fill="#3a7ebd" fill-opacity="0.9"/><rect x="509" y="1926.4" width="1.2" height="21.2" fill="#3a7ebd" fill-opacity="0.6"/><rect x="305.6" y="1926.4" width="1.1" height="21.2" fill="#3a7ebd" fill-opacity="0.7"/><rect x="346.9" y="1926.4" width="1.1" height="21.2" fill="#3a7ebd" fill-opacity="0.7"/><rect x="388.1" y="1926.4" width="1.1" height="21.2" fill="#3a7ebd" fill-opacity="0.7"/><rect x="429.4" y="1926.4" width="1.1" height="21.2" fill="#3a7ebd" fill-opacity="0.7"/><path d="M266.8,1932 L271.8,1937 L266.8,1942" stroke="#3a7ebd" stroke-width="1.3" fill="none"/><path d="M277.4,1932 L282.4,1937 L277.4,1942" stroke="#3a7ebd" stroke-width="1.3" fill="none"/><path d="M288,1932 L293,1937 L288,1942" stroke="#3a7ebd" stroke-width="1.3" fill="none"/><path d="M298.6,1932 L303.6,1937 L298.6,1942" stroke="#3a7ebd" stroke-width="1.3" fill="none"/><path d="M309.2,1932 L314.2,1937 L309.2,1942" stroke="#3a7ebd" stroke-width="1.3" fill="none"/><path d="M319.8,1932 L324.8,1937 L319.8,1942" stroke="#3a7ebd" stroke-width="1.3" fill="none"/><path d="M330.4,1932 L335.4,1937 L330.4,1942" stroke="#3a7ebd" stroke-width="1.3" fill="none"/><path d="M341,1932 L346,1937 L341,1942" stroke="#3a7ebd" stroke-width="1.3" fill="none"/><path d="M351.6,1932 L356.6,1937 L351.6,1942" stroke="#3a7ebd" stroke-width="1.3" fill="none"/><path d="M362.2,1932 L367.2,1937 L362.2,1942" stroke="#3a7ebd" stroke-width="1.3" fill="none"/><path d="M372.8,1932 L377.8,1937 L372.8,1942" stroke="#3a7ebd" stroke-width="1.3" fill="none"/><path d="M383.4,1932 L388.4,1937 L383.4,1942" stroke="#3a7ebd" stroke-width="1.3" fill="none"/><path d="M394,1932 L399,1937 L394,1942" stroke="#3a7ebd" stroke-width="1.3" fill="none"/><path d="M404.6,1932 L409.6,1937 L404.6,1942" stroke="#3a7ebd" stroke-width="1.3" fill="none"/><path d="M415.2,1932 L420.2,1937 L415.2,1942" stroke="#3a7ebd" stroke-width="1.3" fill="none"/><path d="M425.8,1932 L430.8,1937 L425.8,1942" stroke="#3a7ebd" stroke-width="1.3" fill="none"/><path d="M436.4,1932 L441.4,1937 L436.4,1942" stroke="#3a7ebd" stroke-width="1.3" fill="none"/><path d="M447,1932 L452,1937 L447,1942" stroke="#3a7ebd" stroke-width="1.3" fill="none"/><path d="M457.6,1932 L462.6,1937 L457.6,1942" stroke="#3a7ebd" stroke-width="1.3" fill="none"/><path d="M468.2,1932 L473.2,1937 L468.2,1942" stroke="#3a7ebd" stroke-width="1.3" fill="none"/><path d="M478.8,1932 L483.8,1937 L478.8,1942" stroke="#3a7ebd" stroke-width="1.3" fill="none"/><path d="M489.4,1932 L494.4,1937 L489.4,1942" stroke="#3a7ebd" stroke-width="1.3" fill="none"/><path d="M500,1932 L505,1937 L500,1942" stroke="#3a7ebd" stroke-width="1.3" fill="none"/>
<text x="734.3" y="1899" text-anchor="end" stroke="#3a7ebd" stroke-width="0.3">C7FDX9_CANFA</text>
<line x1="739.4" y1="1892.6" x2="856.6" y2="1892.6" stroke="#3a7ebd" stroke-width="1.3"/><rect x="739.4" y="1882" width="1.3" height="21.2" fill="#3a7ebd"/><rect x="855.3" y="1882" width="1.3" height="21.2" fill="#3a7ebd"/><rect x="740.9" y="1882" width="1.2" height="21.2" fill="#3a7ebd" fill-opacity="0.6"/><rect x="743.9" y="1882" width="1.2" height="21.2" fill="#3a7ebd" fill-opacity="0.9"/><rect x="746.4" y="1882" width="1.2" height="21.2" fill="#3a7ebd" fill-opacity="0.35"/><rect x="753.4" y="1882" width="1.2" height="21.2" fill="#3a7ebd" fill-opacity="0.75"/><rect x="757.4" y="1882" width="1.2" height="21.2" fill="#3a7ebd" fill-opacity="0.75"/><rect x="764.4" y="1882" width="1.2" height="21.2" fill="#3a7ebd" fill-opacity="0.9"/><rect x="766.9" y="1882" width="1.2" height="21.2" fill="#3a7ebd" fill-opacity="0.75"/><rect x="769.9" y="1882" width="1.2" height="21.2" fill="#3a7ebd" fill-opacity="0.6"/><rect x="771.9" y="1882" width="1.2" height="21.2" fill="#3a7ebd" fill-opacity="0.75"/><rect x="774.9" y="1882" width="1.2" height="21.2" fill="#3a7ebd" fill-opacity="0.9"/><rect x="777.9" y="1882" width="1.2" height="21.2" fill="#3a7ebd" fill-opacity="0.5"/><rect x="784.9" y="1882" width="1.2" height="21.2" fill="#3a7ebd" fill-opacity="0.9"/><rect x="790.4" y="1882" width="1.2" height="21.2" fill="#3a7ebd" fill-opacity="1.0"/><rect x="792.9" y="1882" width="1.2" height="21.2" fill="#3a7ebd" fill-opacity="0.35"/><rect x="795.9" y="1882" width="1.2" height="21.2" fill="#3a7ebd" fill-opacity="0.5"/><rect x="799.9" y="1882" width="1.2" height="21.2" fill="#3a7ebd" fill-opacity="0.75"/><rect x="817.5" y="1882" width="1.1" height="21.2" fill="#3a7ebd" fill-opacity="0.7"/><rect x="775" y="1882" width="1.3" height="21.2" fill="#3a7ebd"/><rect x="780" y="1882" width="1.3" height="21.2" fill="#3a7ebd"/><rect x="793" y="1882" width="1.3" height="21.2" fill="#3a7ebd"/><rect x="811" y="1882" width="1.3" height="21.2" fill="#3a7ebd"/><rect x="818" y="1882" width="1.3" height="21.2" fill="#3a7ebd"/><path d="M750.9,1887.6 L745.9,1892.6 L750.9,1897.6" stroke="#3a7ebd" stroke-width="1.3" fill="none"/><path d="M761.5,1887.6 L756.5,1892.6 L761.5,1897.6" stroke="#3a7ebd" stroke-width="1.3" fill="none"/><path d="M772.1,1887.6 L767.1,1892.6 L772.1,1897.6" stroke="#3a7ebd" stroke-width="1.3" fill="none"/><path d="M782.7,1887.6 L777.7,1892.6 L782.7,1897.6" stroke="#3a7ebd" stroke-width="1.3" fill="none"/><path d="M793.3,1887.6 L788.3,1892.6 L793.3,1897.6" stroke="#3a7ebd" stroke-width="1.3" fill="none"/><path d="M803.9,1887.6 L798.9,1892.6 L803.9,1897.6" stroke="#3a7ebd" stroke-width="1.3" fill="none"/><path d="M814.5,1887.6 L809.5,1892.6 L814.5,1897.6" stroke="#3a7ebd" stroke-width="1.3" fill="none"/><path d="M825.1,1887.6 L820.1,1892.6 L825.1,1897.6" stroke="#3a7ebd" stroke-width="1.3" fill="none"/><path d="M835.7,1887.6 L830.7,1892.6 L835.7,1897.6" stroke="#3a7ebd" stroke-width="1.3" fill="none"/><path d="M846.3,1887.6 L841.3,1892.6 L846.3,1897.6" stroke="#3a7ebd" stroke-width="1.3" fill="none"/><path d="M856.9,1887.6 L851.9,1892.6 L856.9,1897.6" stroke="#3a7ebd" stroke-width="1.3" fill="none"/>
<text x="750" y="1921.2" text-anchor="end" stroke="#3a7ebd" stroke-width="0.3">C7FDX9_CANFA</text>
<line x1="754.9" y1="1914.8" x2="824.3" y2="1914.8" stroke="#3a7ebd" stroke-width="1.3"/><rect x="754.9" y="1904.2" width="1.3" height="21.2" fill="#3a7ebd"/><rect x="823" y="1904.2" width="1.3" height="21.2" fill="#3a7ebd"/><rect x="756.4" y="1904.2" width="1.2" height="21.2" fill="#3a7ebd" fill-opacity="0.75"/><rect x="760.4" y="1904.2" width="1.2" height="21.2" fill="#3a7ebd" fill-opacity="0.6"/><rect x="762.4" y="1904.2" width="1.2" height="21.2" fill="#3a7ebd" fill-opacity="0.5"/><rect x="764.4" y="1904.2" width="1.2" height="21.2" fill="#3a7ebd" fill-opacity="0.75"/><rect x="771.4" y="1904.2" width="1.2" height="21.2" fill="#3a7ebd" fill-opacity="0.75"/><rect x="776.9" y="1904.2" width="1.2" height="21.2" fill="#3a7ebd" fill-opacity="0.75"/><rect x="778.9" y="1904.2" width="1.2" height="21.2" fill="#3a7ebd" fill-opacity="0.35"/><rect x="782.9" y="1904.2" width="1.2" height="21.2" fill="#3a7ebd" fill-opacity="0.9"/><rect x="786.9" y="1904.2" width="1.2" height="21.2" fill="#3a7ebd" fill-opacity="0.75"/><rect x="789.4" y="1904.2" width="1.2" height="21.2" fill="#3a7ebd" fill-opacity="0.35"/><rect x="791.9" y="1904.2" width="1.2" height="21.2" fill="#3a7ebd" fill-opacity="0.5"/><rect x="775" y="1904.2" width="1.3" height="21.2" fill="#3a7ebd"/><rect x="780" y="1904.2" width="1.3" height="21.2" fill="#3a7ebd"/><rect x="793" y="1904.2" width="1.3" height="21.2" fill="#3a7ebd"/><rect x="811" y="1904.2" width="1.3" height="21.2" fill="#3a7ebd"/><rect x="818" y="1904.2" width="1.3" height="21.2" fill="#3a7ebd"/><path d="M766.4,1909.8 L761.4,1914.8 L766.4,1919.8" stroke="#3a7ebd" stroke-width="1.3" fill="none"/><path d="M777,1909.8 L772,1914.8 L777,1919.8" stroke="#3a7ebd" stroke-width="1.3" fill="none"/><path d="M787.6,1909.8 L782.6,1914.8 L787.6,1919.8" stroke="#3a7ebd" stroke-width="1.3" fill="none"/><path d="M798.2,1909.8 L793.2,1914.8 L798.2,1919.8" stroke="#3a7ebd" stroke-width="1.3" fill="none"/><path d="M808.8,1909.8 L803.8,1914.8 L808.8,1919.8" stroke="#3a7ebd" stroke-width="1.3" fill="none"/><path d="M819.4,1909.8 L814.4,1914.8 L819.4,1919.8" stroke="#3a7ebd" stroke-width="1.3" fill="none"/>
<text x="970.1" y="1899" text-anchor="end" stroke="#3a7ebd" stroke-width="0.3">SUV420H1</text>
<line x1="976.6" y1="1892.6" x2="1012.3" y2="1892.6" stroke="#3a7ebd" stroke-width="1.3"/><rect x="976.6" y="1882" width="1.3" height="21.2" fill="#3a7ebd"/><rect x="1011" y="1882" width="1.3" height="21.2" fill="#3a7ebd"/><rect x="978.1" y="1882" width="1.2" height="21.2" fill="#3a7ebd" fill-opacity="0.9"/><rect x="985.1" y="1882" width="1.2" height="21.2" fill="#3a7ebd" fill-opacity="0.35"/><rect x="992.1" y="1882" width="1.2" height="21.2" fill="#3a7ebd" fill-opacity="1.0"/><rect x="999.1" y="1882" width="1.2" height="21.2" fill="#3a7ebd" fill-opacity="0.75"/><rect x="1001.1" y="1882" width="1.2" height="21.2" fill="#3a7ebd" fill-opacity="0.9"/><rect x="1003.1" y="1882" width="1.2" height="21.2" fill="#3a7ebd" fill-opacity="0.35"/><rect x="1005.6" y="1882" width="1.2" height="21.2" fill="#3a7ebd" fill-opacity="0.5"/><rect x="1011.1" y="1882" width="1.2" height="21.2" fill="#3a7ebd" fill-opacity="0.35"/><path d="M979.1,1887.6 L984.1,1892.6 L979.1,1897.6" stroke="#3a7ebd" stroke-width="1.3" fill="none"/><path d="M989.7,1887.6 L994.7,1892.6 L989.7,1897.6" stroke="#3a7ebd" stroke-width="1.3" fill="none"/><path d="M1000.3,1887.6 L1005.3,1892.6 L1000.3,1897.6" stroke="#3a7ebd" stroke-width="1.3" fill="none"/>
<text x="950" y="1921.2" text-anchor="end" stroke="#3a7ebd" stroke-width="0.3">SUV420H1</text>
<line x1="957" y1="1914.8" x2="1016" y2="1914.8" stroke="#3a7ebd" stroke-width="1.3"/><rect x="957" y="1904.2" width="1.3" height="21.2" fill="#3a7ebd"/><rect x="1014.7" y="1904.2" width="1.3" height="21.2" fill="#3a7ebd"/><rect x="958.5" y="1904.2" width="1.2" height="21.2" fill="#3a7ebd" fill-opacity="1.0"/><rect x="961.5" y="1904.2" width="1.2" height="21.2" fill="#3a7ebd" fill-opacity="0.5"/><rect x="968.5" y="1904.2" width="1.2" height="21.2" fill="#3a7ebd" fill-opacity="0.6"/><rect x="974" y="1904.2" width="1.2" height="21.2" fill="#3a7ebd" fill-opacity="1.0"/><rect x="978" y="1904.2" width="1.2" height="21.2" fill="#3a7ebd" fill-opacity="1.0"/><rect x="980" y="1904.2" width="1.2" height="21.2" fill="#3a7ebd" fill-opacity="0.35"/><rect x="982" y="1904.2" width="1.2" height="21.2" fill="#3a7ebd" fill-opacity="0.6"/><rect x="987.5" y="1904.2" width="1.2" height="21.2" fill="#3a7ebd" fill-opacity="0.9"/><rect x="990" y="1904.2" width="1.2" height="21.2" fill="#3a7ebd" fill-opacity="0.75"/><rect x="993" y="1904.2" width="1.2" height="21.2" fill="#3a7ebd" fill-opacity="0.5"/><rect x="998.5" y="1904.2" width="1.2" height="21.2" fill="#3a7ebd" fill-opacity="0.35"/><rect x="1000.5" y="1904.2" width="1.2" height="21.2" fill="#3a7ebd" fill-opacity="0.9"/><rect x="1003.5" y="1904.2" width="1.2" height="21.2" fill="#3a7ebd" fill-opacity="0.75"/><rect x="1006.5" y="1904.2" width="1.2" height="21.2" fill="#3a7ebd" fill-opacity="0.6"/><rect x="1013.5" y="1904.2" width="1.2" height="21.2" fill="#3a7ebd" fill-opacity="0.5"/><rect x="1012" y="1904.2" width="4" height="21.2" fill="#3a7ebd"/><path d="M959.5,1909.8 L964.5,1914.8 L959.5,1919.8" stroke="#3a7ebd" stroke-width="1.3" fill="none"/><path d="M970.1,1909.8 L975.1,1914.8 L970.1,1919.8" stroke="#3a7ebd" stroke-width="1.3" fill="none"/><path d="M980.7,1909.8 L985.7,1914.8 L980.7,1919.8" stroke="#3a7ebd" stroke-width="1.3" fill="none"/><path d="M991.3,1909.8 L996.3,1914.8 L991.3,1919.8" stroke="#3a7ebd" stroke-width="1.3" fill="none"/><path d="M1001.9,1909.8 L1006.9,1914.8 L1001.9,1919.8" stroke="#3a7ebd" stroke-width="1.3" fill="none"/>
<text x="1125.3" y="1899" text-anchor="end" stroke="#3a7ebd" stroke-width="0.3">NDUFS8</text>
<line x1="1129.9" y1="1892.6" x2="1135.7" y2="1892.6" stroke="#3a7ebd" stroke-width="1.3"/><rect x="1129.9" y="1882" width="1.3" height="21.2" fill="#3a7ebd"/><rect x="1134.4" y="1882" width="1.3" height="21.2" fill="#3a7ebd"/><rect x="1131.4" y="1882" width="1.2" height="21.2" fill="#3a7ebd" fill-opacity="0.9"/><rect x="1133.9" y="1882" width="1.2" height="21.2" fill="#3a7ebd" fill-opacity="0.9"/>
<text x="1125.3" y="1921.2" text-anchor="end" stroke="#3a7ebd" stroke-width="0.3">NDUFS8</text>
<line x1="1130" y1="1914.8" x2="1136" y2="1914.8" stroke="#3a7ebd" stroke-width="1.3"/><rect x="1130" y="1904.2" width="1.3" height="21.2" fill="#3a7ebd"/><rect x="1134.7" y="1904.2" width="1.3" height="21.2" fill="#3a7ebd"/><rect x="1131.5" y="1904.2" width="1.2" height="21.2" fill="#3a7ebd" fill-opacity="0.35"/>
<text x="1242.2" y="1899" text-anchor="end" stroke="#3a7ebd" stroke-width="0.3">GSTP1</text>
<line x1="1248.7" y1="1892.6" x2="1295.5" y2="1892.6" stroke="#3a7ebd" stroke-width="1.3"/><rect x="1248.7" y="1882" width="1.3" height="21.2" fill="#3a7ebd"/><rect x="1294.2" y="1882" width="1.3" height="21.2" fill="#3a7ebd"/><rect x="1250.2" y="1882" width="1.2" height="21.2" fill="#3a7ebd" fill-opacity="1.0"/><rect x="1257.2" y="1882" width="1.2" height="21.2" fill="#3a7ebd" fill-opacity="0.6"/><rect x="1259.2" y="1882" width="1.2" height="21.2" fill="#3a7ebd" fill-opacity="0.35"/><rect x="1261.7" y="1882" width="1.2" height="21.2" fill="#3a7ebd" fill-opacity="0.75"/><rect x="1268.7" y="1882" width="1.2" height="21.2" fill="#3a7ebd" fill-opacity="1.0"/><rect x="1272.7" y="1882" width="1.2" height="21.2" fill="#3a7ebd" fill-opacity="0.35"/><rect x="1275.7" y="1882" width="1.2" height="21.2" fill="#3a7ebd" fill-opacity="0.5"/><rect x="1282.7" y="1882" width="1.2" height="21.2" fill="#3a7ebd" fill-opacity="0.75"/><rect x="1285.7" y="1882" width="1.2" height="21.2" fill="#3a7ebd" fill-opacity="0.5"/><rect x="1289.7" y="1882" width="1.2" height="21.2" fill="#3a7ebd" fill-opacity="0.35"/><rect x="1248.7" y="1882" width="1.8" height="21.2" fill="#3a7ebd"/><path d="M1260.2,1887.6 L1255.2,1892.6 L1260.2,1897.6" stroke="#3a7ebd" stroke-width="1.3" fill="none"/><path d="M1270.8,1887.6 L1265.8,1892.6 L1270.8,1897.6" stroke="#3a7ebd" stroke-width="1.3" fill="none"/><path d="M1281.4,1887.6 L1276.4,1892.6 L1281.4,1897.6" stroke="#3a7ebd" stroke-width="1.3" fill="none"/><path d="M1292,1887.6 L1287,1892.6 L1292,1897.6" stroke="#3a7ebd" stroke-width="1.3" fill="none"/>
<text x="1242.2" y="1921.2" text-anchor="end" stroke="#3a7ebd" stroke-width="0.3">GSTP1</text>
<line x1="1248.7" y1="1914.8" x2="1252" y2="1914.8" stroke="#3a7ebd" stroke-width="1.3"/><rect x="1248.7" y="1904.2" width="1.3" height="21.2" fill="#3a7ebd"/><rect x="1250.7" y="1904.2" width="1.3" height="21.2" fill="#3a7ebd"/>
<text x="1038.3" y="1943.4" text-anchor="end" stroke="#3a7ebd" stroke-width="0.3">CHKA</text>
<line x1="1043.8" y1="1937" x2="1116.9" y2="1937" stroke="#3a7ebd" stroke-width="1.3"/><rect x="1043.8" y="1926.4" width="1.3" height="21.2" fill="#3a7ebd"/><rect x="1115.6" y="1926.4" width="1.3" height="21.2" fill="#3a7ebd"/><rect x="1078.2" y="1926.4" width="1.2" height="21.2" fill="#3a7ebd" fill-opacity="0.6"/><rect x="1085.2" y="1926.4" width="1.2" height="21.2" fill="#3a7ebd" fill-opacity="0.75"/><rect x="1088.2" y="1926.4" width="1.2" height="21.2" fill="#3a7ebd" fill-opacity="1.0"/><rect x="1092.2" y="1926.4" width="1.2" height="21.2" fill="#3a7ebd" fill-opacity="0.5"/><rect x="1094.2" y="1926.4" width="1.2" height="21.2" fill="#3a7ebd" fill-opacity="0.6"/><rect x="1101.2" y="1926.4" width="1.2" height="21.2" fill="#3a7ebd" fill-opacity="0.9"/><rect x="1103.2" y="1926.4" width="1.2" height="21.2" fill="#3a7ebd" fill-opacity="0.5"/><rect x="1107.2" y="1926.4" width="1.2" height="21.2" fill="#3a7ebd" fill-opacity="0.5"/><rect x="1110.2" y="1926.4" width="1.2" height="21.2" fill="#3a7ebd" fill-opacity="0.5"/><rect x="1112.7" y="1926.4" width="1.2" height="21.2" fill="#3a7ebd" fill-opacity="0.75"/><rect x="1115.2" y="1926.4" width="1.2" height="21.2" fill="#3a7ebd" fill-opacity="0.6"/><rect x="1114.5" y="1926.4" width="2.4" height="21.2" fill="#3a7ebd"/><path d="M1046.3,1932 L1051.3,1937 L1046.3,1942" stroke="#3a7ebd" stroke-width="1.3" fill="none"/><path d="M1056.9,1932 L1061.9,1937 L1056.9,1942" stroke="#3a7ebd" stroke-width="1.3" fill="none"/><path d="M1067.5,1932 L1072.5,1937 L1067.5,1942" stroke="#3a7ebd" stroke-width="1.3" fill="none"/><path d="M1078.1,1932 L1083.1,1937 L1078.1,1942" stroke="#3a7ebd" stroke-width="1.3" fill="none"/><path d="M1088.7,1932 L1093.7,1937 L1088.7,1942" stroke="#3a7ebd" stroke-width="1.3" fill="none"/><path d="M1099.3,1932 L1104.3,1937 L1099.3,1942" stroke="#3a7ebd" stroke-width="1.3" fill="none"/>
<text x="1038.3" y="1965.6" text-anchor="end" stroke="#3a7ebd" stroke-width="0.3">CHKA</text>
<line x1="1043.8" y1="1959.2" x2="1116.9" y2="1959.2" stroke="#3a7ebd" stroke-width="1.3"/><rect x="1043.8" y="1948.6" width="1.3" height="21.2" fill="#3a7ebd"/><rect x="1115.6" y="1948.6" width="1.3" height="21.2" fill="#3a7ebd"/><rect x="1078.2" y="1948.6" width="1.2" height="21.2" fill="#3a7ebd" fill-opacity="0.35"/><rect x="1083.7" y="1948.6" width="1.2" height="21.2" fill="#3a7ebd" fill-opacity="0.75"/><rect x="1089.2" y="1948.6" width="1.2" height="21.2" fill="#3a7ebd" fill-opacity="0.5"/><rect x="1091.7" y="1948.6" width="1.2" height="21.2" fill="#3a7ebd" fill-opacity="0.75"/><rect x="1095.7" y="1948.6" width="1.2" height="21.2" fill="#3a7ebd" fill-opacity="1.0"/><rect x="1097.7" y="1948.6" width="1.2" height="21.2" fill="#3a7ebd" fill-opacity="0.9"/><rect x="1100.2" y="1948.6" width="1.2" height="21.2" fill="#3a7ebd" fill-opacity="0.75"/><rect x="1102.2" y="1948.6" width="1.2" height="21.2" fill="#3a7ebd" fill-opacity="0.5"/><rect x="1104.2" y="1948.6" width="1.2" height="21.2" fill="#3a7ebd" fill-opacity="0.9"/><rect x="1106.7" y="1948.6" width="1.2" height="21.2" fill="#3a7ebd" fill-opacity="0.75"/><rect x="1108.7" y="1948.6" width="1.2" height="21.2" fill="#3a7ebd" fill-opacity="1.0"/><rect x="1110.7" y="1948.6" width="1.2" height="21.2" fill="#3a7ebd" fill-opacity="0.5"/><rect x="1114.7" y="1948.6" width="1.2" height="21.2" fill="#3a7ebd" fill-opacity="0.75"/><rect x="1114.5" y="1948.6" width="2.4" height="21.2" fill="#3a7ebd"/><path d="M1046.3,1954.2 L1051.3,1959.2 L1046.3,1964.2" stroke="#3a7ebd" stroke-width="1.3" fill="none"/><path d="M1056.9,1954.2 L1061.9,1959.2 L1056.9,1964.2" stroke="#3a7ebd" stroke-width="1.3" fill="none"/><path d="M1067.5,1954.2 L1072.5,1959.2 L1067.5,1964.2" stroke="#3a7ebd" stroke-width="1.3" fill="none"/><path d="M1078.1,1954.2 L1083.1,1959.2 L1078.1,1964.2" stroke="#3a7ebd" stroke-width="1.3" fill="none"/><path d="M1088.7,1954.2 L1093.7,1959.2 L1088.7,1964.2" stroke="#3a7ebd" stroke-width="1.3" fill="none"/><path d="M1099.3,1954.2 L1104.3,1959.2 L1099.3,1964.2" stroke="#3a7ebd" stroke-width="1.3" fill="none"/>
<text x="1056.8" y="1987.7" text-anchor="end" stroke="#3a7ebd" stroke-width="0.3">CHKA</text>
<line x1="1062.7" y1="1981.3" x2="1116.9" y2="1981.3" stroke="#3a7ebd" stroke-width="1.3"/><rect x="1062.7" y="1970.7" width="1.3" height="21.2" fill="#3a7ebd"/><rect x="1115.6" y="1970.7" width="1.3" height="21.2" fill="#3a7ebd"/><rect x="1064.2" y="1970.7" width="1.2" height="21.2" fill="#3a7ebd" fill-opacity="0.6"/><rect x="1071.2" y="1970.7" width="1.2" height="21.2" fill="#3a7ebd" fill-opacity="0.35"/><rect x="1073.2" y="1970.7" width="1.2" height="21.2" fill="#3a7ebd" fill-opacity="0.5"/><rect x="1076.2" y="1970.7" width="1.2" height="21.2" fill="#3a7ebd" fill-opacity="0.5"/><rect x="1078.7" y="1970.7" width="1.2" height="21.2" fill="#3a7ebd" fill-opacity="1.0"/><rect x="1084.2" y="1970.7" width="1.2" height="21.2" fill="#3a7ebd" fill-opacity="1.0"/><rect x="1088.2" y="1970.7" width="1.2" height="21.2" fill="#3a7ebd" fill-opacity="0.35"/><rect x="1091.2" y="1970.7" width="1.2" height="21.2" fill="#3a7ebd" fill-opacity="1.0"/><rect x="1098.2" y="1970.7" width="1.2" height="21.2" fill="#3a7ebd" fill-opacity="0.75"/><rect x="1101.2" y="1970.7" width="1.2" height="21.2" fill="#3a7ebd" fill-opacity="0.6"/><rect x="1105.2" y="1970.7" width="1.2" height="21.2" fill="#3a7ebd" fill-opacity="0.5"/><rect x="1107.2" y="1970.7" width="1.2" height="21.2" fill="#3a7ebd" fill-opacity="0.35"/><rect x="1109.2" y="1970.7" width="1.2" height="21.2" fill="#3a7ebd" fill-opacity="0.6"/><rect x="1111.2" y="1970.7" width="1.2" height="21.2" fill="#3a7ebd" fill-opacity="0.6"/><rect x="1115.2" y="1970.7" width="1.2" height="21.2" fill="#3a7ebd" fill-opacity="0.35"/><rect x="1114.5" y="1970.7" width="2.4" height="21.2" fill="#3a7ebd"/><path d="M1065.2,1976.3 L1070.2,1981.3 L1065.2,1986.3" stroke="#3a7ebd" stroke-width="1.3" fill="none"/><path d="M1075.8,1976.3 L1080.8,1981.3 L1075.8,1986.3" stroke="#3a7ebd" stroke-width="1.3" fill="none"/><path d="M1086.4,1976.3 L1091.4,1981.3 L1086.4,1986.3" stroke="#3a7ebd" stroke-width="1.3" fill="none"/><path d="M1097,1976.3 L1102,1981.3 L1097,1986.3" stroke="#3a7ebd" stroke-width="1.3" fill="none"/><path d="M1107.6,1976.3 L1112.6,1981.3 L1107.6,1986.3" stroke="#3a7ebd" stroke-width="1.3" fill="none"/>
<text x="1075.6" y="2009.9" text-anchor="end" stroke="#3a7ebd" stroke-width="0.3">CHKA</text>
<line x1="1081.2" y1="2003.5" x2="1116.9" y2="2003.5" stroke="#3a7ebd" stroke-width="1.3"/><rect x="1081.2" y="1992.9" width="1.3" height="21.2" fill="#3a7ebd"/><rect x="1115.6" y="1992.9" width="1.3" height="21.2" fill="#3a7ebd"/><rect x="1082.7" y="1992.9" width="1.2" height="21.2" fill="#3a7ebd" fill-opacity="0.5"/><rect x="1086.7" y="1992.9" width="1.2" height="21.2" fill="#3a7ebd" fill-opacity="0.6"/><rect x="1089.7" y="1992.9" width="1.2" height="21.2" fill="#3a7ebd" fill-opacity="0.75"/><rect x="1091.7" y="1992.9" width="1.2" height="21.2" fill="#3a7ebd" fill-opacity="0.35"/><rect x="1098.7" y="1992.9" width="1.2" height="21.2" fill="#3a7ebd" fill-opacity="0.75"/><rect x="1101.2" y="1992.9" width="1.2" height="21.2" fill="#3a7ebd" fill-opacity="0.6"/><rect x="1106.7" y="1992.9" width="1.2" height="21.2" fill="#3a7ebd" fill-opacity="0.75"/><rect x="1109.2" y="1992.9" width="1.2" height="21.2" fill="#3a7ebd" fill-opacity="0.6"/><rect x="1112.2" y="1992.9" width="1.2" height="21.2" fill="#3a7ebd" fill-opacity="1.0"/><rect x="1081.2" y="1992.9" width="7.8" height="21.2" fill="#3a7ebd"/><rect x="1114.5" y="1992.9" width="2.4" height="21.2" fill="#3a7ebd"/><path d="M1083.7,1998.5 L1088.7,2003.5 L1083.7,2008.5" stroke="#3a7ebd" stroke-width="1.3" fill="none"/><path d="M1094.3,1998.5 L1099.3,2003.5 L1094.3,2008.5" stroke="#3a7ebd" stroke-width="1.3" fill="none"/><path d="M1104.9,1998.5 L1109.9,2003.5 L1104.9,2008.5" stroke="#3a7ebd" stroke-width="1.3" fill="none"/>
<text x="1290" y="1943.4" text-anchor="end" stroke="#3a7ebd" stroke-width="0.3">GSTP1</text>
<line x1="1296.4" y1="1937" x2="1301.5" y2="1937" stroke="#3a7ebd" stroke-width="1.3"/><rect x="1296.4" y="1926.4" width="1.3" height="21.2" fill="#3a7ebd"/><rect x="1300.2" y="1926.4" width="1.3" height="21.2" fill="#3a7ebd"/><rect x="1297.9" y="1926.4" width="1.2" height="21.2" fill="#3a7ebd" fill-opacity="0.35"/><rect x="1296.4" y="1926.4" width="5.1" height="21.2" fill="#3a7ebd"/>
<text x="1290" y="1965.6" text-anchor="end" stroke="#3a7ebd" stroke-width="0.3">GSTP1</text>
<line x1="1296.4" y1="1959.2" x2="1301.5" y2="1959.2" stroke="#3a7ebd" stroke-width="1.3"/><rect x="1296.4" y="1948.6" width="1.3" height="21.2" fill="#3a7ebd"/><rect x="1300.2" y="1948.6" width="1.3" height="21.2" fill="#3a7ebd"/><rect x="1297.9" y="1948.6" width="1.2" height="21.2" fill="#3a7ebd" fill-opacity="0.75"/><rect x="1300.4" y="1948.6" width="1.2" height="21.2" fill="#3a7ebd" fill-opacity="1.0"/><rect x="1296.4" y="1948.6" width="5.1" height="21.2" fill="#3a7ebd"/>
<text x="1290" y="1987.7" text-anchor="end" stroke="#3a7ebd" stroke-width="0.3">GSTP1</text>
<line x1="1296.4" y1="1981.3" x2="1301.5" y2="1981.3" stroke="#3a7ebd" stroke-width="1.3"/><rect x="1296.4" y="1970.7" width="1.3" height="21.2" fill="#3a7ebd"/><rect x="1300.2" y="1970.7" width="1.3" height="21.2" fill="#3a7ebd"/><rect x="1297.9" y="1970.7" width="1.2" height="21.2" fill="#3a7ebd" fill-opacity="0.35"/><rect x="1296.4" y="1970.7" width="5.1" height="21.2" fill="#3a7ebd"/>
<text x="261.4" y="1965.6" text-anchor="end" stroke="#3a7ebd" stroke-width="0.3">MRGPRF</text>
<line x1="266.3" y1="1959.2" x2="275.7" y2="1959.2" stroke="#3a7ebd" stroke-width="1.3"/><rect x="266.3" y="1948.6" width="1.3" height="21.2" fill="#3a7ebd"/><rect x="274.4" y="1948.6" width="1.3" height="21.2" fill="#3a7ebd"/><rect x="267.8" y="1948.6" width="1.2" height="21.2" fill="#3a7ebd" fill-opacity="0.35"/><rect x="271.8" y="1948.6" width="1.2" height="21.2" fill="#3a7ebd" fill-opacity="0.35"/><rect x="273.8" y="1948.6" width="1.2" height="21.2" fill="#3a7ebd" fill-opacity="0.6"/>
<text x="264.3" y="1987.7" text-anchor="end" stroke="#3a7ebd" stroke-width="0.3">MRGPRF</text>
<line x1="269.4" y1="1981.3" x2="275.1" y2="1981.3" stroke="#3a7ebd" stroke-width="1.3"/><rect x="269.4" y="1970.7" width="1.3" height="21.2" fill="#3a7ebd"/><rect x="273.8" y="1970.7" width="1.3" height="21.2" fill="#3a7ebd"/><rect x="270.9" y="1970.7" width="1.2" height="21.2" fill="#3a7ebd" fill-opacity="1.0"/><rect x="272.9" y="1970.7" width="1.2" height="21.2" fill="#3a7ebd" fill-opacity="0.9"/>
<text x="402.3" y="1965.6" text-anchor="end" stroke="#3a7ebd" stroke-width="0.3">CPT1A</text>
<line x1="408" y1="1959.2" x2="467.7" y2="1959.2" stroke="#3a7ebd" stroke-width="1.3"/><rect x="408" y="1948.6" width="1.3" height="21.2" fill="#3a7ebd"/><rect x="466.4" y="1948.6" width="1.3" height="21.2" fill="#3a7ebd"/><rect x="409.5" y="1948.6" width="1.2" height="21.2" fill="#3a7ebd" fill-opacity="0.6"/><rect x="412.5" y="1948.6" width="1.2" height="21.2" fill="#3a7ebd" fill-opacity="0.6"/><rect x="418" y="1948.6" width="1.2" height="21.2" fill="#3a7ebd" fill-opacity="0.35"/><rect x="421" y="1948.6" width="1.2" height="21.2" fill="#3a7ebd" fill-opacity="1.0"/><rect x="428" y="1948.6" width="1.2" height="21.2" fill="#3a7ebd" fill-opacity="1.0"/><rect x="431" y="1948.6" width="1.2" height="21.2" fill="#3a7ebd" fill-opacity="0.6"/><rect x="434" y="1948.6" width="1.2" height="21.2" fill="#3a7ebd" fill-opacity="0.35"/><rect x="441" y="1948.6" width="1.2" height="21.2" fill="#3a7ebd" fill-opacity="0.9"/><rect x="448" y="1948.6" width="1.2" height="21.2" fill="#3a7ebd" fill-opacity="0.35"/><rect x="450" y="1948.6" width="1.2" height="21.2" fill="#3a7ebd" fill-opacity="0.5"/><rect x="452" y="1948.6" width="1.2" height="21.2" fill="#3a7ebd" fill-opacity="0.75"/><rect x="459" y="1948.6" width="1.2" height="21.2" fill="#3a7ebd" fill-opacity="0.75"/><rect x="463" y="1948.6" width="1.2" height="21.2" fill="#3a7ebd" fill-opacity="0.6"/><rect x="460" y="1948.6" width="7.7" height="21.2" fill="#3a7ebd"/><path d="M410.5,1954.2 L415.5,1959.2 L410.5,1964.2" stroke="#3a7ebd" stroke-width="1.3" fill="none"/><path d="M421.1,1954.2 L426.1,1959.2 L421.1,1964.2" stroke="#3a7ebd" stroke-width="1.3" fill="none"/><path d="M431.7,1954.2 L436.7,1959.2 L431.7,1964.2" stroke="#3a7ebd" stroke-width="1.3" fill="none"/><path d="M442.3,1954.2 L447.3,1959.2 L442.3,1964.2" stroke="#3a7ebd" stroke-width="1.3" fill="none"/><path d="M452.9,1954.2 L457.9,1959.2 L452.9,1964.2" stroke="#3a7ebd" stroke-width="1.3" fill="none"/>
<text x="402.9" y="1987.7" text-anchor="end" stroke="#3a7ebd" stroke-width="0.3">CPT1A</text>
<line x1="408.6" y1="1981.3" x2="467.7" y2="1981.3" stroke="#3a7ebd" stroke-width="1.3"/><rect x="408.6" y="1970.7" width="1.3" height="21.2" fill="#3a7ebd"/><rect x="466.4" y="1970.7" width="1.3" height="21.2" fill="#3a7ebd"/><rect x="410.1" y="1970.7" width="1.2" height="21.2" fill="#3a7ebd" fill-opacity="0.75"/><rect x="412.6" y="1970.7" width="1.2" height="21.2" fill="#3a7ebd" fill-opacity="0.75"/><rect x="415.1" y="1970.7" width="1.2" height="21.2" fill="#3a7ebd" fill-opacity="0.35"/><rect x="422.1" y="1970.7" width="1.2" height="21.2" fill="#3a7ebd" fill-opacity="0.6"/><rect x="429.1" y="1970.7" width="1.2" height="21.2" fill="#3a7ebd" fill-opacity="0.5"/><rect x="434.6" y="1970.7" width="1.2" height="21.2" fill="#3a7ebd" fill-opacity="0.5"/><rect x="437.6" y="1970.7" width="1.2" height="21.2" fill="#3a7ebd" fill-opacity="0.6"/><rect x="441.6" y="1970.7" width="1.2" height="21.2" fill="#3a7ebd" fill-opacity="0.6"/><rect x="447.1" y="1970.7" width="1.2" height="21.2" fill="#3a7ebd" fill-opacity="0.35"/><rect x="452.6" y="1970.7" width="1.2" height="21.2" fill="#3a7ebd" fill-opacity="0.5"/><rect x="456.6" y="1970.7" width="1.2" height="21.2" fill="#3a7ebd" fill-opacity="0.5"/><rect x="459.1" y="1970.7" width="1.2" height="21.2" fill="#3a7ebd" fill-opacity="0.75"/><rect x="461.1" y="1970.7" width="1.2" height="21.2" fill="#3a7ebd" fill-opacity="1.0"/><rect x="463.1" y="1970.7" width="1.2" height="21.2" fill="#3a7ebd" fill-opacity="0.75"/><rect x="460" y="1970.7" width="7.7" height="21.2" fill="#3a7ebd"/><path d="M411.1,1976.3 L416.1,1981.3 L411.1,1986.3" stroke="#3a7ebd" stroke-width="1.3" fill="none"/><path d="M421.7,1976.3 L426.7,1981.3 L421.7,1986.3" stroke="#3a7ebd" stroke-width="1.3" fill="none"/><path d="M432.3,1976.3 L437.3,1981.3 L432.3,1986.3" stroke="#3a7ebd" stroke-width="1.3" fill="none"/><path d="M442.9,1976.3 L447.9,1981.3 L442.9,1986.3" stroke="#3a7ebd" stroke-width="1.3" fill="none"/><path d="M453.5,1976.3 L458.5,1981.3 L453.5,1986.3" stroke="#3a7ebd" stroke-width="1.3" fill="none"/>
<text x="564.3" y="1965.6" text-anchor="end" stroke="#3a7ebd" stroke-width="0.3">PPP6R3</text>
<line x1="569.1" y1="1959.2" x2="614.3" y2="1959.2" stroke="#3a7ebd" stroke-width="1.3"/><rect x="569.1" y="1948.6" width="1.3" height="21.2" fill="#3a7ebd"/><rect x="613" y="1948.6" width="1.3" height="21.2" fill="#3a7ebd"/><rect x="570.6" y="1948.6" width="1.2" height="21.2" fill="#3a7ebd" fill-opacity="0.9"/><rect x="573.6" y="1948.6" width="1.2" height="21.2" fill="#3a7ebd" fill-opacity="0.5"/><rect x="577.6" y="1948.6" width="1.2" height="21.2" fill="#3a7ebd" fill-opacity="0.35"/><rect x="579.6" y="1948.6" width="1.2" height="21.2" fill="#3a7ebd" fill-opacity="0.6"/><rect x="585.1" y="1948.6" width="1.2" height="21.2" fill="#3a7ebd" fill-opacity="0.35"/><rect x="587.6" y="1948.6" width="1.2" height="21.2" fill="#3a7ebd" fill-opacity="0.35"/><rect x="591.6" y="1948.6" width="1.2" height="21.2" fill="#3a7ebd" fill-opacity="0.75"/><rect x="598.6" y="1948.6" width="1.2" height="21.2" fill="#3a7ebd" fill-opacity="0.75"/><rect x="601.1" y="1948.6" width="1.2" height="21.2" fill="#3a7ebd" fill-opacity="0.5"/><rect x="603.6" y="1948.6" width="1.2" height="21.2" fill="#3a7ebd" fill-opacity="0.75"/><rect x="607.6" y="1948.6" width="1.2" height="21.2" fill="#3a7ebd" fill-opacity="0.9"/><rect x="569.1" y="1948.6" width="5.9" height="21.2" fill="#3a7ebd"/><rect x="577" y="1948.6" width="7" height="21.2" fill="#3a7ebd"/><path d="M580.6,1954.2 L575.6,1959.2 L580.6,1964.2" stroke="#3a7ebd" stroke-width="1.3" fill="none"/><path d="M591.2,1954.2 L586.2,1959.2 L591.2,1964.2" stroke="#3a7ebd" stroke-width="1.3" fill="none"/><path d="M601.8,1954.2 L596.8,1959.2 L601.8,1964.2" stroke="#3a7ebd" stroke-width="1.3" fill="none"/><path d="M612.4,1954.2 L607.4,1959.2 L612.4,1964.2" stroke="#3a7ebd" stroke-width="1.3" fill="none"/>
<text x="564.3" y="1987.7" text-anchor="end" stroke="#3a7ebd" stroke-width="0.3">PPP6R3</text>
<line x1="569.1" y1="1981.3" x2="615.1" y2="1981.3" stroke="#3a7ebd" stroke-width="1.3"/><rect x="569.1" y="1970.7" width="1.3" height="21.2" fill="#3a7ebd"/><rect x="613.8" y="1970.7" width="1.3" height="21.2" fill="#3a7ebd"/><rect x="570.6" y="1970.7" width="1.2" height="21.2" fill="#3a7ebd" fill-opacity="0.5"/><rect x="577.6" y="1970.7" width="1.2" height="21.2" fill="#3a7ebd" fill-opacity="0.9"/><rect x="584.6" y="1970.7" width="1.2" height="21.2" fill="#3a7ebd" fill-opacity="0.35"/><rect x="587.6" y="1970.7" width="1.2" height="21.2" fill="#3a7ebd" fill-opacity="0.6"/><rect x="590.6" y="1970.7" width="1.2" height="21.2" fill="#3a7ebd" fill-opacity="0.9"/><rect x="593.6" y="1970.7" width="1.2" height="21.2" fill="#3a7ebd" fill-opacity="0.6"/><rect x="596.6" y="1970.7" width="1.2" height="21.2" fill="#3a7ebd" fill-opacity="1.0"/><rect x="599.6" y="1970.7" width="1.2" height="21.2" fill="#3a7ebd" fill-opacity="0.5"/><rect x="603.6" y="1970.7" width="1.2" height="21.2" fill="#3a7ebd" fill-opacity="0.5"/><rect x="606.1" y="1970.7" width="1.2" height="21.2" fill="#3a7ebd" fill-opacity="0.5"/><rect x="608.6" y="1970.7" width="1.2" height="21.2" fill="#3a7ebd" fill-opacity="0.5"/><rect x="611.6" y="1970.7" width="1.2" height="21.2" fill="#3a7ebd" fill-opacity="0.9"/><rect x="569.1" y="1970.7" width="6.9" height="21.2" fill="#3a7ebd"/><path d="M580.6,1976.3 L575.6,1981.3 L580.6,1986.3" stroke="#3a7ebd" stroke-width="1.3" fill="none"/><path d="M591.2,1976.3 L586.2,1981.3 L591.2,1986.3" stroke="#3a7ebd" stroke-width="1.3" fill="none"/><path d="M601.8,1976.3 L596.8,1981.3 L601.8,1986.3" stroke="#3a7ebd" stroke-width="1.3" fill="none"/><path d="M612.4,1976.3 L607.4,1981.3 L612.4,1986.3" stroke="#3a7ebd" stroke-width="1.3" fill="none"/>
<text x="323.7" y="2009.9" text-anchor="end" stroke="#3a7ebd" stroke-width="0.3">IGHMBP2</text>
<line x1="328.6" y1="2003.5" x2="354.3" y2="2003.5" stroke="#3a7ebd" stroke-width="1.3"/><rect x="328.6" y="1992.9" width="1.3" height="21.2" fill="#3a7ebd"/><rect x="353" y="1992.9" width="1.3" height="21.2" fill="#3a7ebd"/><rect x="330.1" y="1992.9" width="1.2" height="21.2" fill="#3a7ebd" fill-opacity="0.6"/><rect x="332.1" y="1992.9" width="1.2" height="21.2" fill="#3a7ebd" fill-opacity="0.75"/><rect x="335.1" y="1992.9" width="1.2" height="21.2" fill="#3a7ebd" fill-opacity="0.5"/><rect x="340.6" y="1992.9" width="1.2" height="21.2" fill="#3a7ebd" fill-opacity="0.9"/><rect x="343.1" y="1992.9" width="1.2" height="21.2" fill="#3a7ebd" fill-opacity="1.0"/><rect x="345.1" y="1992.9" width="1.2" height="21.2" fill="#3a7ebd" fill-opacity="1.0"/><rect x="349.1" y="1992.9" width="1.2" height="21.2" fill="#3a7ebd" fill-opacity="0.35"/><rect x="351.1" y="1992.9" width="1.2" height="21.2" fill="#3a7ebd" fill-opacity="0.35"/><rect x="330" y="1992.9" width="5" height="21.2" fill="#3a7ebd"/><path d="M340.1,1998.5 L335.1,2003.5 L340.1,2008.5" stroke="#3a7ebd" stroke-width="1.3" fill="none"/><path d="M350.7,1998.5 L345.7,2003.5 L350.7,2008.5" stroke="#3a7ebd" stroke-width="1.3" fill="none"/>
<text x="323.7" y="2032.1" text-anchor="end" stroke="#3a7ebd" stroke-width="0.3">IGHMBP2</text>
<line x1="328.6" y1="2025.7" x2="358.6" y2="2025.7" stroke="#3a7ebd" stroke-width="1.3"/><rect x="328.6" y="2015.1" width="1.3" height="21.2" fill="#3a7ebd"/><rect x="357.3" y="2015.1" width="1.3" height="21.2" fill="#3a7ebd"/><rect x="330.1" y="2015.1" width="1.2" height="21.2" fill="#3a7ebd" fill-opacity="0.5"/><rect x="334.1" y="2015.1" width="1.2" height="21.2" fill="#3a7ebd" fill-opacity="0.6"/><rect x="336.1" y="2015.1" width="1.2" height="21.2" fill="#3a7ebd" fill-opacity="0.6"/><rect x="338.6" y="2015.1" width="1.2" height="21.2" fill="#3a7ebd" fill-opacity="0.35"/><rect x="340.6" y="2015.1" width="1.2" height="21.2" fill="#3a7ebd" fill-opacity="0.5"/><rect x="346.1" y="2015.1" width="1.2" height="21.2" fill="#3a7ebd" fill-opacity="0.9"/><rect x="348.6" y="2015.1" width="1.2" height="21.2" fill="#3a7ebd" fill-opacity="0.35"/><rect x="351.6" y="2015.1" width="1.2" height="21.2" fill="#3a7ebd" fill-opacity="0.9"/><rect x="354.1" y="2015.1" width="1.2" height="21.2" fill="#3a7ebd" fill-opacity="0.75"/><rect x="330" y="2015.1" width="5" height="21.2" fill="#3a7ebd"/><path d="M340.1,2020.7 L335.1,2025.7 L340.1,2030.7" stroke="#3a7ebd" stroke-width="1.3" fill="none"/><path d="M350.7,2020.7 L345.7,2025.7 L350.7,2030.7" stroke="#3a7ebd" stroke-width="1.3" fill="none"/>
<text x="323.7" y="2054.3" text-anchor="end" stroke="#3a7ebd" stroke-width="0.3">IGHMBP2</text>
<line x1="328.6" y1="2047.9" x2="358.6" y2="2047.9" stroke="#3a7ebd" stroke-width="1.3"/><rect x="328.6" y="2037.3" width="1.3" height="21.2" fill="#3a7ebd"/><rect x="357.3" y="2037.3" width="1.3" height="21.2" fill="#3a7ebd"/><rect x="330.1" y="2037.3" width="1.2" height="21.2" fill="#3a7ebd" fill-opacity="0.6"/><rect x="337.1" y="2037.3" width="1.2" height="21.2" fill="#3a7ebd" fill-opacity="0.35"/><rect x="339.1" y="2037.3" width="1.2" height="21.2" fill="#3a7ebd" fill-opacity="1.0"/><rect x="344.6" y="2037.3" width="1.2" height="21.2" fill="#3a7ebd" fill-opacity="1.0"/><rect x="350.1" y="2037.3" width="1.2" height="21.2" fill="#3a7ebd" fill-opacity="0.6"/><rect x="352.6" y="2037.3" width="1.2" height="21.2" fill="#3a7ebd" fill-opacity="0.35"/><rect x="355.6" y="2037.3" width="1.2" height="21.2" fill="#3a7ebd" fill-opacity="0.6"/><rect x="330" y="2037.3" width="5" height="21.2" fill="#3a7ebd"/><path d="M340.1,2042.9 L335.1,2047.9 L340.1,2052.9" stroke="#3a7ebd" stroke-width="1.3" fill="none"/><path d="M350.7,2042.9 L345.7,2047.9 L350.7,2052.9" stroke="#3a7ebd" stroke-width="1.3" fill="none"/>
<text x="323.7" y="2076.5" text-anchor="end" stroke="#3a7ebd" stroke-width="0.3">IGHMBP2</text>
<line x1="328.6" y1="2070.1" x2="358.6" y2="2070.1" stroke="#3a7ebd" stroke-width="1.3"/><rect x="328.6" y="2059.5" width="1.3" height="21.2" fill="#3a7ebd"/><rect x="357.3" y="2059.5" width="1.3" height="21.2" fill="#3a7ebd"/><rect x="330.1" y="2059.5" width="1.2" height="21.2" fill="#3a7ebd" fill-opacity="0.35"/><rect x="332.6" y="2059.5" width="1.2" height="21.2" fill="#3a7ebd" fill-opacity="0.6"/><rect x="334.6" y="2059.5" width="1.2" height="21.2" fill="#3a7ebd" fill-opacity="0.9"/><rect x="341.6" y="2059.5" width="1.2" height="21.2" fill="#3a7ebd" fill-opacity="1.0"/><rect x="344.1" y="2059.5" width="1.2" height="21.2" fill="#3a7ebd" fill-opacity="0.35"/><rect x="347.1" y="2059.5" width="1.2" height="21.2" fill="#3a7ebd" fill-opacity="0.75"/><rect x="354.1" y="2059.5" width="1.2" height="21.2" fill="#3a7ebd" fill-opacity="0.6"/><rect x="356.6" y="2059.5" width="1.2" height="21.2" fill="#3a7ebd" fill-opacity="0.9"/><rect x="330" y="2059.5" width="5" height="21.2" fill="#3a7ebd"/><path d="M340.1,2065.1 L335.1,2070.1 L340.1,2075.1" stroke="#3a7ebd" stroke-width="1.3" fill="none"/><path d="M350.7,2065.1 L345.7,2070.1 L350.7,2075.1" stroke="#3a7ebd" stroke-width="1.3" fill="none"/>
<text x="323.7" y="2098.6" text-anchor="end" stroke="#3a7ebd" stroke-width="0.3">IGHMBP2</text>
<line x1="328.6" y1="2092.2" x2="358.6" y2="2092.2" stroke="#3a7ebd" stroke-width="1.3"/><rect x="328.6" y="2081.6" width="1.3" height="21.2" fill="#3a7ebd"/><rect x="357.3" y="2081.6" width="1.3" height="21.2" fill="#3a7ebd"/><rect x="330.1" y="2081.6" width="1.2" height="21.2" fill="#3a7ebd" fill-opacity="0.35"/><rect x="332.6" y="2081.6" width="1.2" height="21.2" fill="#3a7ebd" fill-opacity="0.35"/><rect x="336.6" y="2081.6" width="1.2" height="21.2" fill="#3a7ebd" fill-opacity="0.9"/><rect x="340.6" y="2081.6" width="1.2" height="21.2" fill="#3a7ebd" fill-opacity="0.35"/><rect x="344.6" y="2081.6" width="1.2" height="21.2" fill="#3a7ebd" fill-opacity="0.35"/><rect x="348.6" y="2081.6" width="1.2" height="21.2" fill="#3a7ebd" fill-opacity="1.0"/><rect x="354.1" y="2081.6" width="1.2" height="21.2" fill="#3a7ebd" fill-opacity="0.5"/><rect x="330" y="2081.6" width="5" height="21.2" fill="#3a7ebd"/><path d="M340.1,2087.2 L335.1,2092.2 L340.1,2097.2" stroke="#3a7ebd" stroke-width="1.3" fill="none"/><path d="M350.7,2087.2 L345.7,2092.2 L350.7,2097.2" stroke="#3a7ebd" stroke-width="1.3" fill="none"/>
<text x="323.7" y="2120.8" text-anchor="end" stroke="#3a7ebd" stroke-width="0.3">IGHMBP2</text>
<line x1="328.6" y1="2114.4" x2="358.6" y2="2114.4" stroke="#3a7ebd" stroke-width="1.3"/><rect x="328.6" y="2103.8" width="1.3" height="21.2" fill="#3a7ebd"/><rect x="357.3" y="2103.8" width="1.3" height="21.2" fill="#3a7ebd"/><rect x="330.1" y="2103.8" width="1.2" height="21.2" fill="#3a7ebd" fill-opacity="0.9"/><rect x="332.1" y="2103.8" width="1.2" height="21.2" fill="#3a7ebd" fill-opacity="1.0"/><rect x="334.6" y="2103.8" width="1.2" height="21.2" fill="#3a7ebd" fill-opacity="0.75"/><rect x="341.6" y="2103.8" width="1.2" height="21.2" fill="#3a7ebd" fill-opacity="0.6"/><rect x="345.6" y="2103.8" width="1.2" height="21.2" fill="#3a7ebd" fill-opacity="0.6"/><rect x="352.6" y="2103.8" width="1.2" height="21.2" fill="#3a7ebd" fill-opacity="0.6"/><rect x="356.6" y="2103.8" width="1.2" height="21.2" fill="#3a7ebd" fill-opacity="0.35"/><rect x="330" y="2103.8" width="5" height="21.2" fill="#3a7ebd"/><path d="M340.1,2109.4 L335.1,2114.4 L340.1,2119.4" stroke="#3a7ebd" stroke-width="1.3" fill="none"/><path d="M350.7,2109.4 L345.7,2114.4 L350.7,2119.4" stroke="#3a7ebd" stroke-width="1.3" fill="none"/>
<text x="333.7" y="2143" text-anchor="end" stroke="#3a7ebd" stroke-width="0.3">IGHMBP2</text>
<line x1="338.6" y1="2136.6" x2="358.6" y2="2136.6" stroke="#3a7ebd" stroke-width="1.3"/><rect x="338.6" y="2126" width="1.3" height="21.2" fill="#3a7ebd"/><rect x="357.3" y="2126" width="1.3" height="21.2" fill="#3a7ebd"/><rect x="340.1" y="2126" width="1.2" height="21.2" fill="#3a7ebd" fill-opacity="1.0"/><rect x="345.6" y="2126" width="1.2" height="21.2" fill="#3a7ebd" fill-opacity="0.6"/><rect x="349.6" y="2126" width="1.2" height="21.2" fill="#3a7ebd" fill-opacity="0.75"/><rect x="351.6" y="2126" width="1.2" height="21.2" fill="#3a7ebd" fill-opacity="0.6"/><path d="M350.1,2131.6 L345.1,2136.6 L350.1,2141.6" stroke="#3a7ebd" stroke-width="1.3" fill="none"/>
<text x="516.6" y="2009.9" text-anchor="end" stroke="#3a7ebd" stroke-width="0.3">GALA_CANFA</text>
<line x1="522" y1="2003.5" x2="528.6" y2="2003.5" stroke="#3a7ebd" stroke-width="1.3"/><rect x="522" y="1992.9" width="1.3" height="21.2" fill="#3a7ebd"/><rect x="527.3" y="1992.9" width="1.3" height="21.2" fill="#3a7ebd"/><rect x="523.5" y="1992.9" width="1.2" height="21.2" fill="#3a7ebd" fill-opacity="0.5"/><rect x="527.5" y="1992.9" width="1.2" height="21.2" fill="#3a7ebd" fill-opacity="1.0"/>
<text x="564.3" y="2032.1" text-anchor="end" stroke="#3a7ebd" stroke-width="0.3">PPP6R3</text>
<line x1="569.1" y1="2025.7" x2="674.9" y2="2025.7" stroke="#3a7ebd" stroke-width="1.3"/><rect x="569.1" y="2015.1" width="1.3" height="21.2" fill="#3a7ebd"/><rect x="673.6" y="2015.1" width="1.3" height="21.2" fill="#3a7ebd"/><rect x="570.6" y="2015.1" width="1.2" height="21.2" fill="#3a7ebd" fill-opacity="0.5"/><rect x="572.6" y="2015.1" width="1.2" height="21.2" fill="#3a7ebd" fill-opacity="0.75"/><rect x="575.1" y="2015.1" width="1.2" height="21.2" fill="#3a7ebd" fill-opacity="0.75"/><rect x="577.1" y="2015.1" width="1.2" height="21.2" fill="#3a7ebd" fill-opacity="0.35"/><rect x="581.1" y="2015.1" width="1.2" height="21.2" fill="#3a7ebd" fill-opacity="0.9"/><rect x="584.1" y="2015.1" width="1.2" height="21.2" fill="#3a7ebd" fill-opacity="0.75"/><rect x="586.6" y="2015.1" width="1.2" height="21.2" fill="#3a7ebd" fill-opacity="0.5"/><rect x="588.6" y="2015.1" width="1.2" height="21.2" fill="#3a7ebd" fill-opacity="0.35"/><rect x="594.1" y="2015.1" width="1.2" height="21.2" fill="#3a7ebd" fill-opacity="0.5"/><rect x="601.1" y="2015.1" width="1.2" height="21.2" fill="#3a7ebd" fill-opacity="0.75"/><rect x="603.1" y="2015.1" width="1.2" height="21.2" fill="#3a7ebd" fill-opacity="0.9"/><rect x="608.6" y="2015.1" width="1.2" height="21.2" fill="#3a7ebd" fill-opacity="0.6"/><rect x="615.6" y="2015.1" width="1.2" height="21.2" fill="#3a7ebd" fill-opacity="0.9"/><rect x="618.1" y="2015.1" width="1.2" height="21.2" fill="#3a7ebd" fill-opacity="0.5"/><rect x="621.1" y="2015.1" width="1.2" height="21.2" fill="#3a7ebd" fill-opacity="0.6"/><rect x="623.6" y="2015.1" width="1.2" height="21.2" fill="#3a7ebd" fill-opacity="0.9"/><rect x="626.1" y="2015.1" width="1.2" height="21.2" fill="#3a7ebd" fill-opacity="0.35"/><rect x="639.6" y="2015.1" width="1.1" height="21.2" fill="#3a7ebd" fill-opacity="0.7"/><rect x="569.1" y="2015.1" width="10.9" height="21.2" fill="#3a7ebd"/><path d="M580.6,2020.7 L575.6,2025.7 L580.6,2030.7" stroke="#3a7ebd" stroke-width="1.3" fill="none"/><path d="M591.2,2020.7 L586.2,2025.7 L591.2,2030.7" stroke="#3a7ebd" stroke-width="1.3" fill="none"/><path d="M601.8,2020.7 L596.8,2025.7 L601.8,2030.7" stroke="#3a7ebd" stroke-width="1.3" fill="none"/><path d="M612.4,2020.7 L607.4,2025.7 L612.4,2030.7" stroke="#3a7ebd" stroke-width="1.3" fill="none"/><path d="M623,2020.7 L618,2025.7 L623,2030.7" stroke="#3a7ebd" stroke-width="1.3" fill="none"/><path d="M633.6,2020.7 L628.6,2025.7 L633.6,2030.7" stroke="#3a7ebd" stroke-width="1.3" fill="none"/><path d="M644.2,2020.7 L639.2,2025.7 L644.2,2030.7" stroke="#3a7ebd" stroke-width="1.3" fill="none"/><path d="M654.8,2020.7 L649.8,2025.7 L654.8,2030.7" stroke="#3a7ebd" stroke-width="1.3" fill="none"/><path d="M665.4,2020.7 L660.4,2025.7 L665.4,2030.7" stroke="#3a7ebd" stroke-width="1.3" fill="none"/><path d="M676,2020.7 L671,2025.7 L676,2030.7" stroke="#3a7ebd" stroke-width="1.3" fill="none"/>
<text x="564.3" y="2054.3" text-anchor="end" stroke="#3a7ebd" stroke-width="0.3">PPP6R3</text>
<line x1="569.1" y1="2047.9" x2="674.9" y2="2047.9" stroke="#3a7ebd" stroke-width="1.3"/><rect x="569.1" y="2037.3" width="1.3" height="21.2" fill="#3a7ebd"/><rect x="673.6" y="2037.3" width="1.3" height="21.2" fill="#3a7ebd"/><rect x="570.6" y="2037.3" width="1.2" height="21.2" fill="#3a7ebd" fill-opacity="0.75"/><rect x="574.6" y="2037.3" width="1.2" height="21.2" fill="#3a7ebd" fill-opacity="0.5"/><rect x="577.6" y="2037.3" width="1.2" height="21.2" fill="#3a7ebd" fill-opacity="0.5"/><rect x="579.6" y="2037.3" width="1.2" height="21.2" fill="#3a7ebd" fill-opacity="0.75"/><rect x="582.6" y="2037.3" width="1.2" height="21.2" fill="#3a7ebd" fill-opacity="0.35"/><rect x="588.1" y="2037.3" width="1.2" height="21.2" fill="#3a7ebd" fill-opacity="1.0"/><rect x="592.1" y="2037.3" width="1.2" height="21.2" fill="#3a7ebd" fill-opacity="0.35"/><rect x="599.1" y="2037.3" width="1.2" height="21.2" fill="#3a7ebd" fill-opacity="0.9"/><rect x="606.1" y="2037.3" width="1.2" height="21.2" fill="#3a7ebd" fill-opacity="0.5"/><rect x="613.1" y="2037.3" width="1.2" height="21.2" fill="#3a7ebd" fill-opacity="0.5"/><rect x="618.6" y="2037.3" width="1.2" height="21.2" fill="#3a7ebd" fill-opacity="0.75"/><rect x="624.1" y="2037.3" width="1.2" height="21.2" fill="#3a7ebd" fill-opacity="0.5"/><rect x="639.6" y="2037.3" width="1.1" height="21.2" fill="#3a7ebd" fill-opacity="0.7"/><rect x="569.1" y="2037.3" width="7.9" height="21.2" fill="#3a7ebd"/><path d="M580.6,2042.9 L575.6,2047.9 L580.6,2052.9" stroke="#3a7ebd" stroke-width="1.3" fill="none"/><path d="M591.2,2042.9 L586.2,2047.9 L591.2,2052.9" stroke="#3a7ebd" stroke-width="1.3" fill="none"/><path d="M601.8,2042.9 L596.8,2047.9 L601.8,2052.9" stroke="#3a7ebd" stroke-width="1.3" fill="none"/><path d="M612.4,2042.9 L607.4,2047.9 L612.4,2052.9" stroke="#3a7ebd" stroke-width="1.3" fill="none"/><path d="M623,2042.9 L618,2047.9 L623,2052.9" stroke="#3a7ebd" stroke-width="1.3" fill="none"/><path d="M633.6,2042.9 L628.6,2047.9 L633.6,2052.9" stroke="#3a7ebd" stroke-width="1.3" fill="none"/><path d="M644.2,2042.9 L639.2,2047.9 L644.2,2052.9" stroke="#3a7ebd" stroke-width="1.3" fill="none"/><path d="M654.8,2042.9 L649.8,2047.9 L654.8,2052.9" stroke="#3a7ebd" stroke-width="1.3" fill="none"/><path d="M665.4,2042.9 L660.4,2047.9 L665.4,2052.9" stroke="#3a7ebd" stroke-width="1.3" fill="none"/><path d="M676,2042.9 L671,2047.9 L676,2052.9" stroke="#3a7ebd" stroke-width="1.3" fill="none"/>
<text x="564.3" y="2076.5" text-anchor="end" stroke="#3a7ebd" stroke-width="0.3">PPP6R3</text>
<line x1="569.1" y1="2070.1" x2="732.3" y2="2070.1" stroke="#3a7ebd" stroke-width="1.3"/><rect x="569.1" y="2059.5" width="1.3" height="21.2" fill="#3a7ebd"/><rect x="731" y="2059.5" width="1.3" height="21.2" fill="#3a7ebd"/><rect x="570.6" y="2059.5" width="1.2" height="21.2" fill="#3a7ebd" fill-opacity="0.5"/><rect x="576.1" y="2059.5" width="1.2" height="21.2" fill="#3a7ebd" fill-opacity="0.5"/><rect x="578.1" y="2059.5" width="1.2" height="21.2" fill="#3a7ebd" fill-opacity="0.75"/><rect x="583.6" y="2059.5" width="1.2" height="21.2" fill="#3a7ebd" fill-opacity="0.5"/><rect x="587.6" y="2059.5" width="1.2" height="21.2" fill="#3a7ebd" fill-opacity="0.6"/><rect x="589.6" y="2059.5" width="1.2" height="21.2" fill="#3a7ebd" fill-opacity="0.5"/><rect x="592.1" y="2059.5" width="1.2" height="21.2" fill="#3a7ebd" fill-opacity="1.0"/><rect x="594.6" y="2059.5" width="1.2" height="21.2" fill="#3a7ebd" fill-opacity="0.35"/><rect x="600.1" y="2059.5" width="1.2" height="21.2" fill="#3a7ebd" fill-opacity="1.0"/><rect x="602.1" y="2059.5" width="1.2" height="21.2" fill="#3a7ebd" fill-opacity="1.0"/><rect x="605.1" y="2059.5" width="1.2" height="21.2" fill="#3a7ebd" fill-opacity="0.35"/><rect x="609.1" y="2059.5" width="1.2" height="21.2" fill="#3a7ebd" fill-opacity="0.9"/><rect x="613.1" y="2059.5" width="1.2" height="21.2" fill="#3a7ebd" fill-opacity="0.9"/><rect x="620.1" y="2059.5" width="1.2" height="21.2" fill="#3a7ebd" fill-opacity="0.6"/><rect x="627.1" y="2059.5" width="1.2" height="21.2" fill="#3a7ebd" fill-opacity="0.75"/><rect x="630.1" y="2059.5" width="1.2" height="21.2" fill="#3a7ebd" fill-opacity="0.9"/><rect x="632.6" y="2059.5" width="1.2" height="21.2" fill="#3a7ebd" fill-opacity="0.75"/><rect x="636.6" y="2059.5" width="1.2" height="21.2" fill="#3a7ebd" fill-opacity="1.0"/><rect x="639.6" y="2059.5" width="1.2" height="21.2" fill="#3a7ebd" fill-opacity="0.75"/><rect x="645.1" y="2059.5" width="1.2" height="21.2" fill="#3a7ebd" fill-opacity="0.75"/><rect x="647.6" y="2059.5" width="1.2" height="21.2" fill="#3a7ebd" fill-opacity="0.35"/><rect x="649.6" y="2059.5" width="1.2" height="21.2" fill="#3a7ebd" fill-opacity="0.9"/><rect x="653.6" y="2059.5" width="1.2" height="21.2" fill="#3a7ebd" fill-opacity="0.75"/><rect x="656.1" y="2059.5" width="1.2" height="21.2" fill="#3a7ebd" fill-opacity="0.75"/><rect x="691.5" y="2059.5" width="1.1" height="21.2" fill="#3a7ebd" fill-opacity="0.7"/><rect x="569.1" y="2059.5" width="7.9" height="21.2" fill="#3a7ebd"/><path d="M580.6,2065.1 L575.6,2070.1 L580.6,2075.1" stroke="#3a7ebd" stroke-width="1.3" fill="none"/><path d="M591.2,2065.1 L586.2,2070.1 L591.2,2075.1" stroke="#3a7ebd" stroke-width="1.3" fill="none"/><path d="M601.8,2065.1 L596.8,2070.1 L601.8,2075.1" stroke="#3a7ebd" stroke-width="1.3" fill="none"/><path d="M612.4,2065.1 L607.4,2070.1 L612.4,2075.1" stroke="#3a7ebd" stroke-width="1.3" fill="none"/><path d="M623,2065.1 L618,2070.1 L623,2075.1" stroke="#3a7ebd" stroke-width="1.3" fill="none"/><path d="M633.6,2065.1 L628.6,2070.1 L633.6,2075.1" stroke="#3a7ebd" stroke-width="1.3" fill="none"/><path d="M644.2,2065.1 L639.2,2070.1 L644.2,2075.1" stroke="#3a7ebd" stroke-width="1.3" fill="none"/><path d="M654.8,2065.1 L649.8,2070.1 L654.8,2075.1" stroke="#3a7ebd" stroke-width="1.3" fill="none"/><path d="M665.4,2065.1 L660.4,2070.1 L665.4,2075.1" stroke="#3a7ebd" stroke-width="1.3" fill="none"/><path d="M676,2065.1 L671,2070.1 L676,2075.1" stroke="#3a7ebd" stroke-width="1.3" fill="none"/><path d="M686.6,2065.1 L681.6,2070.1 L686.6,2075.1" stroke="#3a7ebd" stroke-width="1.3" fill="none"/><path d="M697.2,2065.1 L692.2,2070.1 L697.2,2075.1" stroke="#3a7ebd" stroke-width="1.3" fill="none"/><path d="M707.8,2065.1 L702.8,2070.1 L707.8,2075.1" stroke="#3a7ebd" stroke-width="1.3" fill="none"/><path d="M718.4,2065.1 L713.4,2070.1 L718.4,2075.1" stroke="#3a7ebd" stroke-width="1.3" fill="none"/><path d="M729,2065.1 L724,2070.1 L729,2075.1" stroke="#3a7ebd" stroke-width="1.3" fill="none"/>
<text x="564.3" y="2098.6" text-anchor="end" stroke="#3a7ebd" stroke-width="0.3">PPP6R3</text>
<line x1="569.1" y1="2092.2" x2="732.3" y2="2092.2" stroke="#3a7ebd" stroke-width="1.3"/><rect x="569.1" y="2081.6" width="1.3" height="21.2" fill="#3a7ebd"/><rect x="731" y="2081.6" width="1.3" height="21.2" fill="#3a7ebd"/><rect x="570.6" y="2081.6" width="1.2" height="21.2" fill="#3a7ebd" fill-opacity="0.75"/><rect x="573.1" y="2081.6" width="1.2" height="21.2" fill="#3a7ebd" fill-opacity="0.75"/><rect x="577.1" y="2081.6" width="1.2" height="21.2" fill="#3a7ebd" fill-opacity="0.35"/><rect x="579.1" y="2081.6" width="1.2" height="21.2" fill="#3a7ebd" fill-opacity="0.5"/><rect x="582.1" y="2081.6" width="1.2" height="21.2" fill="#3a7ebd" fill-opacity="0.75"/><rect x="585.1" y="2081.6" width="1.2" height="21.2" fill="#3a7ebd" fill-opacity="0.35"/><rect x="589.1" y="2081.6" width="1.2" height="21.2" fill="#3a7ebd" fill-opacity="0.9"/><rect x="594.6" y="2081.6" width="1.2" height="21.2" fill="#3a7ebd" fill-opacity="1.0"/><rect x="596.6" y="2081.6" width="1.2" height="21.2" fill="#3a7ebd" fill-opacity="0.35"/><rect x="603.6" y="2081.6" width="1.2" height="21.2" fill="#3a7ebd" fill-opacity="0.5"/><rect x="605.6" y="2081.6" width="1.2" height="21.2" fill="#3a7ebd" fill-opacity="1.0"/><rect x="608.6" y="2081.6" width="1.2" height="21.2" fill="#3a7ebd" fill-opacity="1.0"/><rect x="614.1" y="2081.6" width="1.2" height="21.2" fill="#3a7ebd" fill-opacity="0.35"/><rect x="616.1" y="2081.6" width="1.2" height="21.2" fill="#3a7ebd" fill-opacity="0.9"/><rect x="620.1" y="2081.6" width="1.2" height="21.2" fill="#3a7ebd" fill-opacity="1.0"/><rect x="622.6" y="2081.6" width="1.2" height="21.2" fill="#3a7ebd" fill-opacity="0.35"/><rect x="624.6" y="2081.6" width="1.2" height="21.2" fill="#3a7ebd" fill-opacity="0.9"/><rect x="631.6" y="2081.6" width="1.2" height="21.2" fill="#3a7ebd" fill-opacity="1.0"/><rect x="633.6" y="2081.6" width="1.2" height="21.2" fill="#3a7ebd" fill-opacity="0.5"/><rect x="636.1" y="2081.6" width="1.2" height="21.2" fill="#3a7ebd" fill-opacity="0.75"/><rect x="639.1" y="2081.6" width="1.2" height="21.2" fill="#3a7ebd" fill-opacity="0.5"/><rect x="646.1" y="2081.6" width="1.2" height="21.2" fill="#3a7ebd" fill-opacity="1.0"/><rect x="648.6" y="2081.6" width="1.2" height="21.2" fill="#3a7ebd" fill-opacity="0.35"/><rect x="651.6" y="2081.6" width="1.2" height="21.2" fill="#3a7ebd" fill-opacity="0.9"/><rect x="654.6" y="2081.6" width="1.2" height="21.2" fill="#3a7ebd" fill-opacity="0.5"/><rect x="657.6" y="2081.6" width="1.2" height="21.2" fill="#3a7ebd" fill-opacity="0.9"/><rect x="691.5" y="2081.6" width="1.1" height="21.2" fill="#3a7ebd" fill-opacity="0.7"/><rect x="569.1" y="2081.6" width="7.9" height="21.2" fill="#3a7ebd"/><path d="M580.6,2087.2 L575.6,2092.2 L580.6,2097.2" stroke="#3a7ebd" stroke-width="1.3" fill="none"/><path d="M591.2,2087.2 L586.2,2092.2 L591.2,2097.2" stroke="#3a7ebd" stroke-width="1.3" fill="none"/><path d="M601.8,2087.2 L596.8,2092.2 L601.8,2097.2" stroke="#3a7ebd" stroke-width="1.3" fill="none"/><path d="M612.4,2087.2 L607.4,2092.2 L612.4,2097.2" stroke="#3a7ebd" stroke-width="1.3" fill="none"/><path d="M623,2087.2 L618,2092.2 L623,2097.2" stroke="#3a7ebd" stroke-width="1.3" fill="none"/><path d="M633.6,2087.2 L628.6,2092.2 L633.6,2097.2" stroke="#3a7ebd" stroke-width="1.3" fill="none"/><path d="M644.2,2087.2 L639.2,2092.2 L644.2,2097.2" stroke="#3a7ebd" stroke-width="1.3" fill="none"/><path d="M654.8,2087.2 L649.8,2092.2 L654.8,2097.2" stroke="#3a7ebd" stroke-width="1.3" fill="none"/><path d="M665.4,2087.2 L660.4,2092.2 L665.4,2097.2" stroke="#3a7ebd" stroke-width="1.3" fill="none"/><path d="M676,2087.2 L671,2092.2 L676,2097.2" stroke="#3a7ebd" stroke-width="1.3" fill="none"/><path d="M686.6,2087.2 L681.6,2092.2 L686.6,2097.2" stroke="#3a7ebd" stroke-width="1.3" fill="none"/><path d="M697.2,2087.2 L692.2,2092.2 L697.2,2097.2" stroke="#3a7ebd" stroke-width="1.3" fill="none"/><path d="M707.8,2087.2 L702.8,2092.2 L707.8,2097.2" stroke="#3a7ebd" stroke-width="1.3" fill="none"/><path d="M718.4,2087.2 L713.4,2092.2 L718.4,2097.2" stroke="#3a7ebd" stroke-width="1.3" fill="none"/><path d="M729,2087.2 L724,2092.2 L729,2097.2" stroke="#3a7ebd" stroke-width="1.3" fill="none"/>
<text x="564.3" y="2120.8" text-anchor="end" stroke="#3a7ebd" stroke-width="0.3">PPP6R3</text>
<line x1="569.1" y1="2114.4" x2="732.3" y2="2114.4" stroke="#3a7ebd" stroke-width="1.3"/><rect x="569.1" y="2103.8" width="1.3" height="21.2" fill="#3a7ebd"/><rect x="731" y="2103.8" width="1.3" height="21.2" fill="#3a7ebd"/><rect x="570.6" y="2103.8" width="1.2" height="21.2" fill="#3a7ebd" fill-opacity="0.75"/><rect x="573.1" y="2103.8" width="1.2" height="21.2" fill="#3a7ebd" fill-opacity="0.6"/><rect x="578.6" y="2103.8" width="1.2" height="21.2" fill="#3a7ebd" fill-opacity="0.75"/><rect x="581.1" y="2103.8" width="1.2" height="21.2" fill="#3a7ebd" fill-opacity="0.9"/><rect x="584.1" y="2103.8" width="1.2" height="21.2" fill="#3a7ebd" fill-opacity="0.9"/><rect x="589.6" y="2103.8" width="1.2" height="21.2" fill="#3a7ebd" fill-opacity="0.5"/><rect x="592.6" y="2103.8" width="1.2" height="21.2" fill="#3a7ebd" fill-opacity="0.6"/><rect x="594.6" y="2103.8" width="1.2" height="21.2" fill="#3a7ebd" fill-opacity="0.5"/><rect x="597.1" y="2103.8" width="1.2" height="21.2" fill="#3a7ebd" fill-opacity="0.75"/><rect x="599.6" y="2103.8" width="1.2" height="21.2" fill="#3a7ebd" fill-opacity="1.0"/><rect x="602.6" y="2103.8" width="1.2" height="21.2" fill="#3a7ebd" fill-opacity="1.0"/><rect x="605.6" y="2103.8" width="1.2" height="21.2" fill="#3a7ebd" fill-opacity="0.75"/><rect x="608.1" y="2103.8" width="1.2" height="21.2" fill="#3a7ebd" fill-opacity="0.6"/><rect x="610.1" y="2103.8" width="1.2" height="21.2" fill="#3a7ebd" fill-opacity="0.9"/><rect x="612.1" y="2103.8" width="1.2" height="21.2" fill="#3a7ebd" fill-opacity="1.0"/><rect x="615.1" y="2103.8" width="1.2" height="21.2" fill="#3a7ebd" fill-opacity="0.75"/><rect x="620.6" y="2103.8" width="1.2" height="21.2" fill="#3a7ebd" fill-opacity="0.9"/><rect x="626.1" y="2103.8" width="1.2" height="21.2" fill="#3a7ebd" fill-opacity="1.0"/><rect x="628.1" y="2103.8" width="1.2" height="21.2" fill="#3a7ebd" fill-opacity="0.6"/><rect x="633.6" y="2103.8" width="1.2" height="21.2" fill="#3a7ebd" fill-opacity="1.0"/><rect x="637.6" y="2103.8" width="1.2" height="21.2" fill="#3a7ebd" fill-opacity="1.0"/><rect x="640.6" y="2103.8" width="1.2" height="21.2" fill="#3a7ebd" fill-opacity="0.6"/><rect x="644.6" y="2103.8" width="1.2" height="21.2" fill="#3a7ebd" fill-opacity="0.6"/><rect x="650.1" y="2103.8" width="1.2" height="21.2" fill="#3a7ebd" fill-opacity="0.5"/><rect x="653.1" y="2103.8" width="1.2" height="21.2" fill="#3a7ebd" fill-opacity="0.6"/><rect x="655.1" y="2103.8" width="1.2" height="21.2" fill="#3a7ebd" fill-opacity="0.75"/><rect x="657.6" y="2103.8" width="1.2" height="21.2" fill="#3a7ebd" fill-opacity="0.5"/><rect x="691.5" y="2103.8" width="1.1" height="21.2" fill="#3a7ebd" fill-opacity="0.7"/><rect x="569.1" y="2103.8" width="7.9" height="21.2" fill="#3a7ebd"/><path d="M580.6,2109.4 L575.6,2114.4 L580.6,2119.4" stroke="#3a7ebd" stroke-width="1.3" fill="none"/><path d="M591.2,2109.4 L586.2,2114.4 L591.2,2119.4" stroke="#3a7ebd" stroke-width="1.3" fill="none"/><path d="M601.8,2109.4 L596.8,2114.4 L601.8,2119.4" stroke="#3a7ebd" stroke-width="1.3" fill="none"/><path d="M612.4,2109.4 L607.4,2114.4 L612.4,2119.4" stroke="#3a7ebd" stroke-width="1.3" fill="none"/><path d="M623,2109.4 L618,2114.4 L623,2119.4" stroke="#3a7ebd" stroke-width="1.3" fill="none"/><path d="M633.6,2109.4 L628.6,2114.4 L633.6,2119.4" stroke="#3a7ebd" stroke-width="1.3" fill="none"/><path d="M644.2,2109.4 L639.2,2114.4 L644.2,2119.4" stroke="#3a7ebd" stroke-width="1.3" fill="none"/><path d="M654.8,2109.4 L649.8,2114.4 L654.8,2119.4" stroke="#3a7ebd" stroke-width="1.3" fill="none"/><path d="M665.4,2109.4 L660.4,2114.4 L665.4,2119.4" stroke="#3a7ebd" stroke-width="1.3" fill="none"/><path d="M676,2109.4 L671,2114.4 L676,2119.4" stroke="#3a7ebd" stroke-width="1.3" fill="none"/><path d="M686.6,2109.4 L681.6,2114.4 L686.6,2119.4" stroke="#3a7ebd" stroke-width="1.3" fill="none"/><path d="M697.2,2109.4 L692.2,2114.4 L697.2,2119.4" stroke="#3a7ebd" stroke-width="1.3" fill="none"/><path d="M707.8,2109.4 L702.8,2114.4 L707.8,2119.4" stroke="#3a7ebd" stroke-width="1.3" fill="none"/><path d="M718.4,2109.4 L713.4,2114.4 L718.4,2119.4" stroke="#3a7ebd" stroke-width="1.3" fill="none"/><path d="M729,2109.4 L724,2114.4 L729,2119.4" stroke="#3a7ebd" stroke-width="1.3" fill="none"/>
<text x="564.3" y="2143" text-anchor="end" stroke="#3a7ebd" stroke-width="0.3">PPP6R3</text>
<line x1="569.1" y1="2136.6" x2="732.3" y2="2136.6" stroke="#3a7ebd" stroke-width="1.3"/><rect x="569.1" y="2126" width="1.3" height="21.2" fill="#3a7ebd"/><rect x="731" y="2126" width="1.3" height="21.2" fill="#3a7ebd"/><rect x="570.6" y="2126" width="1.2" height="21.2" fill="#3a7ebd" fill-opacity="1.0"/><rect x="572.6" y="2126" width="1.2" height="21.2" fill="#3a7ebd" fill-opacity="0.6"/><rect x="578.1" y="2126" width="1.2" height="21.2" fill="#3a7ebd" fill-opacity="0.6"/><rect x="581.1" y="2126" width="1.2" height="21.2" fill="#3a7ebd" fill-opacity="1.0"/><rect x="586.6" y="2126" width="1.2" height="21.2" fill="#3a7ebd" fill-opacity="1.0"/><rect x="589.6" y="2126" width="1.2" height="21.2" fill="#3a7ebd" fill-opacity="1.0"/><rect x="591.6" y="2126" width="1.2" height="21.2" fill="#3a7ebd" fill-opacity="1.0"/><rect x="593.6" y="2126" width="1.2" height="21.2" fill="#3a7ebd" fill-opacity="0.5"/><rect x="596.1" y="2126" width="1.2" height="21.2" fill="#3a7ebd" fill-opacity="0.6"/><rect x="601.6" y="2126" width="1.2" height="21.2" fill="#3a7ebd" fill-opacity="1.0"/><rect x="605.6" y="2126" width="1.2" height="21.2" fill="#3a7ebd" fill-opacity="0.75"/><rect x="611.1" y="2126" width="1.2" height="21.2" fill="#3a7ebd" fill-opacity="0.6"/><rect x="613.1" y="2126" width="1.2" height="21.2" fill="#3a7ebd" fill-opacity="0.5"/><rect x="617.1" y="2126" width="1.2" height="21.2" fill="#3a7ebd" fill-opacity="0.5"/><rect x="622.6" y="2126" width="1.2" height="21.2" fill="#3a7ebd" fill-opacity="1.0"/><rect x="624.6" y="2126" width="1.2" height="21.2" fill="#3a7ebd" fill-opacity="0.35"/><rect x="626.6" y="2126" width="1.2" height="21.2" fill="#3a7ebd" fill-opacity="0.35"/><rect x="632.1" y="2126" width="1.2" height="21.2" fill="#3a7ebd" fill-opacity="0.6"/><rect x="635.1" y="2126" width="1.2" height="21.2" fill="#3a7ebd" fill-opacity="0.35"/><rect x="640.6" y="2126" width="1.2" height="21.2" fill="#3a7ebd" fill-opacity="0.6"/><rect x="646.1" y="2126" width="1.2" height="21.2" fill="#3a7ebd" fill-opacity="0.5"/><rect x="650.1" y="2126" width="1.2" height="21.2" fill="#3a7ebd" fill-opacity="0.9"/><rect x="653.1" y="2126" width="1.2" height="21.2" fill="#3a7ebd" fill-opacity="0.9"/><rect x="655.6" y="2126" width="1.2" height="21.2" fill="#3a7ebd" fill-opacity="0.5"/><rect x="691.5" y="2126" width="1.1" height="21.2" fill="#3a7ebd" fill-opacity="0.7"/><rect x="569.1" y="2126" width="7.9" height="21.2" fill="#3a7ebd"/><path d="M580.6,2131.6 L575.6,2136.6 L580.6,2141.6" stroke="#3a7ebd" stroke-width="1.3" fill="none"/><path d="M591.2,2131.6 L586.2,2136.6 L591.2,2141.6" stroke="#3a7ebd" stroke-width="1.3" fill="none"/><path d="M601.8,2131.6 L596.8,2136.6 L601.8,2141.6" stroke="#3a7ebd" stroke-width="1.3" fill="none"/><path d="M612.4,2131.6 L607.4,2136.6 L612.4,2141.6" stroke="#3a7ebd" stroke-width="1.3" fill="none"/><path d="M623,2131.6 L618,2136.6 L623,2141.6" stroke="#3a7ebd" stroke-width="1.3" fill="none"/><path d="M633.6,2131.6 L628.6,2136.6 L633.6,2141.6" stroke="#3a7ebd" stroke-width="1.3" fill="none"/><path d="M644.2,2131.6 L639.2,2136.6 L644.2,2141.6" stroke="#3a7ebd" stroke-width="1.3" fill="none"/><path d="M654.8,2131.6 L649.8,2136.6 L654.8,2141.6" stroke="#3a7ebd" stroke-width="1.3" fill="none"/><path d="M665.4,2131.6 L660.4,2136.6 L665.4,2141.6" stroke="#3a7ebd" stroke-width="1.3" fill="none"/><path d="M676,2131.6 L671,2136.6 L676,2141.6" stroke="#3a7ebd" stroke-width="1.3" fill="none"/><path d="M686.6,2131.6 L681.6,2136.6 L686.6,2141.6" stroke="#3a7ebd" stroke-width="1.3" fill="none"/><path d="M697.2,2131.6 L692.2,2136.6 L697.2,2141.6" stroke="#3a7ebd" stroke-width="1.3" fill="none"/><path d="M707.8,2131.6 L702.8,2136.6 L707.8,2141.6" stroke="#3a7ebd" stroke-width="1.3" fill="none"/><path d="M718.4,2131.6 L713.4,2136.6 L718.4,2141.6" stroke="#3a7ebd" stroke-width="1.3" fill="none"/><path d="M729,2131.6 L724,2136.6 L729,2141.6" stroke="#3a7ebd" stroke-width="1.3" fill="none"/>
<text x="564.3" y="2165.2" text-anchor="end" stroke="#3a7ebd" stroke-width="0.3">PPP6R3</text>
<line x1="569.1" y1="2158.8" x2="732.3" y2="2158.8" stroke="#3a7ebd" stroke-width="1.3"/><rect x="569.1" y="2148.2" width="1.3" height="21.2" fill="#3a7ebd"/><rect x="731" y="2148.2" width="1.3" height="21.2" fill="#3a7ebd"/><rect x="570.6" y="2148.2" width="1.2" height="21.2" fill="#3a7ebd" fill-opacity="0.9"/><rect x="574.6" y="2148.2" width="1.2" height="21.2" fill="#3a7ebd" fill-opacity="0.5"/><rect x="577.1" y="2148.2" width="1.2" height="21.2" fill="#3a7ebd" fill-opacity="0.35"/><rect x="579.6" y="2148.2" width="1.2" height="21.2" fill="#3a7ebd" fill-opacity="1.0"/><rect x="582.1" y="2148.2" width="1.2" height="21.2" fill="#3a7ebd" fill-opacity="0.75"/><rect x="584.1" y="2148.2" width="1.2" height="21.2" fill="#3a7ebd" fill-opacity="0.35"/><rect x="591.1" y="2148.2" width="1.2" height="21.2" fill="#3a7ebd" fill-opacity="0.5"/><rect x="598.1" y="2148.2" width="1.2" height="21.2" fill="#3a7ebd" fill-opacity="0.6"/><rect x="602.1" y="2148.2" width="1.2" height="21.2" fill="#3a7ebd" fill-opacity="0.6"/><rect x="604.1" y="2148.2" width="1.2" height="21.2" fill="#3a7ebd" fill-opacity="0.35"/><rect x="611.1" y="2148.2" width="1.2" height="21.2" fill="#3a7ebd" fill-opacity="0.9"/><rect x="614.1" y="2148.2" width="1.2" height="21.2" fill="#3a7ebd" fill-opacity="0.9"/><rect x="621.1" y="2148.2" width="1.2" height="21.2" fill="#3a7ebd" fill-opacity="0.9"/><rect x="625.1" y="2148.2" width="1.2" height="21.2" fill="#3a7ebd" fill-opacity="0.9"/><rect x="630.6" y="2148.2" width="1.2" height="21.2" fill="#3a7ebd" fill-opacity="1.0"/><rect x="634.6" y="2148.2" width="1.2" height="21.2" fill="#3a7ebd" fill-opacity="0.5"/><rect x="637.1" y="2148.2" width="1.2" height="21.2" fill="#3a7ebd" fill-opacity="0.35"/><rect x="639.1" y="2148.2" width="1.2" height="21.2" fill="#3a7ebd" fill-opacity="0.35"/><rect x="644.6" y="2148.2" width="1.2" height="21.2" fill="#3a7ebd" fill-opacity="0.35"/><rect x="648.6" y="2148.2" width="1.2" height="21.2" fill="#3a7ebd" fill-opacity="0.5"/><rect x="651.1" y="2148.2" width="1.2" height="21.2" fill="#3a7ebd" fill-opacity="0.5"/><rect x="653.1" y="2148.2" width="1.2" height="21.2" fill="#3a7ebd" fill-opacity="0.35"/><rect x="655.1" y="2148.2" width="1.2" height="21.2" fill="#3a7ebd" fill-opacity="0.9"/><rect x="691.5" y="2148.2" width="1.1" height="21.2" fill="#3a7ebd" fill-opacity="0.7"/><rect x="569.1" y="2148.2" width="7.9" height="21.2" fill="#3a7ebd"/><path d="M580.6,2153.8 L575.6,2158.8 L580.6,2163.8" stroke="#3a7ebd" stroke-width="1.3" fill="none"/><path d="M591.2,2153.8 L586.2,2158.8 L591.2,2163.8" stroke="#3a7ebd" stroke-width="1.3" fill="none"/><path d="M601.8,2153.8 L596.8,2158.8 L601.8,2163.8" stroke="#3a7ebd" stroke-width="1.3" fill="none"/><path d="M612.4,2153.8 L607.4,2158.8 L612.4,2163.8" stroke="#3a7ebd" stroke-width="1.3" fill="none"/><path d="M623,2153.8 L618,2158.8 L623,2163.8" stroke="#3a7ebd" stroke-width="1.3" fill="none"/><path d="M633.6,2153.8 L628.6,2158.8 L633.6,2163.8" stroke="#3a7ebd" stroke-width="1.3" fill="none"/><path d="M644.2,2153.8 L639.2,2158.8 L644.2,2163.8" stroke="#3a7ebd" stroke-width="1.3" fill="none"/><path d="M654.8,2153.8 L649.8,2158.8 L654.8,2163.8" stroke="#3a7ebd" stroke-width="1.3" fill="none"/><path d="M665.4,2153.8 L660.4,2158.8 L665.4,2163.8" stroke="#3a7ebd" stroke-width="1.3" fill="none"/><path d="M676,2153.8 L671,2158.8 L676,2163.8" stroke="#3a7ebd" stroke-width="1.3" fill="none"/><path d="M686.6,2153.8 L681.6,2158.8 L686.6,2163.8" stroke="#3a7ebd" stroke-width="1.3" fill="none"/><path d="M697.2,2153.8 L692.2,2158.8 L697.2,2163.8" stroke="#3a7ebd" stroke-width="1.3" fill="none"/><path d="M707.8,2153.8 L702.8,2158.8 L707.8,2163.8" stroke="#3a7ebd" stroke-width="1.3" fill="none"/><path d="M718.4,2153.8 L713.4,2158.8 L718.4,2163.8" stroke="#3a7ebd" stroke-width="1.3" fill="none"/><path d="M729,2153.8 L724,2158.8 L729,2163.8" stroke="#3a7ebd" stroke-width="1.3" fill="none"/>
<text x="564.3" y="2187.4" text-anchor="end" stroke="#3a7ebd" stroke-width="0.3">PPP6R3</text>
<line x1="569.1" y1="2181" x2="732.3" y2="2181" stroke="#3a7ebd" stroke-width="1.3"/><rect x="569.1" y="2170.4" width="1.3" height="21.2" fill="#3a7ebd"/><rect x="731" y="2170.4" width="1.3" height="21.2" fill="#3a7ebd"/><rect x="570.6" y="2170.4" width="1.2" height="21.2" fill="#3a7ebd" fill-opacity="1.0"/><rect x="573.1" y="2170.4" width="1.2" height="21.2" fill="#3a7ebd" fill-opacity="0.5"/><rect x="577.1" y="2170.4" width="1.2" height="21.2" fill="#3a7ebd" fill-opacity="0.5"/><rect x="582.6" y="2170.4" width="1.2" height="21.2" fill="#3a7ebd" fill-opacity="0.9"/><rect x="589.6" y="2170.4" width="1.2" height="21.2" fill="#3a7ebd" fill-opacity="0.9"/><rect x="596.6" y="2170.4" width="1.2" height="21.2" fill="#3a7ebd" fill-opacity="1.0"/><rect x="600.6" y="2170.4" width="1.2" height="21.2" fill="#3a7ebd" fill-opacity="0.9"/><rect x="603.1" y="2170.4" width="1.2" height="21.2" fill="#3a7ebd" fill-opacity="0.9"/><rect x="606.1" y="2170.4" width="1.2" height="21.2" fill="#3a7ebd" fill-opacity="0.35"/><rect x="609.1" y="2170.4" width="1.2" height="21.2" fill="#3a7ebd" fill-opacity="1.0"/><rect x="611.1" y="2170.4" width="1.2" height="21.2" fill="#3a7ebd" fill-opacity="1.0"/><rect x="615.1" y="2170.4" width="1.2" height="21.2" fill="#3a7ebd" fill-opacity="1.0"/><rect x="620.6" y="2170.4" width="1.2" height="21.2" fill="#3a7ebd" fill-opacity="0.35"/><rect x="624.6" y="2170.4" width="1.2" height="21.2" fill="#3a7ebd" fill-opacity="0.75"/><rect x="631.6" y="2170.4" width="1.2" height="21.2" fill="#3a7ebd" fill-opacity="0.75"/><rect x="633.6" y="2170.4" width="1.2" height="21.2" fill="#3a7ebd" fill-opacity="1.0"/><rect x="640.6" y="2170.4" width="1.2" height="21.2" fill="#3a7ebd" fill-opacity="0.75"/><rect x="643.1" y="2170.4" width="1.2" height="21.2" fill="#3a7ebd" fill-opacity="0.5"/><rect x="645.1" y="2170.4" width="1.2" height="21.2" fill="#3a7ebd" fill-opacity="0.6"/><rect x="647.6" y="2170.4" width="1.2" height="21.2" fill="#3a7ebd" fill-opacity="1.0"/><rect x="649.6" y="2170.4" width="1.2" height="21.2" fill="#3a7ebd" fill-opacity="0.35"/><rect x="652.6" y="2170.4" width="1.2" height="21.2" fill="#3a7ebd" fill-opacity="1.0"/><rect x="691.5" y="2170.4" width="1.1" height="21.2" fill="#3a7ebd" fill-opacity="0.7"/><rect x="569.1" y="2170.4" width="7.9" height="21.2" fill="#3a7ebd"/><path d="M580.6,2176 L575.6,2181 L580.6,2186" stroke="#3a7ebd" stroke-width="1.3" fill="none"/><path d="M591.2,2176 L586.2,2181 L591.2,2186" stroke="#3a7ebd" stroke-width="1.3" fill="none"/><path d="M601.8,2176 L596.8,2181 L601.8,2186" stroke="#3a7ebd" stroke-width="1.3" fill="none"/><path d="M612.4,2176 L607.4,2181 L612.4,2186" stroke="#3a7ebd" stroke-width="1.3" fill="none"/><path d="M623,2176 L618,2181 L623,2186" stroke="#3a7ebd" stroke-width="1.3" fill="none"/><path d="M633.6,2176 L628.6,2181 L633.6,2186" stroke="#3a7ebd" stroke-width="1.3" fill="none"/><path d="M644.2,2176 L639.2,2181 L644.2,2186" stroke="#3a7ebd" stroke-width="1.3" fill="none"/><path d="M654.8,2176 L649.8,2181 L654.8,2186" stroke="#3a7ebd" stroke-width="1.3" fill="none"/><path d="M665.4,2176 L660.4,2181 L665.4,2186" stroke="#3a7ebd" stroke-width="1.3" fill="none"/><path d="M676,2176 L671,2181 L676,2186" stroke="#3a7ebd" stroke-width="1.3" fill="none"/><path d="M686.6,2176 L681.6,2181 L686.6,2186" stroke="#3a7ebd" stroke-width="1.3" fill="none"/><path d="M697.2,2176 L692.2,2181 L697.2,2186" stroke="#3a7ebd" stroke-width="1.3" fill="none"/><path d="M707.8,2176 L702.8,2181 L707.8,2186" stroke="#3a7ebd" stroke-width="1.3" fill="none"/><path d="M718.4,2176 L713.4,2181 L718.4,2186" stroke="#3a7ebd" stroke-width="1.3" fill="none"/><path d="M729,2176 L724,2181 L729,2186" stroke="#3a7ebd" stroke-width="1.3" fill="none"/>
<text x="564.3" y="2209.5" text-anchor="end" stroke="#3a7ebd" stroke-width="0.3">PPP6R3</text>
<line x1="569.1" y1="2203.1" x2="732.3" y2="2203.1" stroke="#3a7ebd" stroke-width="1.3"/><rect x="569.1" y="2192.5" width="1.3" height="21.2" fill="#3a7ebd"/><rect x="731" y="2192.5" width="1.3" height="21.2" fill="#3a7ebd"/><rect x="570.6" y="2192.5" width="1.2" height="21.2" fill="#3a7ebd" fill-opacity="0.6"/><rect x="577.6" y="2192.5" width="1.2" height="21.2" fill="#3a7ebd" fill-opacity="0.35"/><rect x="580.6" y="2192.5" width="1.2" height="21.2" fill="#3a7ebd" fill-opacity="1.0"/><rect x="586.1" y="2192.5" width="1.2" height="21.2" fill="#3a7ebd" fill-opacity="1.0"/><rect x="590.1" y="2192.5" width="1.2" height="21.2" fill="#3a7ebd" fill-opacity="1.0"/><rect x="595.6" y="2192.5" width="1.2" height="21.2" fill="#3a7ebd" fill-opacity="0.6"/><rect x="598.6" y="2192.5" width="1.2" height="21.2" fill="#3a7ebd" fill-opacity="1.0"/><rect x="601.1" y="2192.5" width="1.2" height="21.2" fill="#3a7ebd" fill-opacity="0.35"/><rect x="606.6" y="2192.5" width="1.2" height="21.2" fill="#3a7ebd" fill-opacity="0.35"/><rect x="609.1" y="2192.5" width="1.2" height="21.2" fill="#3a7ebd" fill-opacity="0.6"/><rect x="611.6" y="2192.5" width="1.2" height="21.2" fill="#3a7ebd" fill-opacity="1.0"/><rect x="614.1" y="2192.5" width="1.2" height="21.2" fill="#3a7ebd" fill-opacity="0.5"/><rect x="621.1" y="2192.5" width="1.2" height="21.2" fill="#3a7ebd" fill-opacity="0.6"/><rect x="623.6" y="2192.5" width="1.2" height="21.2" fill="#3a7ebd" fill-opacity="0.75"/><rect x="626.6" y="2192.5" width="1.2" height="21.2" fill="#3a7ebd" fill-opacity="0.9"/><rect x="629.1" y="2192.5" width="1.2" height="21.2" fill="#3a7ebd" fill-opacity="0.75"/><rect x="636.1" y="2192.5" width="1.2" height="21.2" fill="#3a7ebd" fill-opacity="1.0"/><rect x="643.1" y="2192.5" width="1.2" height="21.2" fill="#3a7ebd" fill-opacity="0.9"/><rect x="647.1" y="2192.5" width="1.2" height="21.2" fill="#3a7ebd" fill-opacity="0.75"/><rect x="652.6" y="2192.5" width="1.2" height="21.2" fill="#3a7ebd" fill-opacity="1.0"/><rect x="654.6" y="2192.5" width="1.2" height="21.2" fill="#3a7ebd" fill-opacity="0.35"/><rect x="691.5" y="2192.5" width="1.1" height="21.2" fill="#3a7ebd" fill-opacity="0.7"/><rect x="569.1" y="2192.5" width="7.9" height="21.2" fill="#3a7ebd"/><path d="M580.6,2198.1 L575.6,2203.1 L580.6,2208.1" stroke="#3a7ebd" stroke-width="1.3" fill="none"/><path d="M591.2,2198.1 L586.2,2203.1 L591.2,2208.1" stroke="#3a7ebd" stroke-width="1.3" fill="none"/><path d="M601.8,2198.1 L596.8,2203.1 L601.8,2208.1" stroke="#3a7ebd" stroke-width="1.3" fill="none"/><path d="M612.4,2198.1 L607.4,2203.1 L612.4,2208.1" stroke="#3a7ebd" stroke-width="1.3" fill="none"/><path d="M623,2198.1 L618,2203.1 L623,2208.1" stroke="#3a7ebd" stroke-width="1.3" fill="none"/><path d="M633.6,2198.1 L628.6,2203.1 L633.6,2208.1" stroke="#3a7ebd" stroke-width="1.3" fill="none"/><path d="M644.2,2198.1 L639.2,2203.1 L644.2,2208.1" stroke="#3a7ebd" stroke-width="1.3" fill="none"/><path d="M654.8,2198.1 L649.8,2203.1 L654.8,2208.1" stroke="#3a7ebd" stroke-width="1.3" fill="none"/><path d="M665.4,2198.1 L660.4,2203.1 L665.4,2208.1" stroke="#3a7ebd" stroke-width="1.3" fill="none"/><path d="M676,2198.1 L671,2203.1 L676,2208.1" stroke="#3a7ebd" stroke-width="1.3" fill="none"/><path d="M686.6,2198.1 L681.6,2203.1 L686.6,2208.1" stroke="#3a7ebd" stroke-width="1.3" fill="none"/><path d="M697.2,2198.1 L692.2,2203.1 L697.2,2208.1" stroke="#3a7ebd" stroke-width="1.3" fill="none"/><path d="M707.8,2198.1 L702.8,2203.1 L707.8,2208.1" stroke="#3a7ebd" stroke-width="1.3" fill="none"/><path d="M718.4,2198.1 L713.4,2203.1 L718.4,2208.1" stroke="#3a7ebd" stroke-width="1.3" fill="none"/><path d="M729,2198.1 L724,2203.1 L729,2208.1" stroke="#3a7ebd" stroke-width="1.3" fill="none"/>
<text x="570.9" y="2231.7" text-anchor="end" stroke="#3a7ebd" stroke-width="0.3">PPP6R3</text>
<line x1="575.7" y1="2225.3" x2="680.9" y2="2225.3" stroke="#3a7ebd" stroke-width="1.3"/><rect x="575.7" y="2214.7" width="1.3" height="21.2" fill="#3a7ebd"/><rect x="679.6" y="2214.7" width="1.3" height="21.2" fill="#3a7ebd"/><rect x="577.2" y="2214.7" width="1.2" height="21.2" fill="#3a7ebd" fill-opacity="1.0"/><rect x="579.7" y="2214.7" width="1.2" height="21.2" fill="#3a7ebd" fill-opacity="0.9"/><rect x="582.7" y="2214.7" width="1.2" height="21.2" fill="#3a7ebd" fill-opacity="0.5"/><rect x="586.7" y="2214.7" width="1.2" height="21.2" fill="#3a7ebd" fill-opacity="0.9"/><rect x="592.2" y="2214.7" width="1.2" height="21.2" fill="#3a7ebd" fill-opacity="0.35"/><rect x="597.7" y="2214.7" width="1.2" height="21.2" fill="#3a7ebd" fill-opacity="0.5"/><rect x="600.2" y="2214.7" width="1.2" height="21.2" fill="#3a7ebd" fill-opacity="0.35"/><rect x="602.2" y="2214.7" width="1.2" height="21.2" fill="#3a7ebd" fill-opacity="0.35"/><rect x="604.2" y="2214.7" width="1.2" height="21.2" fill="#3a7ebd" fill-opacity="0.9"/><rect x="606.7" y="2214.7" width="1.2" height="21.2" fill="#3a7ebd" fill-opacity="0.6"/><rect x="609.2" y="2214.7" width="1.2" height="21.2" fill="#3a7ebd" fill-opacity="1.0"/><rect x="611.2" y="2214.7" width="1.2" height="21.2" fill="#3a7ebd" fill-opacity="0.35"/><rect x="613.2" y="2214.7" width="1.2" height="21.2" fill="#3a7ebd" fill-opacity="0.5"/><rect x="620.2" y="2214.7" width="1.2" height="21.2" fill="#3a7ebd" fill-opacity="1.0"/><rect x="627.2" y="2214.7" width="1.2" height="21.2" fill="#3a7ebd" fill-opacity="0.35"/><rect x="645.8" y="2214.7" width="1.1" height="21.2" fill="#3a7ebd" fill-opacity="0.7"/><path d="M587.2,2220.3 L582.2,2225.3 L587.2,2230.3" stroke="#3a7ebd" stroke-width="1.3" fill="none"/><path d="M597.8,2220.3 L592.8,2225.3 L597.8,2230.3" stroke="#3a7ebd" stroke-width="1.3" fill="none"/><path d="M608.4,2220.3 L603.4,2225.3 L608.4,2230.3" stroke="#3a7ebd" stroke-width="1.3" fill="none"/><path d="M619,2220.3 L614,2225.3 L619,2230.3" stroke="#3a7ebd" stroke-width="1.3" fill="none"/><path d="M629.6,2220.3 L624.6,2225.3 L629.6,2230.3" stroke="#3a7ebd" stroke-width="1.3" fill="none"/><path d="M640.2,2220.3 L635.2,2225.3 L640.2,2230.3" stroke="#3a7ebd" stroke-width="1.3" fill="none"/><path d="M650.8,2220.3 L645.8,2225.3 L650.8,2230.3" stroke="#3a7ebd" stroke-width="1.3" fill="none"/><path d="M661.4,2220.3 L656.4,2225.3 L661.4,2230.3" stroke="#3a7ebd" stroke-width="1.3" fill="none"/><path d="M672,2220.3 L667,2225.3 L672,2230.3" stroke="#3a7ebd" stroke-width="1.3" fill="none"/>
<text x="1315" y="2009.9" text-anchor="end" stroke="#3a7ebd" stroke-width="0.3">CDK2AP2</text>
<line x1="1319.2" y1="2003.5" x2="1321" y2="2003.5" stroke="#3a7ebd" stroke-width="1.3"/><rect x="1319.2" y="1992.9" width="1.3" height="21.2" fill="#3a7ebd"/><rect x="1319.7" y="1992.9" width="1.3" height="21.2" fill="#3a7ebd"/>
<text x="1316.6" y="2032.1" text-anchor="end" stroke="#3a7ebd" stroke-width="0.3">CDK2AP2</text>
<line x1="1321" y1="2025.7" x2="1322.5" y2="2025.7" stroke="#3a7ebd" stroke-width="1.3"/><rect x="1321" y="2015.1" width="1.3" height="21.2" fill="#3a7ebd"/><rect x="1321.2" y="2015.1" width="1.3" height="21.2" fill="#3a7ebd"/>
<text x="1125.3" y="2032.1" text-anchor="end" stroke="#3a7ebd" stroke-width="0.3">NDUFS8</text>
<line x1="1130" y1="2025.7" x2="1135" y2="2025.7" stroke="#3a7ebd" stroke-width="1.3"/><rect x="1130" y="2015.1" width="1.3" height="21.2" fill="#3a7ebd"/><rect x="1133.7" y="2015.1" width="1.3" height="21.2" fill="#3a7ebd"/><rect x="1131.5" y="2015.1" width="1.2" height="21.2" fill="#3a7ebd" fill-opacity="0.35"/>
<text x="1125.3" y="2054.3" text-anchor="end" stroke="#3a7ebd" stroke-width="0.3">NDUFS8</text>
<line x1="1130" y1="2047.9" x2="1135" y2="2047.9" stroke="#3a7ebd" stroke-width="1.3"/><rect x="1130" y="2037.3" width="1.3" height="21.2" fill="#3a7ebd"/><rect x="1133.7" y="2037.3" width="1.3" height="21.2" fill="#3a7ebd"/><rect x="1131.5" y="2037.3" width="1.2" height="21.2" fill="#3a7ebd" fill-opacity="0.35"/><rect x="1133.5" y="2037.3" width="1.2" height="21.2" fill="#3a7ebd" fill-opacity="0.9"/>
<text x="1317.5" y="2054.3" text-anchor="end" stroke="#3a7ebd" stroke-width="0.3">PITPNM1</text>
<line x1="1324" y1="2047.9" x2="1337.7" y2="2047.9" stroke="#3a7ebd" stroke-width="1.3"/><rect x="1324" y="2037.3" width="1.3" height="21.2" fill="#3a7ebd"/><rect x="1336.4" y="2037.3" width="1.3" height="21.2" fill="#3a7ebd"/><rect x="1325.5" y="2037.3" width="1.2" height="21.2" fill="#3a7ebd" fill-opacity="0.5"/><rect x="1331" y="2037.3" width="1.2" height="21.2" fill="#3a7ebd" fill-opacity="1.0"/><rect x="1333" y="2037.3" width="1.2" height="21.2" fill="#3a7ebd" fill-opacity="1.0"/><rect x="1330" y="2037.3" width="7.7" height="21.2" fill="#3a7ebd"/>
<text x="1317.5" y="2076.5" text-anchor="end" stroke="#3a7ebd" stroke-width="0.3">PITPNM1</text>
<line x1="1324" y1="2070.1" x2="1338" y2="2070.1" stroke="#3a7ebd" stroke-width="1.3"/><rect x="1324" y="2059.5" width="1.3" height="21.2" fill="#3a7ebd"/><rect x="1336.7" y="2059.5" width="1.3" height="21.2" fill="#3a7ebd"/><rect x="1325.5" y="2059.5" width="1.2" height="21.2" fill="#3a7ebd" fill-opacity="0.35"/><rect x="1328" y="2059.5" width="1.2" height="21.2" fill="#3a7ebd" fill-opacity="0.5"/><rect x="1330.5" y="2059.5" width="1.2" height="21.2" fill="#3a7ebd" fill-opacity="0.35"/><rect x="1332.5" y="2059.5" width="1.2" height="21.2" fill="#3a7ebd" fill-opacity="0.35"/><rect x="1330" y="2059.5" width="8" height="21.2" fill="#3a7ebd"/>
<text x="1318.2" y="2098.6" text-anchor="end" stroke="#3a7ebd" stroke-width="0.3">PITPNM1</text>
<line x1="1324" y1="2092.2" x2="1338" y2="2092.2" stroke="#3a7ebd" stroke-width="1.3"/><rect x="1324" y="2081.6" width="1.3" height="21.2" fill="#3a7ebd"/><rect x="1336.7" y="2081.6" width="1.3" height="21.2" fill="#3a7ebd"/><rect x="1325.5" y="2081.6" width="1.2" height="21.2" fill="#3a7ebd" fill-opacity="0.35"/><rect x="1332.5" y="2081.6" width="1.2" height="21.2" fill="#3a7ebd" fill-opacity="1.0"/><rect x="1335.5" y="2081.6" width="1.2" height="21.2" fill="#3a7ebd" fill-opacity="0.75"/><rect x="1330" y="2081.6" width="8" height="21.2" fill="#3a7ebd"/>
<text x="1129.9" y="2076.5" text-anchor="end" stroke="#3a7ebd" stroke-width="0.3">ENSCAFG00000011171</text>
<line x1="1136.4" y1="2070.1" x2="1155.8" y2="2070.1" stroke="#3a7ebd" stroke-width="1.3"/><rect x="1136.4" y="2059.5" width="1.3" height="21.2" fill="#3a7ebd"/><rect x="1154.5" y="2059.5" width="1.3" height="21.2" fill="#3a7ebd"/><rect x="1137.9" y="2059.5" width="1.2" height="21.2" fill="#3a7ebd" fill-opacity="0.5"/><rect x="1139.9" y="2059.5" width="1.2" height="21.2" fill="#3a7ebd" fill-opacity="1.0"/><rect x="1142.4" y="2059.5" width="1.2" height="21.2" fill="#3a7ebd" fill-opacity="0.6"/><rect x="1145.4" y="2059.5" width="1.2" height="21.2" fill="#3a7ebd" fill-opacity="0.6"/><rect x="1149.4" y="2059.5" width="1.2" height="21.2" fill="#3a7ebd" fill-opacity="0.6"/><rect x="1151.4" y="2059.5" width="1.2" height="21.2" fill="#3a7ebd" fill-opacity="0.6"/><rect x="1154.4" y="2059.5" width="1.2" height="21.2" fill="#3a7ebd" fill-opacity="0.6"/><path d="M1147.9,2065.1 L1142.9,2070.1 L1147.9,2075.1" stroke="#3a7ebd" stroke-width="1.3" fill="none"/>
<text x="1129.9" y="2098.6" text-anchor="end" stroke="#3a7ebd" stroke-width="0.3">ENSCAFG00000011171</text>
<line x1="1136.4" y1="2092.2" x2="1156.8" y2="2092.2" stroke="#3a7ebd" stroke-width="1.3"/><rect x="1136.4" y="2081.6" width="1.3" height="21.2" fill="#3a7ebd"/><rect x="1155.5" y="2081.6" width="1.3" height="21.2" fill="#3a7ebd"/><rect x="1137.9" y="2081.6" width="1.2" height="21.2" fill="#3a7ebd" fill-opacity="1.0"/><rect x="1140.9" y="2081.6" width="1.2" height="21.2" fill="#3a7ebd" fill-opacity="0.6"/><rect x="1146.4" y="2081.6" width="1.2" height="21.2" fill="#3a7ebd" fill-opacity="0.9"/><rect x="1150.4" y="2081.6" width="1.2" height="21.2" fill="#3a7ebd" fill-opacity="0.6"/><path d="M1147.9,2087.2 L1142.9,2092.2 L1147.9,2097.2" stroke="#3a7ebd" stroke-width="1.3" fill="none"/>
<text x="1130.2" y="2120.8" text-anchor="end" stroke="#3a7ebd" stroke-width="0.3">ENSCAFG00000011171</text>
<line x1="1137.3" y1="2114.4" x2="1142.2" y2="2114.4" stroke="#3a7ebd" stroke-width="1.3"/><rect x="1137.3" y="2103.8" width="1.3" height="21.2" fill="#3a7ebd"/><rect x="1140.9" y="2103.8" width="1.3" height="21.2" fill="#3a7ebd"/><rect x="1138.8" y="2103.8" width="1.2" height="21.2" fill="#3a7ebd" fill-opacity="1.0"/><rect x="1140.8" y="2103.8" width="1.2" height="21.2" fill="#3a7ebd" fill-opacity="0.75"/>
<text x="1130.2" y="2143" text-anchor="end" stroke="#3a7ebd" stroke-width="0.3">ENSCAFG00000011171</text>
<line x1="1137.3" y1="2136.6" x2="1149.7" y2="2136.6" stroke="#3a7ebd" stroke-width="1.3"/><rect x="1137.3" y="2126" width="1.3" height="21.2" fill="#3a7ebd"/><rect x="1148.4" y="2126" width="1.3" height="21.2" fill="#3a7ebd"/><rect x="1138.8" y="2126" width="1.2" height="21.2" fill="#3a7ebd" fill-opacity="0.75"/><rect x="1144.3" y="2126" width="1.2" height="21.2" fill="#3a7ebd" fill-opacity="0.35"/><rect x="1147.3" y="2126" width="1.2" height="21.2" fill="#3a7ebd" fill-opacity="0.75"/><path d="M1148.8,2131.6 L1143.8,2136.6 L1148.8,2141.6" stroke="#3a7ebd" stroke-width="1.3" fill="none"/>
<text x="363.7" y="2165.2" text-anchor="end" stroke="#3a7ebd" stroke-width="0.3">MRPL21</text>
<line x1="369.4" y1="2158.8" x2="373.7" y2="2158.8" stroke="#3a7ebd" stroke-width="1.3"/><rect x="369.4" y="2148.2" width="1.3" height="21.2" fill="#3a7ebd"/><rect x="372.4" y="2148.2" width="1.3" height="21.2" fill="#3a7ebd"/><rect x="370.9" y="2148.2" width="1.2" height="21.2" fill="#3a7ebd" fill-opacity="0.35"/>
<text x="402.9" y="2187.4" text-anchor="end" stroke="#3a7ebd" stroke-width="0.3">CPT1A</text>
<line x1="408" y1="2181" x2="468" y2="2181" stroke="#3a7ebd" stroke-width="1.3"/><rect x="408" y="2170.4" width="1.3" height="21.2" fill="#3a7ebd"/><rect x="466.7" y="2170.4" width="1.3" height="21.2" fill="#3a7ebd"/><rect x="436.5" y="2170.4" width="1.2" height="21.2" fill="#3a7ebd" fill-opacity="0.9"/><rect x="439" y="2170.4" width="1.2" height="21.2" fill="#3a7ebd" fill-opacity="1.0"/><rect x="441" y="2170.4" width="1.2" height="21.2" fill="#3a7ebd" fill-opacity="0.9"/><rect x="444" y="2170.4" width="1.2" height="21.2" fill="#3a7ebd" fill-opacity="0.5"/><rect x="448" y="2170.4" width="1.2" height="21.2" fill="#3a7ebd" fill-opacity="0.35"/><rect x="453.5" y="2170.4" width="1.2" height="21.2" fill="#3a7ebd" fill-opacity="0.5"/><rect x="456.5" y="2170.4" width="1.2" height="21.2" fill="#3a7ebd" fill-opacity="0.35"/><rect x="458.5" y="2170.4" width="1.2" height="21.2" fill="#3a7ebd" fill-opacity="0.6"/><rect x="462.5" y="2170.4" width="1.2" height="21.2" fill="#3a7ebd" fill-opacity="0.35"/><rect x="466.5" y="2170.4" width="1.2" height="21.2" fill="#3a7ebd" fill-opacity="1.0"/><rect x="460" y="2170.4" width="8" height="21.2" fill="#3a7ebd"/><path d="M410.5,2176 L415.5,2181 L410.5,2186" stroke="#3a7ebd" stroke-width="1.3" fill="none"/><path d="M421.1,2176 L426.1,2181 L421.1,2186" stroke="#3a7ebd" stroke-width="1.3" fill="none"/><path d="M431.7,2176 L436.7,2181 L431.7,2186" stroke="#3a7ebd" stroke-width="1.3" fill="none"/><path d="M442.3,2176 L447.3,2181 L442.3,2186" stroke="#3a7ebd" stroke-width="1.3" fill="none"/><path d="M452.9,2176 L457.9,2181 L452.9,2186" stroke="#3a7ebd" stroke-width="1.3" fill="none"/>
<text x="403.7" y="2209.5" text-anchor="end" stroke="#3a7ebd" stroke-width="0.3">CPT1A</text>
<line x1="408.6" y1="2203.1" x2="453.7" y2="2203.1" stroke="#3a7ebd" stroke-width="1.3"/><rect x="408.6" y="2192.5" width="1.3" height="21.2" fill="#3a7ebd"/><rect x="452.4" y="2192.5" width="1.3" height="21.2" fill="#3a7ebd"/><rect x="410.1" y="2192.5" width="1.2" height="21.2" fill="#3a7ebd" fill-opacity="0.75"/><rect x="415.6" y="2192.5" width="1.2" height="21.2" fill="#3a7ebd" fill-opacity="0.6"/><rect x="421.1" y="2192.5" width="1.2" height="21.2" fill="#3a7ebd" fill-opacity="0.6"/><rect x="426.6" y="2192.5" width="1.2" height="21.2" fill="#3a7ebd" fill-opacity="0.5"/><rect x="429.6" y="2192.5" width="1.2" height="21.2" fill="#3a7ebd" fill-opacity="0.5"/><rect x="436.6" y="2192.5" width="1.2" height="21.2" fill="#3a7ebd" fill-opacity="0.5"/><rect x="440.6" y="2192.5" width="1.2" height="21.2" fill="#3a7ebd" fill-opacity="0.5"/><rect x="442.6" y="2192.5" width="1.2" height="21.2" fill="#3a7ebd" fill-opacity="1.0"/><rect x="444.6" y="2192.5" width="1.2" height="21.2" fill="#3a7ebd" fill-opacity="0.75"/><rect x="451.6" y="2192.5" width="1.2" height="21.2" fill="#3a7ebd" fill-opacity="0.9"/><path d="M411.1,2198.1 L416.1,2203.1 L411.1,2208.1" stroke="#3a7ebd" stroke-width="1.3" fill="none"/><path d="M421.7,2198.1 L426.7,2203.1 L421.7,2208.1" stroke="#3a7ebd" stroke-width="1.3" fill="none"/><path d="M432.3,2198.1 L437.3,2203.1 L432.3,2208.1" stroke="#3a7ebd" stroke-width="1.3" fill="none"/><path d="M442.9,2198.1 L447.9,2203.1 L442.9,2208.1" stroke="#3a7ebd" stroke-width="1.3" fill="none"/>
<text x="416.6" y="2231.7" text-anchor="end" stroke="#3a7ebd" stroke-width="0.3">CPT1A</text>
<line x1="421.4" y1="2225.3" x2="468" y2="2225.3" stroke="#3a7ebd" stroke-width="1.3"/><rect x="421.4" y="2214.7" width="1.3" height="21.2" fill="#3a7ebd"/><rect x="466.7" y="2214.7" width="1.3" height="21.2" fill="#3a7ebd"/><rect x="422.9" y="2214.7" width="1.2" height="21.2" fill="#3a7ebd" fill-opacity="1.0"/><rect x="425.9" y="2214.7" width="1.2" height="21.2" fill="#3a7ebd" fill-opacity="0.6"/><rect x="427.9" y="2214.7" width="1.2" height="21.2" fill="#3a7ebd" fill-opacity="0.75"/><rect x="431.9" y="2214.7" width="1.2" height="21.2" fill="#3a7ebd" fill-opacity="1.0"/><rect x="433.9" y="2214.7" width="1.2" height="21.2" fill="#3a7ebd" fill-opacity="0.75"/><rect x="440.9" y="2214.7" width="1.2" height="21.2" fill="#3a7ebd" fill-opacity="0.35"/><rect x="443.9" y="2214.7" width="1.2" height="21.2" fill="#3a7ebd" fill-opacity="0.5"/><rect x="446.9" y="2214.7" width="1.2" height="21.2" fill="#3a7ebd" fill-opacity="0.6"/><rect x="450.9" y="2214.7" width="1.2" height="21.2" fill="#3a7ebd" fill-opacity="0.9"/><rect x="456.4" y="2214.7" width="1.2" height="21.2" fill="#3a7ebd" fill-opacity="0.5"/><rect x="460.4" y="2214.7" width="1.2" height="21.2" fill="#3a7ebd" fill-opacity="1.0"/><rect x="462.9" y="2214.7" width="1.2" height="21.2" fill="#3a7ebd" fill-opacity="0.75"/><rect x="465.4" y="2214.7" width="1.2" height="21.2" fill="#3a7ebd" fill-opacity="0.9"/><rect x="460" y="2214.7" width="8" height="21.2" fill="#3a7ebd"/><path d="M423.9,2220.3 L428.9,2225.3 L423.9,2230.3" stroke="#3a7ebd" stroke-width="1.3" fill="none"/><path d="M434.5,2220.3 L439.5,2225.3 L434.5,2230.3" stroke="#3a7ebd" stroke-width="1.3" fill="none"/><path d="M445.1,2220.3 L450.1,2225.3 L445.1,2230.3" stroke="#3a7ebd" stroke-width="1.3" fill="none"/><path d="M455.7,2220.3 L460.7,2225.3 L455.7,2230.3" stroke="#3a7ebd" stroke-width="1.3" fill="none"/>
<text x="1157.5" y="2165.2" text-anchor="end" stroke="#3a7ebd" stroke-width="0.3">ENSCAFG00000011210</text>
<line x1="1162.7" y1="2158.8" x2="1173.7" y2="2158.8" stroke="#3a7ebd" stroke-width="1.3"/><rect x="1162.7" y="2148.2" width="1.3" height="21.2" fill="#3a7ebd"/><rect x="1172.4" y="2148.2" width="1.3" height="21.2" fill="#3a7ebd"/><rect x="1164.2" y="2148.2" width="1.2" height="21.2" fill="#3a7ebd" fill-opacity="1.0"/><rect x="1169.7" y="2148.2" width="1.2" height="21.2" fill="#3a7ebd" fill-opacity="1.0"/><rect x="1171.7" y="2148.2" width="1.2" height="21.2" fill="#3a7ebd" fill-opacity="0.6"/><rect x="1163" y="2148.2" width="3" height="21.2" fill="#3a7ebd"/><path d="M1165.2,2153.8 L1170.2,2158.8 L1165.2,2163.8" stroke="#3a7ebd" stroke-width="1.3" fill="none"/>
<text x="1157.5" y="2187.4" text-anchor="end" stroke="#3a7ebd" stroke-width="0.3">ENSCAFG00000011210</text>
<line x1="1162.7" y1="2181" x2="1170" y2="2181" stroke="#3a7ebd" stroke-width="1.3"/><rect x="1162.7" y="2170.4" width="1.3" height="21.2" fill="#3a7ebd"/><rect x="1168.7" y="2170.4" width="1.3" height="21.2" fill="#3a7ebd"/><rect x="1164.2" y="2170.4" width="1.2" height="21.2" fill="#3a7ebd" fill-opacity="0.6"/><rect x="1163" y="2170.4" width="3" height="21.2" fill="#3a7ebd"/>
<text x="1157" y="2209.5" text-anchor="end" stroke="#3a7ebd" stroke-width="0.3">ENSCAFG00000011210</text>
<line x1="1162.9" y1="2203.1" x2="1171.4" y2="2203.1" stroke="#3a7ebd" stroke-width="1.3"/><rect x="1162.9" y="2192.5" width="1.3" height="21.2" fill="#3a7ebd"/><rect x="1170.1" y="2192.5" width="1.3" height="21.2" fill="#3a7ebd"/><rect x="1164.4" y="2192.5" width="1.2" height="21.2" fill="#3a7ebd" fill-opacity="0.5"/><rect x="1168.4" y="2192.5" width="1.2" height="21.2" fill="#3a7ebd" fill-opacity="1.0"/><rect x="1165" y="2192.5" width="6.4" height="21.2" fill="#3a7ebd"/>
<text x="1157" y="2231.7" text-anchor="end" stroke="#3a7ebd" stroke-width="0.3">ENSCAFG00000011210</text>
<line x1="1163" y1="2225.3" x2="1173.7" y2="2225.3" stroke="#3a7ebd" stroke-width="1.3"/><rect x="1163" y="2214.7" width="1.3" height="21.2" fill="#3a7ebd"/><rect x="1172.4" y="2214.7" width="1.3" height="21.2" fill="#3a7ebd"/><rect x="1164.5" y="2214.7" width="1.2" height="21.2" fill="#3a7ebd" fill-opacity="1.0"/><rect x="1167.5" y="2214.7" width="1.2" height="21.2" fill="#3a7ebd" fill-opacity="0.5"/><rect x="1171.5" y="2214.7" width="1.2" height="21.2" fill="#3a7ebd" fill-opacity="0.75"/><rect x="1163" y="2214.7" width="3" height="21.2" fill="#3a7ebd"/><path d="M1165.5,2220.3 L1170.5,2225.3 L1165.5,2230.3" stroke="#3a7ebd" stroke-width="1.3" fill="none"/>
<text x="1157" y="2253.9" text-anchor="end" stroke="#3a7ebd" stroke-width="0.3">ENSCAFG00000011210</text>
<line x1="1163" y1="2247.5" x2="1173.7" y2="2247.5" stroke="#3a7ebd" stroke-width="1.3"/><rect x="1163" y="2236.9" width="1.3" height="21.2" fill="#3a7ebd"/><rect x="1172.4" y="2236.9" width="1.3" height="21.2" fill="#3a7ebd"/><rect x="1164.5" y="2236.9" width="1.2" height="21.2" fill="#3a7ebd" fill-opacity="0.6"/><rect x="1170" y="2236.9" width="1.2" height="21.2" fill="#3a7ebd" fill-opacity="0.5"/><rect x="1172.5" y="2236.9" width="1.2" height="21.2" fill="#3a7ebd" fill-opacity="0.6"/><rect x="1163" y="2236.9" width="3" height="21.2" fill="#3a7ebd"/><path d="M1165.5,2242.5 L1170.5,2247.5 L1165.5,2252.5" stroke="#3a7ebd" stroke-width="1.3" fill="none"/>
<text x="491.5" y="2253.9" text-anchor="end" stroke="#3a7ebd" stroke-width="0.3">ENSCAFG00000010770</text>
<line x1="496.1" y1="2247.5" x2="497.2" y2="2247.5" stroke="#3a7ebd" stroke-width="1.3"/><rect x="496.1" y="2236.9" width="1.3" height="21.2" fill="#3a7ebd"/><rect x="495.9" y="2236.9" width="1.3" height="21.2" fill="#3a7ebd"/>
<text x="575" y="2276.1" text-anchor="end" stroke="#3a7ebd" stroke-width="0.3">PPP6R3</text>
<line x1="580.1" y1="2269.7" x2="615.1" y2="2269.7" stroke="#3a7ebd" stroke-width="1.3"/><rect x="580.1" y="2259.1" width="1.3" height="21.2" fill="#3a7ebd"/><rect x="613.8" y="2259.1" width="1.3" height="21.2" fill="#3a7ebd"/><rect x="581.6" y="2259.1" width="1.2" height="21.2" fill="#3a7ebd" fill-opacity="1.0"/><rect x="588.6" y="2259.1" width="1.2" height="21.2" fill="#3a7ebd" fill-opacity="0.5"/><rect x="594.1" y="2259.1" width="1.2" height="21.2" fill="#3a7ebd" fill-opacity="0.5"/><rect x="597.1" y="2259.1" width="1.2" height="21.2" fill="#3a7ebd" fill-opacity="0.6"/><rect x="604.1" y="2259.1" width="1.2" height="21.2" fill="#3a7ebd" fill-opacity="0.9"/><rect x="606.6" y="2259.1" width="1.2" height="21.2" fill="#3a7ebd" fill-opacity="1.0"/><rect x="609.1" y="2259.1" width="1.2" height="21.2" fill="#3a7ebd" fill-opacity="0.5"/><rect x="580.1" y="2259.1" width="4.9" height="21.2" fill="#3a7ebd"/><path d="M591.6,2264.7 L586.6,2269.7 L591.6,2274.7" stroke="#3a7ebd" stroke-width="1.3" fill="none"/><path d="M602.2,2264.7 L597.2,2269.7 L602.2,2274.7" stroke="#3a7ebd" stroke-width="1.3" fill="none"/><path d="M612.8,2264.7 L607.8,2269.7 L612.8,2274.7" stroke="#3a7ebd" stroke-width="1.3" fill="none"/>
<text x="1191.4" y="2276.1" text-anchor="end" stroke="#3a7ebd" stroke-width="0.3">ALDH3B2</text>
<line x1="1196.1" y1="2269.7" x2="1200.5" y2="2269.7" stroke="#3a7ebd" stroke-width="1.3"/><rect x="1196.1" y="2259.1" width="1.3" height="21.2" fill="#3a7ebd"/><rect x="1199.2" y="2259.1" width="1.3" height="21.2" fill="#3a7ebd"/><rect x="1197.6" y="2259.1" width="1.2" height="21.2" fill="#3a7ebd" fill-opacity="0.6"/><rect x="1196.1" y="2259.1" width="2.9" height="21.2" fill="#3a7ebd"/>
<text x="608.8" y="2298.3" text-anchor="end" stroke="#3a7ebd" stroke-width="0.3">ENSCAFG00000029209</text>
<line x1="613.9" y1="2291.9" x2="850.3" y2="2291.9" stroke="#3a7ebd" stroke-width="1.3"/><rect x="613.9" y="2281.3" width="1.3" height="21.2" fill="#3a7ebd"/><rect x="849" y="2281.3" width="1.3" height="21.2" fill="#3a7ebd"/><rect x="689.5" y="2281.3" width="1.2" height="21.2" fill="#3a7ebd"/><rect x="729.8" y="2281.3" width="1.2" height="21.2" fill="#3a7ebd"/><path d="M616.4,2286.9 L621.4,2291.9 L616.4,2296.9" stroke="#3a7ebd" stroke-width="1.3" fill="none"/><path d="M627,2286.9 L632,2291.9 L627,2296.9" stroke="#3a7ebd" stroke-width="1.3" fill="none"/><path d="M637.6,2286.9 L642.6,2291.9 L637.6,2296.9" stroke="#3a7ebd" stroke-width="1.3" fill="none"/><path d="M648.2,2286.9 L653.2,2291.9 L648.2,2296.9" stroke="#3a7ebd" stroke-width="1.3" fill="none"/><path d="M658.8,2286.9 L663.8,2291.9 L658.8,2296.9" stroke="#3a7ebd" stroke-width="1.3" fill="none"/><path d="M669.4,2286.9 L674.4,2291.9 L669.4,2296.9" stroke="#3a7ebd" stroke-width="1.3" fill="none"/><path d="M680,2286.9 L685,2291.9 L680,2296.9" stroke="#3a7ebd" stroke-width="1.3" fill="none"/><path d="M690.6,2286.9 L695.6,2291.9 L690.6,2296.9" stroke="#3a7ebd" stroke-width="1.3" fill="none"/><path d="M701.2,2286.9 L706.2,2291.9 L701.2,2296.9" stroke="#3a7ebd" stroke-width="1.3" fill="none"/><path d="M711.8,2286.9 L716.8,2291.9 L711.8,2296.9" stroke="#3a7ebd" stroke-width="1.3" fill="none"/><path d="M722.4,2286.9 L727.4,2291.9 L722.4,2296.9" stroke="#3a7ebd" stroke-width="1.3" fill="none"/><path d="M733,2286.9 L738,2291.9 L733,2296.9" stroke="#3a7ebd" stroke-width="1.3" fill="none"/><path d="M743.6,2286.9 L748.6,2291.9 L743.6,2296.9" stroke="#3a7ebd" stroke-width="1.3" fill="none"/><path d="M754.2,2286.9 L759.2,2291.9 L754.2,2296.9" stroke="#3a7ebd" stroke-width="1.3" fill="none"/><path d="M764.8,2286.9 L769.8,2291.9 L764.8,2296.9" stroke="#3a7ebd" stroke-width="1.3" fill="none"/><path d="M775.4,2286.9 L780.4,2291.9 L775.4,2296.9" stroke="#3a7ebd" stroke-width="1.3" fill="none"/><path d="M786,2286.9 L791,2291.9 L786,2296.9" stroke="#3a7ebd" stroke-width="1.3" fill="none"/><path d="M796.6,2286.9 L801.6,2291.9 L796.6,2296.9" stroke="#3a7ebd" stroke-width="1.3" fill="none"/><path d="M807.2,2286.9 L812.2,2291.9 L807.2,2296.9" stroke="#3a7ebd" stroke-width="1.3" fill="none"/><path d="M817.8,2286.9 L822.8,2291.9 L817.8,2296.9" stroke="#3a7ebd" stroke-width="1.3" fill="none"/><path d="M828.4,2286.9 L833.4,2291.9 L828.4,2296.9" stroke="#3a7ebd" stroke-width="1.3" fill="none"/><path d="M839,2286.9 L844,2291.9 L839,2296.9" stroke="#3a7ebd" stroke-width="1.3" fill="none"/>
<text x="1210.4" y="2298.3" text-anchor="end" stroke="#3a7ebd" stroke-width="0.3">ENSCAFG00000011297</text>
<line x1="1215.6" y1="2291.9" x2="1224.7" y2="2291.9" stroke="#3a7ebd" stroke-width="1.3"/><rect x="1215.6" y="2281.3" width="1.3" height="21.2" fill="#3a7ebd"/><rect x="1223.4" y="2281.3" width="1.3" height="21.2" fill="#3a7ebd"/><rect x="1217.1" y="2281.3" width="1.2" height="21.2" fill="#3a7ebd" fill-opacity="0.9"/><rect x="1220.1" y="2281.3" width="1.2" height="21.2" fill="#3a7ebd" fill-opacity="0.5"/><rect x="1222.6" y="2281.3" width="1.2" height="21.2" fill="#3a7ebd" fill-opacity="0.6"/><rect x="1217" y="2281.3" width="2" height="21.2" fill="#3a7ebd"/><rect x="1221" y="2281.3" width="2" height="21.2" fill="#3a7ebd"/>
<text x="1211.2" y="2320.4" text-anchor="end" stroke="#3a7ebd" stroke-width="0.3">ENSCAFG00000011297</text>
<line x1="1216.4" y1="2314" x2="1222" y2="2314" stroke="#3a7ebd" stroke-width="1.3"/><rect x="1216.4" y="2303.4" width="1.3" height="21.2" fill="#3a7ebd"/><rect x="1220.7" y="2303.4" width="1.3" height="21.2" fill="#3a7ebd"/><rect x="1217.9" y="2303.4" width="1.2" height="21.2" fill="#3a7ebd" fill-opacity="0.6"/><rect x="1216.4" y="2303.4" width="5.6" height="21.2" fill="#3a7ebd"/>
<text x="1211.2" y="2342.6" text-anchor="end" stroke="#3a7ebd" stroke-width="0.3">ENSCAFG00000011297</text>
<line x1="1216.4" y1="2336.2" x2="1224.7" y2="2336.2" stroke="#3a7ebd" stroke-width="1.3"/><rect x="1216.4" y="2325.6" width="1.3" height="21.2" fill="#3a7ebd"/><rect x="1223.4" y="2325.6" width="1.3" height="21.2" fill="#3a7ebd"/><rect x="1217.9" y="2325.6" width="1.2" height="21.2" fill="#3a7ebd" fill-opacity="0.35"/><rect x="1220.4" y="2325.6" width="1.2" height="21.2" fill="#3a7ebd" fill-opacity="1.0"/><rect x="1222.4" y="2325.6" width="1.2" height="21.2" fill="#3a7ebd" fill-opacity="0.5"/><rect x="1216.4" y="2325.6" width="5.6" height="21.2" fill="#3a7ebd"/>
<text x="1211.2" y="2364.8" text-anchor="end" stroke="#3a7ebd" stroke-width="0.3">ENSCAFG00000011297</text>
<line x1="1216.4" y1="2358.4" x2="1224.7" y2="2358.4" stroke="#3a7ebd" stroke-width="1.3"/><rect x="1216.4" y="2347.8" width="1.3" height="21.2" fill="#3a7ebd"/><rect x="1223.4" y="2347.8" width="1.3" height="21.2" fill="#3a7ebd"/><rect x="1217.9" y="2347.8" width="1.2" height="21.2" fill="#3a7ebd" fill-opacity="0.5"/><rect x="1220.4" y="2347.8" width="1.2" height="21.2" fill="#3a7ebd" fill-opacity="0.6"/><rect x="1216.4" y="2347.8" width="5.6" height="21.2" fill="#3a7ebd"/>
<text x="1211.7" y="2387" text-anchor="end" stroke="#3a7ebd" stroke-width="0.3">ENSCAFG00000011297</text>
<line x1="1216.9" y1="2380.6" x2="1224.7" y2="2380.6" stroke="#3a7ebd" stroke-width="1.3"/><rect x="1216.9" y="2370" width="1.3" height="21.2" fill="#3a7ebd"/><rect x="1223.4" y="2370" width="1.3" height="21.2" fill="#3a7ebd"/><rect x="1218.4" y="2370" width="1.2" height="21.2" fill="#3a7ebd" fill-opacity="0.6"/><rect x="1222.4" y="2370" width="1.2" height="21.2" fill="#3a7ebd" fill-opacity="0.6"/><rect x="1216.9" y="2370" width="5.1" height="21.2" fill="#3a7ebd"/>
<text x="1215" y="2409.2" text-anchor="end" stroke="#3a7ebd" stroke-width="0.3">ENSCAFG00000011297</text>
<line x1="1220.3" y1="2402.8" x2="1224" y2="2402.8" stroke="#3a7ebd" stroke-width="1.3"/><rect x="1220.3" y="2392.2" width="1.3" height="21.2" fill="#3a7ebd"/><rect x="1222.7" y="2392.2" width="1.3" height="21.2" fill="#3a7ebd"/><rect x="1220.3" y="2392.2" width="1.7" height="21.2" fill="#3a7ebd"/>
<text x="1218.2" y="2431.3" text-anchor="end" stroke="#3a7ebd" stroke-width="0.3">ENSCAFG00000011297</text>
<line x1="1222.9" y1="2424.9" x2="1225" y2="2424.9" stroke="#3a7ebd" stroke-width="1.3"/><rect x="1222.9" y="2414.3" width="1.3" height="21.2" fill="#3a7ebd"/><rect x="1223.7" y="2414.3" width="1.3" height="21.2" fill="#3a7ebd"/>
<text x="1218.2" y="2453.5" text-anchor="end" stroke="#3a7ebd" stroke-width="0.3">ENSCAFG00000011297</text>
<line x1="1222.9" y1="2447.1" x2="1225" y2="2447.1" stroke="#3a7ebd" stroke-width="1.3"/><rect x="1222.9" y="2436.5" width="1.3" height="21.2" fill="#3a7ebd"/><rect x="1223.7" y="2436.5" width="1.3" height="21.2" fill="#3a7ebd"/>
<text x="1220.8" y="2475.7" text-anchor="end" stroke="#3a7ebd" stroke-width="0.3">ENSCAFG00000030866</text>
<line x1="1225.2" y1="2469.3" x2="1226.2" y2="2469.3" stroke="#3a7ebd" stroke-width="1.3"/><rect x="1225.2" y="2458.7" width="1.3" height="21.2" fill="#3a7ebd"/><rect x="1224.9" y="2458.7" width="1.3" height="21.2" fill="#3a7ebd"/>
</g>
</svg>
</body></html>
